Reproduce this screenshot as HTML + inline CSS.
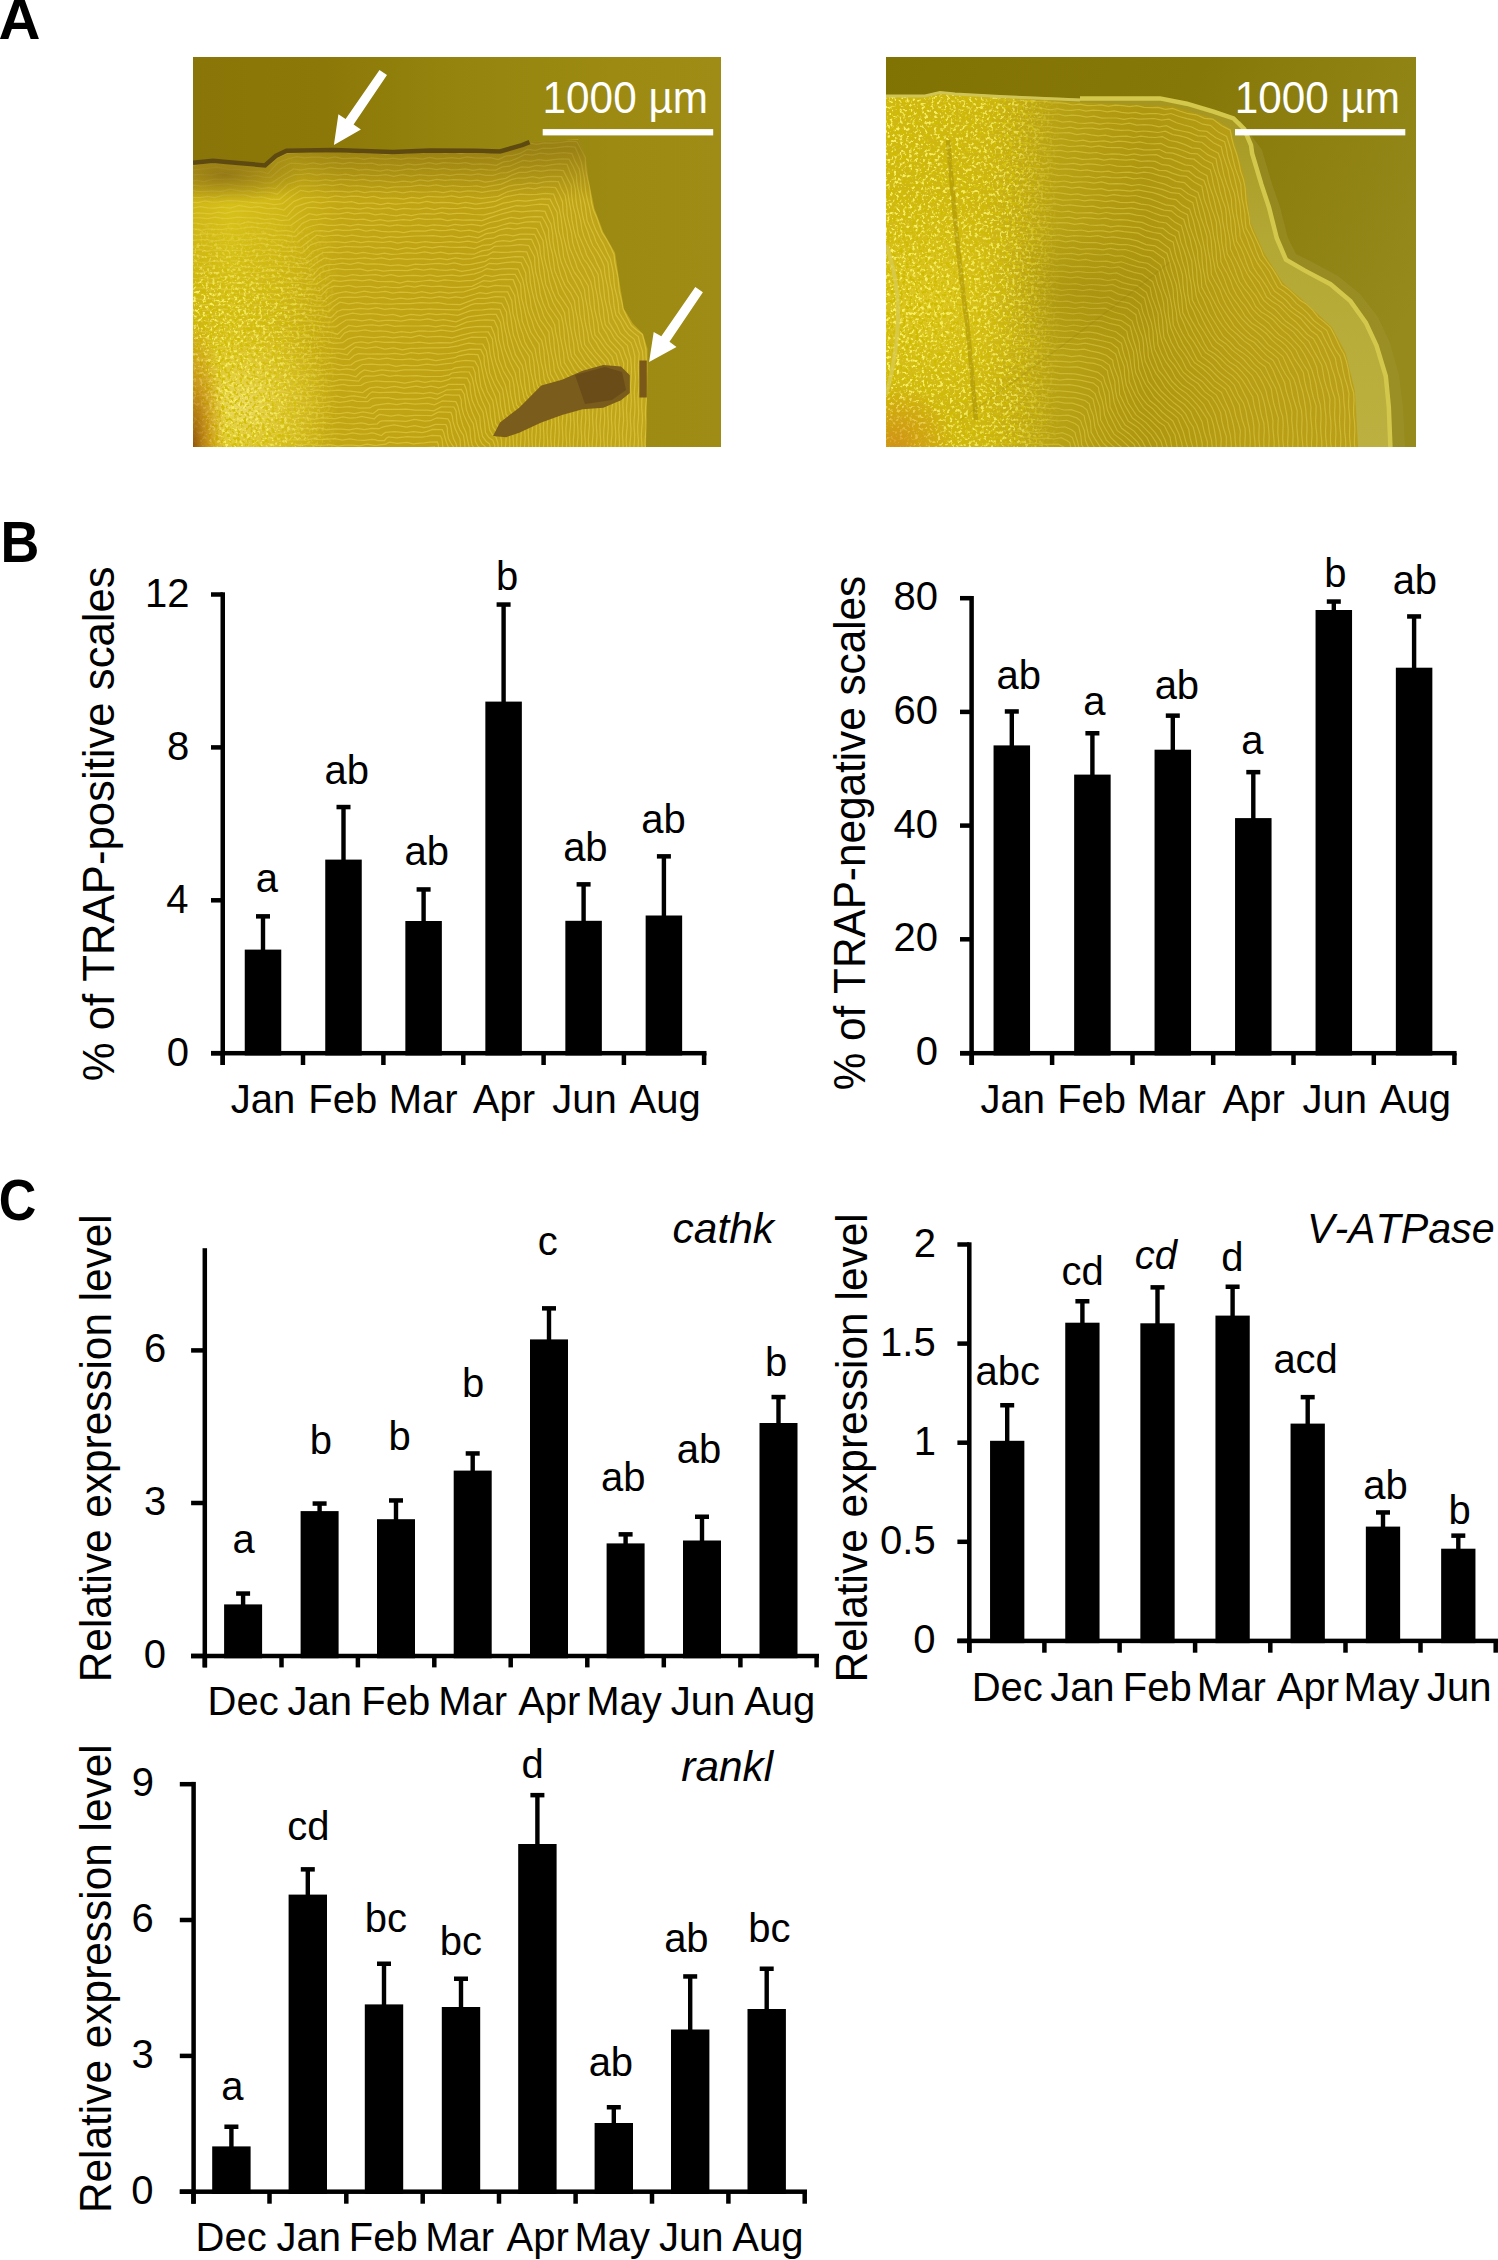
<!DOCTYPE html>
<html><head><meta charset="utf-8"><title>Figure</title>
<style>
html,body{margin:0;padding:0;background:#fff;}
body{width:1498px;height:2260px;overflow:hidden;}
svg{display:block;font-family:"Liberation Sans",sans-serif;}
text{font-kerning:none;}
</style></head>
<body>
<svg width="1498" height="2260" viewBox="0 0 1498 2260">
<rect width="1498" height="2260" fill="#fff"/>
<defs>
  <linearGradient id="bgL" x1="193" y1="0" x2="721" y2="0" gradientUnits="userSpaceOnUse">
    <stop offset="0" stop-color="#8a7608"/>
    <stop offset="0.25" stop-color="#8c7808"/>
    <stop offset="0.5" stop-color="#95850e"/>
    <stop offset="0.8" stop-color="#9c8a12"/>
    <stop offset="1" stop-color="#9e8c16"/>
  </linearGradient>
  <linearGradient id="scL" x1="193" y1="0" x2="650" y2="0" gradientUnits="userSpaceOnUse">
    <stop offset="0" stop-color="#cfb618"/>
    <stop offset="0.08" stop-color="#d6c01a"/>
    <stop offset="0.18" stop-color="#d0b818"/>
    <stop offset="0.32" stop-color="#c2a614"/>
    <stop offset="0.6" stop-color="#bea214"/>
    <stop offset="1" stop-color="#c0a61c"/>
  </linearGradient>
  <radialGradient id="hiL" cx="242" cy="405" r="90" gradientUnits="userSpaceOnUse">
    <stop offset="0" stop-color="#f2e27a" stop-opacity="0.75"/>
    <stop offset="0.5" stop-color="#ecd650" stop-opacity="0.4"/>
    <stop offset="1" stop-color="#e8d040" stop-opacity="0"/>
  </radialGradient>
  <radialGradient id="orL" cx="193" cy="447" r="130" gradientTransform="translate(193 447) scale(0.25 1) translate(-193 -447)" gradientUnits="userSpaceOnUse">
    <stop offset="0" stop-color="#8a4a08" stop-opacity="0.9"/>
    <stop offset="0.5" stop-color="#b87010" stop-opacity="0.5"/>
    <stop offset="1" stop-color="#c88818" stop-opacity="0"/>
  </radialGradient>
  <radialGradient id="brL" cx="225" cy="175" r="60" gradientTransform="translate(225 175) scale(1.3 0.5) translate(-225 -175)" gradientUnits="userSpaceOnUse">
    <stop offset="0" stop-color="#7a5a14" stop-opacity="0.6"/>
    <stop offset="1" stop-color="#7a5a14" stop-opacity="0"/>
  </radialGradient>
  <linearGradient id="topL" x1="0" y1="150" x2="0" y2="200" gradientUnits="userSpaceOnUse">
    <stop offset="0" stop-color="#6e5810" stop-opacity="0.45"/>
    <stop offset="1" stop-color="#6e5810" stop-opacity="0"/>
  </linearGradient>
  <linearGradient id="bgR" x1="886" y1="57" x2="1416" y2="300" gradientUnits="userSpaceOnUse">
    <stop offset="0" stop-color="#817204"/>
    <stop offset="0.5" stop-color="#867808"/>
    <stop offset="1" stop-color="#968a1c"/>
  </linearGradient>
  <linearGradient id="scR" x1="886" y1="0" x2="1360" y2="0" gradientUnits="userSpaceOnUse">
    <stop offset="0" stop-color="#d0b814"/>
    <stop offset="0.2" stop-color="#ceb612"/>
    <stop offset="0.35" stop-color="#b8a214"/>
    <stop offset="0.55" stop-color="#ae9610"/>
    <stop offset="0.75" stop-color="#b89e16"/>
    <stop offset="1" stop-color="#baa01a"/>
  </linearGradient>
  <linearGradient id="bandR" x1="0" y1="100" x2="0" y2="447" gradientUnits="userSpaceOnUse">
    <stop offset="0" stop-color="#a49620"/>
    <stop offset="0.4" stop-color="#b4a834"/>
    <stop offset="1" stop-color="#bcb040"/>
  </linearGradient>
  <radialGradient id="hiR" cx="930" cy="300" r="110" gradientUnits="userSpaceOnUse">
    <stop offset="0" stop-color="#e8d42a" stop-opacity="0.55"/>
    <stop offset="1" stop-color="#e8d42a" stop-opacity="0"/>
  </radialGradient>
  <radialGradient id="orR" cx="895" cy="445" r="60" gradientUnits="userSpaceOnUse">
    <stop offset="0" stop-color="#d08818" stop-opacity="0.75"/>
    <stop offset="1" stop-color="#d08818" stop-opacity="0"/>
  </radialGradient>
  <radialGradient id="dkR" cx="1080" cy="290" r="80" gradientTransform="translate(1080 290) scale(1.3 0.8) translate(-1080 -290)" gradientUnits="userSpaceOnUse">
    <stop offset="0" stop-color="#907808" stop-opacity="0.25"/>
    <stop offset="1" stop-color="#8a7a0a" stop-opacity="0"/>
  </radialGradient>
  <linearGradient id="rmaskG" x1="960" y1="0" x2="1070" y2="0" gradientUnits="userSpaceOnUse">
    <stop offset="0" stop-color="#fff" stop-opacity="0.15"/>
    <stop offset="1" stop-color="#fff" stop-opacity="1"/>
  </linearGradient>
  <mask id="rmask" maskUnits="userSpaceOnUse" x="886" y="57" width="530" height="390"><rect x="886" y="57" width="530" height="390" fill="url(#rmaskG)"/></mask>
  <filter id="spk" filterUnits="userSpaceOnUse" x="0" y="0" width="1498" height="480">
    <feTurbulence type="fractalNoise" baseFrequency="0.32" numOctaves="2" seed="7" result="n"/>
    <feColorMatrix in="n" type="matrix" values="0 0 0 0 0.95  0 0 0 0 0.88  0 0 0 0 0.14  0 0 0 6 -3.1"/>
    <feComposite in2="SourceGraphic" operator="in"/>
  </filter>
  <filter id="spkd" filterUnits="userSpaceOnUse" x="0" y="0" width="1498" height="480">
    <feTurbulence type="fractalNoise" baseFrequency="0.32" numOctaves="2" seed="11" result="n"/>
    <feColorMatrix in="n" type="matrix" values="0 0 0 0 0.62  0 0 0 0 0.5  0 0 0 0 0.0  0 0 0 6 -3.0"/>
    <feComposite in2="SourceGraphic" operator="in"/>
  </filter>
  <linearGradient id="spkGR" x1="886" y1="0" x2="1060" y2="0" gradientUnits="userSpaceOnUse">
    <stop offset="0" stop-color="#fff" stop-opacity="1"/>
    <stop offset="0.7" stop-color="#fff" stop-opacity="0.8"/>
    <stop offset="1" stop-color="#fff" stop-opacity="0"/>
  </linearGradient>
  <linearGradient id="spkGL" x1="193" y1="0" x2="340" y2="0" gradientUnits="userSpaceOnUse">
    <stop offset="0" stop-color="#fff" stop-opacity="1"/>
    <stop offset="0.6" stop-color="#fff" stop-opacity="0.7"/>
    <stop offset="1" stop-color="#fff" stop-opacity="0"/>
  </linearGradient>
  <linearGradient id="mLvG" x1="0" y1="215" x2="0" y2="300" gradientUnits="userSpaceOnUse">
    <stop offset="0" stop-color="#fff" stop-opacity="0.0"/>
    <stop offset="1" stop-color="#fff" stop-opacity="1"/>
  </linearGradient>
  <mask id="mLv" maskUnits="userSpaceOnUse" x="193" y="57" width="528" height="390"><rect x="193" y="57" width="528" height="390" fill="url(#mLvG)"/></mask>
  <clipPath id="cpL"><rect x="193" y="57" width="528" height="390"/></clipPath>
  <clipPath id="cpR"><rect x="886" y="57" width="530" height="390"/></clipPath>
  <clipPath id="scLclip"><path d="M193,162.7 L213,160.7 L226.4,162 L265,165.4 L275.8,156 L286.5,150.7 L333.2,150 L393,152 L430,150.5 L475.7,150.7 L500,151.5 L522.1,145.1 L529.5,142.1 L578.2,139.2 L585.6,156.9 L588.5,179 L594.4,208.5 L603.3,232.1 L615.1,252.8 L619.5,282.3 L623.9,308.8 L632.8,323.6 L643.1,333.9 L647.5,348.7 L647.5,370.8 L646,447 L193,447 Z"/></clipPath>
  <clipPath id="scRclip"><path d="M886,97 L925,97 L940,94 L955,95 L1000,97.5 L1080,102.4 L1173.5,106.4 L1213.5,118.4 L1230.9,129 L1234.9,145 L1244.5,176.8 L1250.7,222.8 L1264.5,253.5 L1282.9,282.7 L1307.5,304.2 L1332,327.2 L1345.8,353.3 L1355,391.7 L1358.1,447 L886,447 Z"/></clipPath>
</defs>
<g clip-path="url(#cpL)">
  <rect x="193" y="57" width="528" height="390" fill="url(#bgL)"/>
  <g clip-path="url(#scLclip)">
    <rect x="193" y="57" width="528" height="390" fill="url(#scL)"/>
    <path d="M-296.4,164.3 L-289.4,163.1 L-282.4,164.6 L-275.4,163.9 L-268.4,163.8 L-261.4,165.3 L-254.4,164.1 L-247.4,164.9 L-240.4,165.4 L-233.4,164.0 L-226.4,165.1 L-219.3,164.4 L-212.3,163.4 L-205.3,164.7 L-198.3,163.5 L-191.3,163.7 L-184.3,164.9 L-177.3,163.6 L-170.3,164.9 L-163.3,165.2 L-156.3,164.1 L-149.3,165.5 L-142.3,164.6 L-135.3,164.0 L-128.2,165.0 L-121.2,163.4 L-114.2,163.9 L-107.2,164.5 L-100.2,163.2 L-93.2,164.7 L-86.2,164.6 L-79.2,164.0 L-72.2,165.6 L-65.2,164.5 L-58.2,164.5 L-51.2,165.4 L-44.2,163.7 L-37.1,164.4 L-30.1,164.4 L-23.1,163.1 L-16.1,164.6 L-9.1,164.0 L-2.1,163.8 L4.9,165.3 L11.9,164.2 L18.9,164.8 L25.9,165.5 L32.9,163.9 L39.9,165.0 L46.9,164.5 L53.9,163.4 L61.0,164.7 L68.0,163.6 L75.0,163.7 L82.0,164.9 L89.0,163.7 L96.0,164.8 L103.0,165.2 L110.0,164.1 L117.0,165.5 L124.0,164.6 L131.0,163.9 L138.0,165.0 L145.0,163.5 L152.1,163.8 L159.1,164.6 L166.1,163.3 L173.1,164.7 L180.1,164.7 L187.1,164.0 L194.1,165.6 L204.2,163.1 L214.2,163.4 L227.4,163.2 L235.0,164.6 L242.6,163.8 L250.2,165.9 L257.9,165.9 L265.5,166.9 L271.3,163.4 L276.9,158.0 L287.4,153.3 L295.1,152.8 L302.9,151.9 L310.6,152.8 L318.3,150.9 L326.1,152.0 L333.8,151.2 L341.3,151.2 L348.7,152.8 L356.2,151.8 L363.6,153.4 L371.1,153.6 L378.5,153.1 L386.0,154.7 L393.5,153.3 L400.8,153.5 L408.1,153.2 L415.5,151.6 L422.8,152.8 L430.2,151.5 L437.7,152.0 L445.3,153.0 L452.9,151.9 L460.5,153.5 L468.1,152.5 L475.6,152.6 L483.7,153.3 L491.8,152.1 L499.9,153.7 L507.0,150.1 L514.1,148.6 L521.3,147.1 L528.5,143.0 L536.5,144.4 L544.6,142.8 L552.7,143.2 L560.7,142.5 L568.8,141.2 L576.9,141.6 L581.1,149.5 L585.2,157.5 L585.5,164.8 L586.2,172.2 L587.7,179.6 L589.5,187.2 L590.5,194.9 L591.5,202.6 L593.5,210.2 L596.9,218.0 L599.3,225.2 L601.9,232.4 L606.3,239.2 L610.6,247.1 L614.1,254.7 L614.7,262.0 L616.2,269.2 L617.8,276.3 L618.5,283.4 L619.4,291.9 L621.5,300.4 L623.2,309.1 L627.0,317.1 L631.3,325.6 L636.9,330.3 L642.4,334.4 L644.3,341.9 L645.9,349.6 L646.1,357.0 L646.7,364.3 L646.6,371.6 L645.8,378.8 L645.8,385.9 L646.4,393.0 L646.3,400.1 L645.6,407.2 L645.4,414.4 L646.0,421.5 L646.1,428.6 L645.4,435.7 L645.0,442.9 L645.5,450.0 L645.8,457.1 L645.2,464.2 L644.7,471.4 L645.1,478.5 L645.5,485.6 L645.0,492.7 L644.4,499.9 M-285.4,170.8 L-278.3,170.0 L-271.2,169.9 L-264.1,170.9 L-257.0,169.3 L-249.9,169.9 L-242.8,170.0 L-235.7,168.6 L-228.6,170.0 L-221.5,169.2 L-214.4,169.1 L-207.3,170.6 L-200.2,169.4 L-193.1,170.3 L-186.0,170.8 L-178.9,169.4 L-171.9,170.7 L-164.8,169.8 L-157.7,169.1 L-150.6,170.2 L-143.5,168.7 L-136.4,169.3 L-129.3,170.0 L-122.2,168.9 L-115.1,170.4 L-108.0,170.2 L-100.9,169.6 L-93.8,171.1 L-86.7,169.7 L-79.6,169.9 L-72.5,170.4 L-65.4,168.7 L-58.3,169.8 L-51.2,169.4 L-44.1,168.7 L-37.0,170.3 L-29.9,169.4 L-22.8,169.8 L-15.7,170.9 L-8.6,169.5 L-1.5,170.6 L5.6,170.3 L12.7,169.1 L19.8,170.4 L26.9,169.1 L34.0,169.0 L41.1,170.1 L48.2,168.7 L55.3,170.0 L62.4,170.2 L69.5,169.4 L76.6,171.0 L83.7,170.0 L90.8,169.8 L97.9,170.7 L105.0,169.0 L112.1,169.7 L119.2,169.7 L126.3,168.5 L133.4,170.1 L140.4,169.4 L147.5,169.4 L154.6,170.8 L161.7,169.5 L168.8,170.4 L175.9,170.7 L183.0,169.3 L190.1,170.5 L197.2,169.5 L207.0,168.5 L216.7,167.1 L229.9,169.7 L237.5,169.2 L245.1,170.9 L252.7,171.9 L260.3,171.5 L268.0,173.6 L272.9,168.1 L278.2,162.5 L289.1,158.5 L296.8,156.7 L304.4,157.9 L312.0,157.2 L319.7,157.1 L327.3,158.3 L334.9,156.9 L342.2,158.6 L349.5,158.3 L356.8,157.9 L364.1,159.3 L371.4,157.8 L378.7,158.7 L386.0,159.0 L393.3,158.1 L400.5,159.4 L407.8,158.2 L415.1,158.2 L422.4,159.1 L429.6,157.5 L437.1,158.8 L444.5,158.3 L452.0,157.6 L459.4,158.7 L466.9,157.0 L474.4,157.9 L482.3,158.0 L490.2,157.7 L498.1,159.5 L505.5,156.1 L512.9,155.3 L520.2,153.3 L527.5,149.4 L535.4,150.3 L543.3,148.1 L551.2,148.4 L559.2,147.4 L567.1,146.3 L575.0,147.1 L578.6,155.0 L581.5,163.1 L582.7,170.3 L584.2,177.6 L585.0,184.9 L585.8,192.5 L587.4,200.1 L589.5,207.8 L590.9,215.3 L593.1,223.2 L596.0,230.4 L599.6,237.5 L603.4,244.1 L606.7,251.8 L610.4,259.3 L612.1,266.5 L613.4,273.6 L613.9,280.6 L614.6,287.6 L616.8,295.9 L618.3,304.1 L619.0,312.5 L623.5,319.9 L628.5,328.1 L633.6,332.9 L638.3,336.6 L639.9,343.6 L642.4,351.1 L643.0,358.3 L642.7,365.5 L642.1,372.7 L642.2,379.7 L642.8,386.8 L642.6,393.8 L641.8,400.8 L641.7,407.8 L642.3,414.8 L642.4,421.8 L641.7,428.8 L641.3,435.9 L641.8,442.9 L642.1,449.9 L641.5,456.9 L641.0,463.9 L641.3,471.0 L641.8,478.0 L641.4,485.0 L640.7,492.0 L640.8,499.0 M-273.3,174.5 L-266.2,175.6 L-259.1,174.0 L-252.0,174.9 L-244.9,175.4 L-237.8,174.3 L-230.7,176.0 L-223.7,175.5 L-216.6,175.1 L-209.5,176.4 L-202.4,174.9 L-195.3,175.3 L-188.2,175.6 L-181.1,174.1 L-174.0,175.3 L-167.0,174.7 L-159.9,174.2 L-152.8,175.8 L-145.7,174.7 L-138.6,175.4 L-131.5,176.2 L-124.4,174.9 L-117.4,176.1 L-110.3,175.6 L-103.2,174.5 L-96.1,175.7 L-89.0,174.4 L-81.9,174.5 L-74.8,175.4 L-67.8,174.1 L-60.7,175.5 L-53.6,175.6 L-46.5,174.8 L-39.4,176.4 L-32.3,175.3 L-25.2,175.2 L-18.2,176.1 L-11.1,174.3 L-4.0,175.1 L3.1,175.1 L10.2,173.9 L17.3,175.5 L24.4,174.8 L31.4,174.8 L38.5,176.2 L45.6,174.9 L52.7,175.8 L59.8,176.1 L66.9,174.6 L74.0,175.8 L81.0,174.9 L88.1,174.3 L95.2,175.5 L102.3,174.1 L109.4,174.9 L116.5,175.7 L123.6,174.6 L130.6,176.1 L137.7,175.7 L144.8,175.0 L151.9,176.3 L159.0,174.8 L166.1,175.0 L173.2,175.5 L180.2,173.9 L187.3,175.2 L194.4,174.9 L201.5,174.3 L211.1,175.0 L220.7,173.0 L233.7,174.8 L241.1,175.1 L248.5,176.6 L255.9,175.5 L263.3,177.2 L270.7,177.4 L280.9,168.5 L290.7,163.1 L298.2,163.5 L305.7,164.4 L313.2,163.0 L320.7,164.3 L328.2,163.2 L335.7,162.7 L342.9,163.8 L350.1,162.3 L357.3,163.5 L364.5,163.7 L371.8,163.1 L379.0,165.0 L386.2,164.3 L393.4,165.0 L400.5,165.7 L407.6,164.0 L414.7,164.8 L421.8,164.1 L428.9,162.7 L436.3,164.0 L443.6,162.6 L450.9,163.0 L458.3,163.7 L465.6,162.6 L472.9,164.3 L480.8,163.9 L488.6,164.4 L496.4,165.4 L503.4,161.9 L510.4,161.0 L517.5,158.2 L524.8,154.5 L532.6,155.2 L540.5,153.2 L548.4,154.0 L556.2,153.3 L564.1,152.7 L571.9,153.6 L575.1,161.4 L579.3,169.3 L580.5,176.4 L580.8,183.5 L581.4,190.7 L583.4,198.1 L585.2,205.5 L586.1,213.0 L587.1,220.4 L590.4,228.0 L593.8,235.0 L596.1,241.8 L599.5,248.0 L603.6,255.3 L607.9,262.6 L608.8,269.7 L609.3,276.7 L610.4,283.7 L612.1,290.5 L613.4,298.6 L614.1,306.7 L615.9,314.9 L620.7,322.0 L624.7,330.1 L629.2,335.3 L634.0,339.1 L636.6,346.0 L639.2,353.3 L638.7,360.4 L638.2,367.5 L638.6,374.6 L639.1,381.9 L638.7,389.2 L638.0,396.5 L638.2,403.8 L638.7,411.1 L638.4,418.4 L637.7,425.7 L637.8,433.0 L638.4,440.3 L638.1,447.7 L637.4,455.0 L637.4,462.3 L638.0,469.6 L637.8,476.9 L637.1,484.2 L637.0,491.5 L637.6,498.8 M-262.8,180.0 L-255.7,181.0 L-248.6,181.5 L-241.5,180.3 L-234.5,181.6 L-227.4,180.7 L-220.3,180.0 L-213.3,181.1 L-206.2,179.6 L-199.1,180.1 L-192.0,180.8 L-185.0,179.5 L-177.9,181.1 L-170.8,180.9 L-163.7,180.3 L-156.7,181.8 L-149.6,180.6 L-142.5,180.7 L-135.4,181.3 L-128.4,179.6 L-121.3,180.6 L-114.2,180.3 L-107.1,179.4 L-100.1,181.0 L-93.0,180.1 L-85.9,180.4 L-78.8,181.6 L-71.8,180.3 L-64.7,181.3 L-57.6,181.3 L-50.6,180.0 L-43.5,181.2 L-36.4,180.1 L-29.3,179.7 L-22.3,180.9 L-15.2,179.5 L-8.1,180.5 L-1.0,181.0 L6.0,180.0 L13.1,181.6 L20.2,181.0 L27.3,180.5 L34.3,181.7 L41.4,180.1 L48.5,180.4 L55.6,180.8 L62.6,179.3 L69.7,180.6 L76.8,180.3 L83.8,179.8 L90.9,181.5 L98.0,180.4 L105.1,180.9 L112.1,181.7 L119.2,180.2 L126.3,181.2 L133.4,180.8 L140.4,179.6 L147.5,180.9 L154.6,179.8 L161.7,179.9 L168.7,181.1 L175.8,179.8 L182.9,181.1 L190.0,181.3 L197.0,180.3 L204.1,181.7 L213.6,179.2 L223.2,179.3 L235.8,178.8 L243.0,180.9 L250.3,180.3 L257.6,181.5 L264.9,183.1 L272.2,182.6 L283.1,175.5 L293.5,168.9 L300.9,170.2 L308.3,168.6 L315.6,168.6 L323.0,169.0 L330.4,167.4 L337.8,168.7 L344.8,168.4 L351.9,168.4 L359.0,170.2 L366.1,169.3 L373.1,170.2 L380.2,171.0 L387.3,169.7 L394.3,171.1 L401.4,170.1 L408.4,168.9 L415.4,169.9 L422.4,168.4 L429.4,168.4 L436.6,169.5 L443.8,168.3 L451.1,169.8 L458.3,169.7 L465.5,169.0 L472.7,170.4 L480.4,169.1 L488.0,169.9 L495.7,170.0 L502.7,166.8 L509.6,166.2 L516.4,163.3 L523.2,160.4 L530.8,161.4 L538.5,159.6 L546.1,160.7 L553.7,159.6 L561.4,158.8 L569.0,159.2 L573.2,166.7 L576.4,174.3 L576.7,181.2 L577.9,188.2 L579.5,195.2 L580.7,202.4 L581.5,209.7 L582.9,217.0 L584.9,224.2 L587.8,231.8 L590.0,238.8 L592.7,245.5 L597.0,251.6 L601.0,258.7 L604.2,266.2 L604.8,273.3 L606.2,280.3 L607.8,287.2 L608.6,294.0 L609.3,302.1 L611.2,310.2 L613.0,318.2 L616.7,325.1 L620.5,333.2 L631.0,342.8 L633.3,349.4 L634.8,356.4 L634.6,366.8 L635.4,377.3 L634.9,384.5 L634.3,391.7 L634.6,398.9 L635.0,406.1 L634.7,413.3 L634.0,420.5 L634.1,427.6 L634.7,434.8 L634.4,442.0 L633.7,449.2 L633.7,456.4 L634.3,463.6 L634.2,470.8 L633.4,478.0 L633.3,485.2 L633.8,492.4 L633.9,499.6 M-250.9,186.5 L-243.8,184.9 L-236.8,186.2 L-229.7,185.5 L-222.6,185.0 L-215.6,186.5 L-208.5,185.4 L-201.5,186.1 L-194.4,187.0 L-187.3,185.7 L-180.3,186.9 L-173.2,186.5 L-166.1,185.4 L-159.1,186.6 L-152.0,185.3 L-145.0,185.3 L-137.9,186.2 L-130.8,184.8 L-123.8,186.1 L-116.7,186.3 L-109.7,185.5 L-102.6,187.1 L-95.5,186.2 L-88.5,186.0 L-81.4,187.0 L-74.3,185.3 L-67.3,185.9 L-60.2,186.0 L-53.2,184.7 L-46.1,186.2 L-39.0,185.6 L-32.0,185.4 L-24.9,186.9 L-17.9,185.8 L-10.8,186.4 L-3.7,187.0 L3.3,185.5 L10.4,186.6 L17.4,186.0 L24.5,185.0 L31.6,186.3 L38.6,185.0 L45.7,185.4 L52.8,186.5 L59.8,185.2 L66.9,186.6 L73.9,186.6 L81.0,185.7 L88.1,187.1 L95.1,185.9 L102.2,185.7 L109.2,186.5 L116.3,184.9 L123.4,185.7 L130.4,185.9 L137.5,184.9 L144.6,186.6 L151.6,186.0 L158.7,185.8 L165.7,187.2 L172.8,185.8 L179.9,186.4 L186.9,186.7 L194.0,185.1 L201.0,186.2 L208.1,185.6 L217.3,184.5 L226.5,184.0 L239.1,186.0 L246.4,186.2 L253.6,186.5 L260.9,188.5 L268.1,187.6 L275.3,188.7 L284.6,179.3 L294.6,174.7 L301.9,174.5 L309.1,173.5 L316.4,175.0 L323.6,173.9 L330.9,174.3 L338.1,175.2 L346.1,174.1 L354.0,175.8 L361.9,174.7 L369.9,175.3 L377.8,175.5 L385.8,174.7 L393.7,176.3 L402.3,174.6 L411.0,176.0 L419.6,174.6 L428.2,175.5 L435.3,175.3 L442.4,174.4 L449.5,175.7 L456.6,174.4 L463.7,174.3 L470.7,175.1 L478.3,173.8 L485.8,175.4 L493.3,175.3 L500.3,173.0 L507.3,172.6 L514.4,169.6 L521.5,167.0 L529.1,167.4 L536.7,165.4 L544.3,166.1 L551.9,164.6 L559.5,163.8 L567.0,164.3 L569.8,171.8 L573.1,179.4 L575.3,189.6 L576.0,200.1 L577.1,207.2 L579.0,214.4 L580.8,221.7 L581.8,228.9 L584.0,236.6 L587.1,243.6 L590.4,250.3 L593.9,256.3 L596.9,263.4 L600.6,270.8 L602.7,280.2 L603.8,289.4 L604.6,298.4 L606.5,306.4 L608.2,314.3 L608.9,322.1 L612.8,328.6 L617.6,336.2 L627.4,345.6 L628.8,351.9 L630.7,358.4 L631.5,368.7 L631.1,379.0 L630.6,386.1 L630.9,393.2 L631.3,400.3 L630.9,407.4 L630.2,414.4 L630.4,421.5 L631.0,428.6 L630.7,435.7 L630.0,442.8 L630.0,449.9 L630.5,457.0 L630.5,464.1 L629.8,471.1 L629.5,478.2 L630.1,485.3 L630.3,492.4 L629.6,499.5 M-239.4,191.8 L-232.4,191.5 L-225.4,191.1 L-218.3,192.6 L-211.3,191.3 L-204.2,191.6 L-197.2,192.2 L-190.1,190.5 L-183.1,191.5 L-176.0,191.1 L-169.0,190.2 L-161.9,191.7 L-154.9,190.8 L-147.8,191.1 L-140.8,192.3 L-133.7,191.0 L-126.7,192.1 L-119.6,192.2 L-112.6,190.9 L-105.5,192.1 L-98.5,191.0 L-91.4,190.6 L-84.4,191.7 L-77.3,190.3 L-70.3,191.1 L-63.2,191.8 L-56.2,190.7 L-49.1,192.2 L-42.1,191.8 L-35.0,191.2 L-28.0,192.6 L-20.9,191.1 L-13.9,191.2 L-6.9,191.8 L0.2,190.2 L7.2,191.3 L14.3,191.2 L21.3,190.4 L28.4,192.1 L35.4,191.2 L42.5,191.4 L49.5,192.6 L56.6,191.1 L63.6,191.9 L70.7,191.9 L77.7,190.5 L84.8,191.7 L91.8,190.8 L98.9,190.4 L105.9,191.8 L113.0,190.6 L120.0,191.5 L127.1,192.2 L134.1,191.0 L141.2,192.4 L148.2,191.8 L155.3,191.0 L162.3,192.2 L169.4,190.7 L176.4,190.8 L183.5,191.6 L190.5,190.2 L197.6,191.5 L204.6,191.6 L211.6,190.8 L220.9,191.6 L230.1,189.2 L242.3,191.4 L249.3,190.6 L256.3,192.5 L263.3,192.0 L270.3,192.3 L277.3,194.2 L287.7,184.2 L297.2,181.2 L304.3,179.8 L311.4,180.9 L318.5,180.9 L325.6,179.6 L332.7,180.8 L339.9,179.4 L347.7,179.6 L355.5,180.4 L363.4,179.3 L371.2,181.2 L379.1,180.4 L386.9,181.6 L394.7,182.3 L403.2,181.2 L411.6,182.0 L420.0,180.0 L428.5,181.0 L436.8,179.3 L445.2,180.3 L453.6,179.7 L461.9,179.9 L470.3,180.8 L477.7,180.1 L485.2,182.0 L492.6,181.2 L499.2,179.3 L505.7,178.3 L512.3,174.8 L518.9,172.4 L526.3,172.3 L533.7,170.4 L541.1,171.4 L548.6,170.2 L556.0,169.9 L563.4,170.7 L567.2,178.1 L571.2,185.7 L571.7,195.7 L573.1,206.0 L575.6,215.3 L576.8,224.8 L578.3,234.3 L581.6,241.8 L584.6,248.6 L586.7,255.1 L590.0,260.8 L594.0,267.4 L598.1,274.5 L599.0,283.7 L599.9,292.7 L601.9,301.6 L603.4,309.4 L604.0,317.2 L605.4,324.9 L610.1,330.8 L614.2,338.1 L622.9,347.8 L625.0,354.0 L627.6,360.4 L627.4,370.5 L626.9,380.6 L627.4,388.0 L627.6,395.4 L626.9,402.8 L626.5,410.2 L627.0,417.6 L627.3,425.0 L626.6,432.4 L626.2,439.8 L626.6,447.2 L626.9,454.6 L626.3,462.1 L625.8,469.5 L626.2,476.9 L626.6,484.3 L626.0,491.7 L625.5,499.1 M-228.7,196.4 L-221.7,197.5 L-214.7,196.0 L-207.6,196.2 L-200.6,196.9 L-193.6,195.6 L-186.5,196.9 L-179.5,196.9 L-172.4,196.2 L-165.4,197.9 L-158.4,196.9 L-151.3,196.9 L-144.3,197.9 L-137.3,196.2 L-130.2,196.9 L-123.2,196.9 L-116.2,195.5 L-109.1,196.9 L-102.1,196.3 L-95.1,196.1 L-88.0,197.6 L-81.0,196.5 L-74.0,197.2 L-66.9,197.8 L-59.9,196.4 L-52.9,197.5 L-45.8,196.9 L-38.8,195.9 L-31.7,197.2 L-24.7,195.9 L-17.7,196.1 L-10.6,197.2 L-3.6,195.9 L3.4,197.2 L10.5,197.4 L17.5,196.5 L24.5,197.9 L31.6,196.9 L38.6,196.5 L45.6,197.5 L52.7,195.8 L59.7,196.4 L66.7,196.8 L73.8,195.6 L80.8,197.1 L87.8,196.8 L94.9,196.4 L101.9,198.0 L109.0,196.8 L116.0,197.1 L123.0,197.7 L130.1,196.0 L137.1,197.0 L144.1,196.6 L151.2,195.6 L158.2,197.1 L165.2,196.1 L172.3,196.3 L179.3,197.6 L186.3,196.4 L193.4,197.4 L200.4,197.7 L207.4,196.4 L214.5,197.6 L223.4,195.2 L232.4,195.0 L244.5,194.9 L253.2,197.3 L261.9,197.0 L270.6,199.1 L279.4,199.4 L289.0,191.5 L299.1,186.0 L307.5,185.9 L315.9,185.8 L324.3,184.7 L332.7,185.7 L341.1,184.2 L348.8,186.1 L356.5,185.6 L364.1,186.3 L371.8,187.4 L379.4,186.3 L387.1,188.0 L394.7,186.8 L403.1,186.8 L411.4,186.3 L419.8,185.2 L428.1,186.1 L436.3,184.8 L444.6,186.7 L452.8,185.6 L461.0,186.7 L469.2,186.5 L476.4,186.0 L483.7,187.3 L491.0,185.9 L501.2,184.1 L511.2,179.7 L517.9,178.0 L525.2,178.0 L532.4,176.7 L539.7,178.0 L547.0,176.6 L554.3,176.3 L561.5,176.7 L564.9,183.9 L567.5,191.0 L569.1,200.9 L570.9,210.8 L571.9,219.9 L573.7,229.2 L576.2,238.4 L578.6,245.7 L580.7,252.4 L583.5,258.8 L587.6,264.2 L591.3,270.6 L594.3,277.7 L595.3,286.8 L597.3,295.7 L598.6,304.6 L599.2,312.4 L600.8,320.1 L602.8,327.7 L606.5,333.6 L609.9,340.7 L619.4,351.2 L623.8,363.6 L623.0,373.6 L623.7,383.5 L623.9,390.8 L623.2,398.1 L622.8,405.3 L623.3,412.6 L623.6,419.9 L622.9,427.2 L622.4,434.4 L622.9,441.7 L623.2,449.0 L622.7,456.3 L622.1,463.5 L622.4,470.8 L622.9,478.1 L622.4,485.4 L621.8,492.6 L622.0,499.9 M-216.5,201.3 L-209.4,202.0 L-202.4,203.0 L-195.4,201.7 L-188.4,203.0 L-181.4,202.9 L-174.3,201.8 L-167.3,203.1 L-160.3,201.8 L-153.3,201.5 L-146.3,202.5 L-139.2,201.0 L-132.2,201.9 L-125.2,202.4 L-118.2,201.4 L-111.1,203.0 L-104.1,202.5 L-97.1,202.1 L-90.1,203.4 L-83.1,201.9 L-76.0,202.2 L-69.0,202.6 L-62.0,201.0 L-55.0,202.1 L-48.0,201.9 L-40.9,201.1 L-33.9,202.8 L-26.9,201.9 L-19.9,202.2 L-12.9,203.4 L-5.8,201.9 L1.2,202.8 L8.2,202.8 L15.2,201.4 L22.3,202.6 L29.3,201.7 L36.3,201.2 L43.3,202.5 L50.3,201.3 L57.4,202.1 L64.4,203.0 L71.4,201.7 L78.4,203.1 L85.4,202.8 L92.5,201.8 L99.5,203.1 L106.5,201.7 L113.5,201.6 L120.6,202.5 L127.6,201.0 L134.6,202.0 L141.6,202.4 L148.6,201.4 L155.7,203.1 L162.7,202.5 L169.7,202.1 L176.7,203.4 L183.7,201.8 L190.8,202.2 L197.8,202.6 L204.8,201.0 L211.8,202.2 L218.9,201.9 L227.6,200.7 L236.4,200.9 L248.3,202.0 L256.9,202.9 L265.4,203.1 L273.9,204.6 L282.4,203.7 L291.5,196.6 L300.6,190.3 L308.8,191.8 L317.0,190.4 L325.3,191.8 L333.5,191.2 L341.8,191.3 L349.3,192.2 L356.9,191.0 L364.4,192.5 L372.0,191.5 L379.6,191.6 L387.1,192.6 L394.7,191.5 L402.8,192.8 L411.0,191.5 L419.1,192.1 L427.3,192.0 L435.3,191.4 L443.4,192.6 L451.5,190.9 L459.6,192.1 L467.6,190.8 L474.8,191.1 L482.0,192.3 L489.1,191.2 L498.8,190.2 L508.5,186.1 L515.2,184.8 L522.4,184.3 L529.7,182.8 L536.9,183.7 L544.1,181.9 L551.3,181.4 L558.5,181.7 L561.3,188.7 L565.2,195.8 L566.7,205.5 L567.2,215.3 L569.3,224.3 L571.6,233.4 L572.7,242.6 L575.0,249.9 L578.1,256.8 L581.2,263.2 L584.3,268.6 L587.2,275.0 L590.7,282.0 L592.8,291.0 L593.9,300.0 L594.5,308.8 L596.3,316.5 L598.1,324.2 L598.8,331.7 L602.3,337.4 L606.6,344.1 L616.3,354.4 L619.3,366.6 L619.8,376.3 L620.1,386.1 L619.4,393.2 L619.1,400.4 L619.6,407.5 L619.8,414.7 L619.2,421.8 L618.7,429.0 L619.2,436.1 L619.5,443.3 L619.0,450.4 L618.4,457.6 L618.7,464.8 L619.2,471.9 L618.8,479.1 L618.1,486.2 L618.2,493.4 L618.8,500.5 M-205.8,208.6 L-198.8,207.0 L-191.8,207.9 L-184.8,207.5 L-177.8,206.4 L-170.8,207.8 L-163.8,206.9 L-156.8,206.9 L-149.8,208.3 L-142.8,207.1 L-135.8,208.1 L-128.8,208.5 L-121.7,207.2 L-114.7,208.5 L-107.7,207.7 L-100.7,206.9 L-93.7,208.0 L-86.7,206.6 L-79.7,207.0 L-72.7,207.9 L-65.7,206.6 L-58.7,208.0 L-51.7,208.1 L-44.7,207.2 L-37.7,208.8 L-30.7,207.7 L-23.6,207.4 L-16.6,208.4 L-9.6,206.7 L-2.6,207.3 L4.4,207.6 L11.4,206.3 L18.4,207.8 L25.4,207.5 L32.4,207.1 L39.4,208.7 L46.4,207.6 L53.4,207.9 L60.4,208.6 L67.4,207.0 L74.4,207.8 L81.5,207.6 L88.5,206.4 L95.5,207.8 L102.5,206.9 L109.5,206.9 L116.5,208.3 L123.5,207.1 L130.5,208.0 L137.5,208.6 L144.5,207.2 L151.5,208.4 L158.5,207.7 L165.5,206.8 L172.5,208.0 L179.6,206.7 L186.6,206.9 L193.6,207.9 L200.6,206.6 L207.6,207.9 L214.6,208.2 L221.6,207.2 L230.3,208.0 L239.1,205.4 L250.6,207.7 L258.9,206.6 L267.2,208.7 L275.5,208.1 L283.9,210.0 L293.9,201.4 L303.4,197.7 L311.5,197.6 L319.6,196.9 L327.7,197.8 L335.8,196.0 L343.9,197.1 L351.3,196.1 L358.7,196.4 L366.1,197.5 L373.5,196.4 L380.9,198.3 L388.3,198.1 L395.7,198.2 L403.8,199.1 L411.8,197.3 L419.8,198.3 L427.8,196.5 L435.7,196.8 L443.7,197.0 L451.6,195.9 L459.5,197.6 L467.4,196.3 L474.5,197.7 L481.5,198.4 L488.5,197.5 L498.0,196.3 L507.4,191.8 L513.6,190.3 L520.6,189.2 L527.6,187.9 L534.6,188.8 L541.6,187.1 L548.6,187.1 L555.6,187.7 L559.5,194.8 L562.5,201.9 L563.0,211.4 L564.9,221.1 L566.9,230.0 L567.8,238.9 L569.6,248.0 L572.8,255.2 L575.4,262.0 L577.3,268.3 L582.4,276.4 L588.3,286.2 L589.1,295.0 L589.9,303.8 L591.8,312.4 L593.3,320.0 L594.0,327.5 L595.0,334.9 L599.4,340.2 L603.6,346.4 L611.9,356.5 L615.9,368.5 L616.4,378.1 L615.6,387.7 L615.5,394.7 L616.0,401.7 L616.1,408.7 L615.4,415.8 L615.0,422.8 L615.5,429.8 L615.8,436.8 L615.3,443.8 L614.7,450.9 L615.0,457.9 L615.5,464.9 L615.1,471.9 L614.4,479.0 L614.5,486.0 L615.0,493.0 L615.0,500.0 M-194.3,212.9 L-187.2,212.8 L-180.0,212.2 L-172.9,213.9 L-165.8,212.9 L-158.7,213.2 L-151.6,214.1 L-144.5,212.5 L-137.4,213.5 L-130.3,213.1 L-123.2,211.9 L-116.1,213.3 L-108.9,212.1 L-101.8,212.3 L-94.7,213.5 L-87.6,212.3 L-80.5,213.6 L-73.4,213.7 L-66.3,212.7 L-59.2,214.1 L-52.1,212.9 L-44.9,212.6 L-37.8,213.5 L-30.7,211.8 L-23.6,212.7 L-16.5,212.9 L-9.4,211.9 L-2.3,213.6 L4.8,212.9 L11.9,212.9 L19.1,214.2 L26.2,212.7 L33.3,213.5 L40.4,213.5 L47.5,212.0 L54.6,213.3 L61.7,212.3 L68.8,212.1 L75.9,213.4 L83.1,212.1 L90.2,213.2 L97.3,213.7 L104.4,212.6 L111.5,214.1 L118.6,213.2 L125.7,212.7 L132.8,213.7 L139.9,212.1 L147.1,212.6 L154.2,213.0 L161.3,211.7 L168.4,213.3 L175.5,212.9 L182.6,212.6 L189.7,214.1 L196.8,212.9 L203.9,213.4 L211.1,213.8 L218.2,212.2 L225.3,213.4 L233.7,211.4 L242.1,210.9 L253.6,211.5 L261.9,213.2 L270.2,214.1 L278.5,214.5 L286.8,216.4 L295.3,206.9 L304.5,203.6 L312.5,201.7 L320.4,202.8 L328.4,201.6 L336.4,201.7 L344.3,202.4 L351.6,201.6 L358.8,203.5 L366.1,203.1 L373.3,203.2 L380.6,204.6 L387.8,203.2 L395.1,204.2 L403.0,203.5 L410.9,202.3 L418.8,203.2 L426.7,201.4 L434.4,202.9 L442.2,202.5 L450.0,202.7 L457.8,203.8 L465.5,202.4 L475.9,204.1 L486.2,202.7 L495.8,201.1 L505.5,196.8 L512.0,195.6 L520.3,194.1 L528.6,194.5 L537.0,194.3 L545.3,193.4 L553.6,194.1 L556.1,200.9 L559.0,207.7 L561.0,217.0 L562.1,226.4 L563.1,235.0 L565.3,243.7 L567.4,252.5 L569.4,259.6 L571.5,266.1 L574.4,272.2 L580.0,279.9 L584.4,289.3 L585.4,297.9 L587.3,306.5 L588.6,315.1 L589.2,322.6 L590.5,330.1 L592.4,337.4 L596.2,342.7 L599.4,348.6 L608.0,359.1 L612.6,371.3 L611.9,380.7 L611.8,390.1 L612.4,397.5 L612.3,404.8 L611.5,412.2 L611.4,419.5 L612.0,426.9 L612.0,434.2 L611.2,441.6 L611.1,448.9 L611.6,456.3 L611.7,463.6 L610.9,470.9 L610.7,478.3 L611.2,485.6 L611.3,493.0 L610.6,500.3 M-182.5,218.1 L-175.4,219.5 L-168.3,218.2 L-161.2,218.0 L-154.1,218.8 L-147.0,217.2 L-139.9,218.2 L-132.8,218.2 L-125.7,217.4 L-118.6,219.1 L-111.5,218.3 L-104.4,218.4 L-97.3,219.6 L-90.2,218.1 L-83.1,218.9 L-76.0,218.8 L-68.9,217.4 L-61.8,218.7 L-54.7,217.7 L-47.6,217.5 L-40.5,218.8 L-33.4,217.6 L-26.3,218.6 L-19.3,219.1 L-12.2,218.0 L-5.1,219.5 L2.0,218.6 L9.1,218.0 L16.2,219.1 L23.3,217.5 L30.4,218.0 L37.5,218.4 L44.6,217.2 L51.7,218.7 L58.8,218.3 L65.9,218.0 L73.0,219.6 L80.1,218.3 L87.2,218.8 L94.3,219.2 L101.4,217.6 L108.5,218.7 L115.6,218.1 L122.7,217.3 L129.8,218.7 L136.9,217.6 L144.0,218.1 L151.1,219.1 L158.2,217.9 L165.3,219.3 L172.4,219.0 L179.5,218.0 L186.6,219.3 L193.7,217.9 L200.8,217.8 L207.9,218.6 L215.0,217.1 L222.1,218.3 L229.2,218.4 L237.6,217.1 L245.9,217.7 L257.1,217.8 L265.1,219.6 L273.1,218.6 L281.1,220.6 L289.1,219.8 L298.4,212.7 L307.0,207.6 L314.8,207.7 L322.5,208.6 L330.3,207.4 L338.1,209.0 L345.9,207.8 L353.1,208.3 L360.2,209.1 L367.4,207.7 L374.5,208.9 L381.7,208.7 L388.8,208.0 L396.0,209.8 L403.7,208.3 L411.4,208.9 L419.1,209.0 L426.8,207.9 L434.4,209.5 L442.0,208.0 L449.7,208.7 L457.3,208.5 L465.0,207.4 L475.1,208.8 L485.3,208.2 L494.3,206.6 L503.3,203.2 L509.3,202.2 L517.4,200.5 L525.6,201.0 L533.7,200.1 L541.8,198.9 L550.0,199.2 L553.4,205.8 L557.1,212.5 L557.8,221.6 L558.6,230.8 L561.0,239.2 L562.7,247.8 L563.6,256.4 L566.1,263.4 L569.2,270.0 L571.9,276.1 L576.1,283.8 L580.9,293.1 L582.9,301.7 L583.9,310.3 L584.5,318.7 L586.0,326.3 L587.8,333.7 L588.8,341.0 L591.9,346.4 L595.7,352.1 L605.0,362.5 L608.1,374.7 L608.0,383.9 L608.7,393.1 L608.5,400.3 L607.7,407.5 L607.8,414.8 L608.3,422.0 L608.2,429.2 L607.5,436.4 L607.4,443.6 L607.9,450.8 L608.0,458.0 L607.3,465.2 L607.0,472.4 L607.5,479.6 L607.7,486.8 L607.0,494.0 L606.6,501.2 M-172.0,222.9 L-164.9,223.0 L-157.8,224.2 L-150.7,223.0 L-143.6,224.2 L-136.6,224.5 L-129.5,223.5 L-122.4,224.9 L-115.3,223.9 L-108.2,223.5 L-101.1,224.4 L-94.0,222.7 L-87.0,223.5 L-79.9,223.7 L-72.8,222.6 L-65.7,224.2 L-58.6,223.7 L-51.5,223.5 L-44.5,225.0 L-37.4,223.6 L-30.3,224.2 L-23.2,224.5 L-16.1,223.0 L-9.0,224.1 L-2.0,223.4 L5.1,222.7 L12.2,224.1 L19.3,222.9 L26.4,223.6 L33.5,224.6 L40.5,223.3 L47.6,224.7 L54.7,224.3 L61.8,223.4 L68.9,224.7 L76.0,223.2 L83.0,223.2 L90.1,224.0 L97.2,222.5 L104.3,223.8 L111.4,223.8 L118.5,223.1 L125.5,224.8 L132.6,223.9 L139.7,223.9 L146.8,224.9 L153.9,223.3 L161.0,224.0 L168.0,223.9 L175.1,222.6 L182.2,224.0 L189.3,223.1 L196.4,223.1 L203.5,224.5 L210.5,223.3 L217.6,224.3 L224.7,224.7 L231.8,223.4 L240.0,224.0 L248.2,221.6 L259.2,223.6 L267.1,222.8 L275.0,224.3 L282.9,225.1 L290.8,225.3 L299.9,219.1 L309.1,213.6 L316.7,215.0 L324.4,213.6 L332.0,213.8 L339.7,213.9 L347.4,212.3 L354.3,213.9 L361.3,213.1 L368.3,213.2 L375.3,214.8 L382.2,213.9 L389.2,215.0 L396.2,215.9 L403.8,214.4 L411.4,215.5 L419.0,214.0 L426.6,213.6 L434.1,214.2 L441.6,212.6 L449.1,214.0 L456.5,213.3 L464.0,213.4 L473.9,214.5 L483.9,214.9 L493.1,212.7 L502.3,209.4 L508.3,207.9 L516.3,205.7 L524.2,206.1 L532.2,205.0 L540.1,204.1 L548.1,204.8 L551.2,211.5 L553.5,218.1 L554.7,227.1 L556.6,236.2 L557.9,244.5 L558.9,253.0 L561.0,261.5 L565.1,271.9 L567.9,281.2 L573.0,288.7 L578.4,297.7 L579.2,306.0 L579.9,314.4 L581.7,322.7 L583.3,330.1 L583.9,337.4 L584.7,344.6 L588.7,349.9 L592.9,355.1 L601.1,364.7 L604.1,376.8 L604.9,385.8 L604.7,394.9 L604.0,401.9 L604.1,409.0 L604.7,416.1 L604.5,423.1 L603.8,430.2 L603.7,437.3 L604.2,444.3 L604.3,451.4 L603.6,458.5 L603.2,465.5 L603.7,472.6 L604.0,479.6 L603.4,486.7 L602.9,493.8 L603.2,500.8 M-159.8,230.4 L-152.7,228.9 L-145.6,229.8 L-138.5,229.7 L-131.5,228.3 L-124.4,229.6 L-117.3,228.5 L-110.3,228.2 L-103.2,229.5 L-96.1,228.3 L-89.1,229.3 L-82.0,229.9 L-74.9,228.8 L-67.9,230.2 L-60.8,229.5 L-53.7,228.9 L-46.6,230.0 L-39.6,228.4 L-32.5,228.7 L-25.4,229.3 L-18.4,227.9 L-11.3,229.3 L-4.2,229.1 L2.8,228.6 L9.9,230.3 L17.0,229.2 L24.0,229.4 L31.1,230.2 L38.2,228.6 L45.3,229.5 L52.3,229.1 L59.4,228.0 L66.5,229.4 L73.5,228.4 L80.6,228.6 L87.7,229.9 L94.7,228.7 L101.8,229.8 L108.9,230.0 L115.9,228.8 L123.0,230.1 L130.1,229.1 L137.2,228.5 L144.2,229.6 L151.3,228.0 L158.4,228.8 L165.4,229.3 L172.5,228.2 L179.6,229.8 L186.6,229.5 L193.7,229.0 L200.8,230.4 L207.8,229.0 L214.9,229.3 L222.0,229.7 L229.1,228.1 L236.1,229.2 L244.1,227.8 L252.1,226.9 L262.9,228.5 L270.7,229.1 L278.5,231.1 L286.3,230.3 L294.0,232.3 L302.1,223.5 L310.4,219.7 L317.9,219.4 L325.4,218.1 L332.9,219.5 L340.4,218.2 L347.9,218.9 L355.9,219.7 L363.9,219.2 L371.9,221.0 L379.9,219.7 L387.9,221.1 L396.0,220.4 L403.4,219.7 L410.8,220.3 L418.2,218.4 L425.6,219.4 L433.0,219.2 L440.3,218.8 L447.6,220.5 L455.0,219.3 L462.3,220.1 L472.1,220.0 L481.9,220.5 L490.7,217.3 L499.6,214.5 L505.7,212.9 L513.6,210.9 L521.4,211.9 L529.3,211.1 L537.2,210.7 L545.0,211.4 L547.6,217.8 L551.0,224.3 L552.6,233.1 L553.1,241.9 L554.5,250.0 L556.8,258.2 L558.4,266.5 L561.2,276.6 L565.2,285.6 L570.4,292.7 L574.5,301.0 L575.4,309.2 L577.3,317.3 L578.6,325.5 L579.2,332.8 L580.2,339.9 L581.9,347.0 L589.0,357.3 L596.7,366.5 L601.1,378.8 L600.9,387.7 L600.2,396.6 L600.5,404.0 L601.0,411.4 L600.5,418.8 L599.9,426.2 L600.2,433.6 L600.7,441.1 L600.2,448.5 L599.6,455.9 L599.8,463.3 L600.3,470.7 L599.9,478.1 L599.2,485.5 L599.4,492.9 L600.0,500.3 M-148.9,234.4 L-141.8,234.5 L-134.7,233.3 L-127.7,234.9 L-120.6,234.3 L-113.6,234.3 L-106.5,235.7 L-99.5,234.4 L-92.4,235.1 L-85.4,235.4 L-78.3,233.9 L-71.3,235.0 L-64.2,234.2 L-57.1,233.5 L-50.1,234.9 L-43.0,233.7 L-36.0,234.2 L-28.9,235.3 L-21.9,234.0 L-14.8,235.4 L-7.8,235.2 L-0.7,234.3 L6.3,235.5 L13.4,234.2 L20.4,234.0 L27.5,234.9 L34.6,233.3 L41.6,234.4 L48.7,234.6 L55.7,233.7 L62.8,235.4 L69.8,234.7 L76.9,234.6 L83.9,235.8 L91.0,234.3 L98.0,234.8 L105.1,235.0 L112.2,233.4 L119.2,234.7 L126.3,234.1 L133.3,233.6 L140.4,235.1 L147.4,234.1 L154.5,234.7 L161.5,235.6 L168.6,234.2 L175.6,235.4 L182.7,235.0 L189.8,233.9 L196.8,235.1 L203.9,233.8 L210.9,233.8 L218.0,234.8 L225.0,233.5 L232.1,234.7 L239.1,235.0 L247.1,233.4 L255.0,234.2 L265.5,233.6 L273.0,235.6 L280.5,234.8 L288.1,235.7 L295.6,236.7 L304.8,228.2 L313.3,225.5 L320.6,224.2 L328.0,225.3 L335.3,225.4 L342.7,224.4 L350.0,225.8 L357.9,224.5 L365.7,225.4 L373.6,225.4 L381.4,224.6 L389.3,226.2 L397.1,224.9 L404.4,225.9 L411.7,225.7 L418.9,224.8 L426.2,226.1 L433.4,225.0 L440.6,225.3 L447.8,226.0 L455.0,224.3 L462.2,225.4 L471.7,224.5 L481.3,225.8 L489.9,222.5 L498.4,220.8 L504.0,219.1 L511.6,217.4 L519.2,218.5 L526.9,217.2 L534.5,216.6 L542.1,216.8 L545.7,223.0 L548.5,229.2 L548.9,237.7 L550.4,246.4 L552.5,254.2 L553.7,262.3 L554.6,270.4 L558.8,280.2 L562.5,289.2 L566.4,296.2 L571.1,304.4 L573.0,312.4 L574.0,320.5 L574.4,328.5 L575.8,335.8 L577.6,342.9 L578.7,350.0 L584.9,360.6 L593.5,369.6 L597.1,382.0 L596.4,390.7 L596.9,399.4 L597.3,406.6 L596.8,413.9 L596.2,421.1 L596.5,428.4 L597.0,435.6 L596.5,442.9 L595.9,450.1 L596.1,457.4 L596.6,464.6 L596.3,471.9 L595.6,479.1 L595.7,486.4 L596.2,493.6 L596.0,500.9 M-137.7,239.5 L-130.6,241.1 L-123.6,240.3 L-116.5,239.8 L-109.5,240.9 L-102.5,239.3 L-95.4,239.7 L-88.4,240.1 L-81.3,238.7 L-74.3,240.1 L-67.3,239.8 L-60.2,239.3 L-53.2,241.0 L-46.1,239.9 L-39.1,240.2 L-32.1,241.1 L-25.0,239.5 L-18.0,240.4 L-11.0,240.1 L-3.9,238.8 L3.1,240.2 L10.2,239.2 L17.2,239.2 L24.2,240.6 L31.3,239.4 L38.3,240.4 L45.4,240.9 L52.4,239.6 L59.4,240.9 L66.5,240.1 L73.5,239.4 L80.6,240.5 L87.6,239.0 L94.6,239.4 L101.7,240.1 L108.7,238.9 L115.8,240.4 L122.8,240.3 L129.8,239.6 L136.9,241.2 L143.9,240.0 L150.9,240.0 L158.0,240.8 L165.0,239.1 L172.1,239.9 L179.1,239.8 L186.1,238.7 L193.2,240.3 L200.2,239.6 L207.3,239.6 L214.3,241.0 L221.3,239.8 L228.4,240.5 L235.4,240.9 L242.5,239.4 L250.1,239.8 L257.8,237.8 L268.2,239.4 L275.7,239.6 L283.2,239.9 L290.7,242.1 L298.2,241.5 L306.1,235.6 L314.5,231.0 L321.7,230.6 L328.9,231.5 L336.1,229.7 L343.3,230.3 L350.5,230.1 L358.2,229.2 L365.9,231.0 L373.5,230.0 L381.2,231.4 L388.9,231.9 L396.5,231.5 L403.7,232.7 L410.8,231.1 L418.0,231.0 L425.1,231.2 L432.2,229.6 L439.2,230.6 L446.3,230.4 L453.3,229.5 L460.4,231.1 L469.7,230.2 L479.0,232.3 L487.8,228.7 L496.5,227.2 L502.5,225.0 L510.0,223.0 L517.5,223.8 L525.1,222.1 L532.6,221.6 L540.1,222.0 L542.4,228.2 L544.9,234.4 L546.7,242.8 L548.0,251.4 L548.9,259.1 L550.3,267.0 L552.4,275.0 L555.9,285.0 L558.6,294.0 L563.5,301.1 L568.6,309.0 L569.3,316.8 L569.9,324.7 L571.5,332.6 L573.6,343.3 L574.5,353.8 L582.0,364.2 L590.1,372.2 L592.6,384.3 L593.1,392.9 L593.6,401.4 L593.0,408.5 L592.5,415.6 L592.8,422.7 L593.3,429.8 L592.8,436.9 L592.2,444.0 L592.4,451.1 L592.9,458.2 L592.6,465.3 L591.9,472.4 L591.9,479.5 L592.5,486.6 L592.4,493.7 L591.7,500.8 M-125.6,244.9 L-118.6,244.4 L-111.6,245.7 L-104.5,244.3 L-97.5,245.1 L-90.5,245.9 L-83.5,244.7 L-76.4,246.2 L-69.4,245.9 L-62.4,245.1 L-55.4,246.4 L-48.3,245.0 L-41.3,245.0 L-34.3,245.7 L-27.3,244.1 L-20.3,245.2 L-13.2,245.3 L-6.2,244.4 L0.8,246.1 L7.8,245.4 L14.9,245.3 L21.9,246.6 L28.9,245.1 L35.9,245.6 L43.0,245.9 L50.0,244.3 L57.0,245.5 L64.0,244.9 L71.0,244.3 L78.1,245.8 L85.1,244.8 L92.1,245.3 L99.1,246.4 L106.2,245.0 L113.2,246.1 L120.2,246.0 L127.2,244.7 L134.3,246.0 L141.3,244.8 L148.3,244.5 L155.3,245.6 L162.3,244.3 L169.4,245.2 L176.4,245.9 L183.4,244.8 L190.4,246.3 L197.5,245.8 L204.5,245.2 L211.5,246.4 L218.5,244.9 L225.5,245.0 L232.6,245.7 L239.6,244.1 L246.6,245.3 L254.2,244.4 L261.7,243.1 L271.8,245.5 L279.1,245.1 L286.4,247.3 L293.6,246.9 L300.9,247.3 L309.0,240.9 L316.8,235.2 L323.8,236.4 L330.8,235.5 L337.9,235.1 L344.9,236.4 L352.0,235.1 L359.5,236.4 L367.1,237.0 L374.6,236.3 L382.2,238.0 L389.7,236.7 L397.3,237.3 L406.5,236.6 L415.8,236.0 L425.1,235.8 L433.7,235.6 L442.3,236.8 L451.0,235.9 L459.6,237.5 L468.8,236.2 L478.0,237.9 L486.1,233.7 L494.3,232.3 L499.8,229.8 L507.1,228.1 L514.5,229.2 L521.8,227.8 L529.2,227.9 L536.5,228.5 L539.6,234.6 L543.0,240.7 L543.9,248.9 L544.3,257.3 L546.1,264.8 L548.2,272.6 L549.3,280.4 L552.1,290.0 L556.1,298.9 L560.8,305.6 L564.6,312.9 L565.5,320.5 L567.3,328.1 L568.6,335.8 L569.4,346.2 L571.5,356.4 L578.6,366.6 L585.7,373.9 L589.3,385.8 L589.8,394.2 L589.2,402.5 L588.8,410.0 L589.3,417.5 L589.5,425.0 L588.8,432.4 L588.4,439.9 L589.0,447.4 L589.1,454.9 L588.4,462.4 L588.1,469.9 L588.6,477.3 L588.8,484.8 L588.1,492.3 L587.7,499.8 M-115.1,251.7 L-108.1,250.5 L-101.1,251.2 L-94.1,251.8 L-87.1,250.3 L-80.1,251.4 L-73.1,250.8 L-66.1,249.8 L-59.1,251.1 L-52.1,249.9 L-45.1,250.1 L-38.1,251.2 L-31.1,250.0 L-24.1,251.2 L-17.0,251.5 L-10.0,250.4 L-3.0,251.8 L4.0,250.9 L11.0,250.3 L18.0,251.4 L25.0,249.8 L32.0,250.2 L39.0,250.9 L46.0,249.6 L53.0,251.1 L60.0,251.0 L67.0,250.4 L74.0,251.9 L81.0,250.9 L88.0,250.8 L95.1,251.7 L102.1,250.0 L109.1,250.7 L116.1,250.7 L123.1,249.5 L130.1,250.9 L137.1,250.4 L144.1,250.1 L151.1,251.7 L158.1,250.6 L165.1,251.1 L172.1,251.8 L179.1,250.3 L186.1,251.3 L193.1,250.8 L200.1,249.7 L207.2,251.0 L214.2,250.0 L221.2,250.0 L228.2,251.3 L235.2,250.1 L242.2,251.2 L249.2,251.6 L256.6,249.7 L264.0,250.4 L273.9,249.6 L281.0,251.1 L288.1,251.4 L295.2,250.9 L302.4,253.0 L310.8,244.9 L319.0,241.9 L327.7,242.0 L336.3,241.7 L344.9,242.5 L353.6,241.1 L360.9,242.6 L368.3,241.3 L375.6,241.9 L383.0,242.4 L390.3,241.3 L397.7,243.1 L406.8,241.7 L415.9,242.8 L425.1,241.6 L433.5,242.5 L442.0,242.3 L450.4,241.7 L458.8,242.3 L467.8,241.2 L476.8,242.7 L485.1,238.9 L493.3,238.2 L498.7,235.6 L505.9,234.6 L513.1,235.8 L520.3,234.2 L527.4,234.1 L534.6,234.3 L537.5,240.2 L539.6,246.0 L540.4,254.0 L542.2,262.1 L543.8,269.4 L544.6,276.9 L545.8,284.4 L549.9,293.8 L553.1,302.5 L556.8,309.0 L561.3,316.1 L563.1,323.5 L564.0,330.9 L564.4,338.4 L566.4,348.6 L568.5,358.8 L574.2,369.4 L582.0,376.5 L586.0,388.3 L585.3,396.5 L585.1,404.6 L585.6,411.9 L585.8,419.3 L585.1,426.6 L584.7,433.9 L585.3,441.2 L585.5,448.5 L584.8,455.9 L584.4,463.2 L584.9,470.5 L585.1,477.8 L584.5,485.1 L584.0,492.5 L584.5,499.8 M-103.1,256.1 L-96.0,256.4 L-88.8,254.9 L-81.7,256.2 L-74.6,255.7 L-67.5,255.3 L-60.3,256.9 L-53.2,255.8 L-46.1,256.6 L-38.9,257.2 L-31.8,255.8 L-24.7,257.0 L-17.6,256.2 L-10.4,255.4 L-3.3,256.6 L3.8,255.1 L11.0,255.7 L18.1,256.4 L25.2,255.2 L32.3,256.8 L39.5,256.5 L46.6,256.0 L53.7,257.4 L60.9,255.9 L68.0,256.3 L75.1,256.6 L82.2,255.0 L89.4,256.2 L96.5,255.7 L103.6,255.1 L110.8,256.7 L117.9,255.6 L125.0,256.3 L132.1,257.2 L139.3,255.8 L146.4,257.1 L153.5,256.4 L160.7,255.5 L167.8,256.7 L174.9,255.2 L182.0,255.6 L189.2,256.3 L196.3,255.0 L203.4,256.6 L210.6,256.4 L217.7,255.9 L224.8,257.4 L231.9,256.1 L239.1,256.4 L246.2,256.9 L253.3,255.2 L260.5,255.6 L267.7,254.3 L277.4,255.2 L284.5,256.5 L291.5,256.0 L298.5,258.1 L305.5,258.6 L312.7,251.2 L320.2,248.7 L328.7,246.8 L337.1,247.9 L345.6,246.3 L354.0,246.8 L361.2,247.1 L368.4,246.3 L375.6,248.2 L382.8,247.6 L390.1,248.2 L397.3,249.5 L406.2,247.7 L415.1,248.8 L424.0,246.6 L432.3,247.8 L440.5,246.5 L448.8,247.1 L457.0,247.3 L465.8,247.2 L474.6,248.7 L482.6,245.3 L490.7,244.7 L496.2,241.7 L503.2,240.6 L510.3,241.3 L517.4,239.4 L524.5,239.2 L531.6,239.3 L536.8,250.9 L538.5,258.7 L539.1,266.6 L540.0,273.8 L541.7,281.2 L543.8,288.7 L546.6,298.0 L549.3,306.8 L554.0,313.5 L558.8,320.4 L559.4,327.7 L559.9,334.9 L561.4,342.3 L563.5,352.4 L564.3,362.4 L571.0,373.2 L579.0,379.7 L581.5,391.0 L581.3,399.0 L582.0,407.0 L582.0,414.2 L581.3,421.3 L581.0,428.5 L581.6,435.7 L581.7,442.8 L581.1,450.0 L580.7,457.2 L581.1,464.3 L581.4,471.5 L580.9,478.6 L580.3,485.8 L580.7,493.0 L581.1,500.1 M-91.9,260.7 L-84.8,262.3 L-77.6,261.9 L-70.5,261.4 L-63.4,262.8 L-56.3,261.3 L-49.2,261.6 L-42.1,262.0 L-35.0,260.4 L-27.8,261.6 L-20.7,261.1 L-13.6,260.5 L-6.5,262.2 L0.6,261.1 L7.7,261.7 L14.8,262.6 L21.9,261.2 L29.1,262.4 L36.2,261.9 L43.3,260.9 L50.4,262.1 L57.5,260.7 L64.6,260.9 L71.7,261.8 L78.9,260.5 L86.0,261.9 L93.1,261.9 L100.2,261.2 L107.3,262.8 L114.4,261.6 L121.5,261.6 L128.6,262.3 L135.8,260.6 L142.9,261.6 L150.0,261.3 L157.1,260.3 L164.2,261.9 L171.3,261.0 L178.4,261.3 L185.6,262.6 L192.7,261.2 L199.8,262.3 L206.9,262.2 L214.0,261.0 L221.1,262.2 L228.2,261.0 L235.3,260.8 L242.5,261.8 L249.6,260.4 L256.7,261.6 L263.8,261.2 L271.0,259.6 L280.3,262.2 L289.4,261.5 L298.4,263.7 L307.4,262.7 L315.6,257.1 L323.1,252.5 L331.4,252.2 L339.6,252.9 L347.9,251.8 L356.1,253.5 L363.2,252.5 L370.2,253.5 L377.3,254.3 L384.3,253.1 L391.4,254.4 L398.4,254.0 L407.2,253.0 L415.9,253.3 L424.6,251.8 L432.6,253.4 L440.7,252.2 L448.8,253.8 L456.9,253.2 L465.5,253.8 L474.1,254.2 L481.8,250.9 L489.4,249.7 L494.4,246.4 L503.0,246.0 L511.5,245.7 L520.1,244.7 L528.7,245.5 L534.6,257.0 L534.9,264.7 L535.8,272.5 L537.8,279.5 L539.4,286.7 L540.2,294.0 L543.1,303.2 L547.0,311.8 L551.2,318.3 L554.7,324.9 L555.6,331.9 L557.3,338.9 L558.6,346.0 L559.4,355.7 L561.0,365.5 L568.0,376.0 L574.8,381.7 L577.5,392.6 L578.2,400.4 L578.2,408.2 L577.5,415.2 L577.4,422.2 L577.9,429.2 L578.0,436.2 L577.3,443.2 L577.0,450.2 L577.4,457.3 L577.7,464.3 L577.2,471.3 L576.6,478.3 L576.9,485.3 L577.4,492.3 L577.0,499.3 M-81.0,267.2 L-73.9,266.3 L-66.8,267.4 L-59.7,266.0 L-52.6,266.3 L-45.5,267.2 L-38.4,265.9 L-31.3,267.4 L-24.2,267.3 L-17.1,266.7 L-10.0,268.2 L-2.9,266.9 L4.2,267.0 L11.3,267.7 L18.4,266.0 L25.5,266.9 L32.6,266.7 L39.7,265.8 L46.8,267.4 L53.9,266.5 L60.9,266.8 L68.0,268.0 L75.1,266.6 L82.2,267.7 L89.3,267.6 L96.4,266.3 L103.5,267.6 L110.6,266.4 L117.7,266.1 L124.8,267.2 L131.9,265.8 L139.0,266.9 L146.1,267.3 L153.2,266.4 L160.3,268.0 L167.4,267.2 L174.5,266.9 L181.6,268.0 L188.7,266.3 L195.8,266.9 L202.9,267.0 L210.0,265.7 L217.1,267.1 L224.2,266.5 L231.3,266.3 L238.4,267.9 L245.5,266.7 L252.6,267.4 L259.7,267.9 L273.4,266.2 L282.7,265.9 L291.7,267.1 L300.6,267.4 L309.6,268.4 L316.8,262.6 L324.4,257.9 L332.5,259.6 L340.6,258.3 L348.7,259.0 L356.8,258.6 L365.0,258.0 L373.2,259.2 L381.5,257.8 L389.7,259.5 L398.0,258.5 L406.5,259.4 L415.1,258.8 L423.6,258.8 L431.5,259.5 L439.4,258.3 L447.3,259.7 L455.2,258.0 L463.6,259.0 L471.9,258.6 L479.8,256.1 L487.6,255.1 L492.9,252.0 L501.4,252.4 L509.8,252.1 L518.2,251.3 L526.7,251.8 L530.9,262.7 L532.3,270.2 L533.8,277.7 L535.2,288.0 L537.2,298.5 L540.9,307.4 L543.7,315.7 L547.2,322.0 L551.5,328.2 L553.7,338.3 L554.4,348.6 L556.1,358.1 L558.3,367.6 L563.8,378.3 L570.6,384.0 L574.5,394.5 L574.4,402.1 L573.7,409.7 L573.8,417.2 L574.3,424.6 L574.1,432.0 L573.4,439.4 L573.4,446.9 L574.0,454.3 L573.8,461.7 L573.0,469.1 L573.0,476.6 L573.6,484.0 L573.5,491.4 L572.7,498.9 M-68.8,272.8 L-61.7,271.8 L-54.6,272.4 L-47.5,273.4 L-40.4,272.0 L-33.4,273.2 L-26.3,272.9 L-19.2,271.7 L-12.1,273.0 L-5.0,271.6 L2.0,271.6 L9.1,272.6 L16.2,271.2 L23.3,272.5 L30.4,272.7 L37.4,271.9 L44.5,273.5 L51.6,272.6 L58.7,272.3 L65.8,273.3 L72.8,271.6 L79.9,272.3 L87.0,272.3 L94.1,271.1 L101.2,272.5 L108.2,271.9 L115.3,271.8 L122.4,273.3 L129.5,272.1 L136.6,272.9 L143.6,273.3 L150.7,271.8 L157.8,273.0 L164.9,272.2 L172.0,271.4 L179.0,272.7 L186.1,271.3 L193.2,271.9 L200.3,272.8 L207.4,271.6 L214.4,273.1 L221.5,272.9 L228.6,272.1 L235.7,273.5 L242.8,272.1 L249.8,272.1 L256.9,272.8 L264.0,271.1 L277.5,270.9 L286.5,271.1 L295.2,273.3 L303.9,272.9 L312.6,275.4 L319.7,267.6 L326.5,264.7 L334.4,264.5 L342.3,263.2 L350.2,264.3 L358.0,262.6 L366.1,264.1 L374.2,263.9 L382.3,264.3 L390.4,265.7 L398.5,264.8 L406.8,266.0 L415.1,264.1 L423.4,264.7 L431.1,263.9 L438.8,263.4 L446.5,264.4 L454.3,263.0 L462.5,264.9 L470.7,264.3 L478.0,262.8 L485.3,261.4 L490.2,258.3 L498.4,258.7 L506.6,257.7 L514.8,256.6 L523.1,256.8 L528.8,267.4 L529.9,274.7 L530.2,282.1 L532.3,292.1 L534.9,302.4 L537.4,311.2 L540.0,319.5 L544.6,325.9 L548.9,332.1 L549.6,342.0 L551.2,352.1 L553.4,361.3 L554.3,370.7 L560.0,381.7 L567.6,387.5 L570.5,397.5 L569.9,405.0 L570.1,412.4 L570.7,419.7 L570.4,426.9 L569.6,434.2 L569.7,441.4 L570.3,448.7 L570.1,456.0 L569.4,463.2 L569.3,470.5 L569.9,477.7 L569.8,485.0 L569.1,492.3 L568.9,499.5 M-58.2,277.9 L-51.2,278.6 L-44.1,276.9 L-37.0,277.8 L-30.0,277.5 L-22.9,276.5 L-15.9,278.1 L-8.8,277.2 L-1.7,277.4 L5.3,278.7 L12.4,277.4 L19.5,278.4 L26.5,278.5 L33.6,277.2 L40.6,278.5 L47.7,277.4 L54.8,276.9 L61.8,278.0 L68.9,276.6 L76.0,277.5 L83.0,278.1 L90.1,277.0 L97.1,278.6 L104.2,278.2 L111.3,277.6 L118.3,278.9 L125.4,277.4 L132.5,277.6 L139.5,278.1 L146.6,276.5 L153.6,277.7 L160.7,277.5 L167.8,276.8 L174.8,278.5 L181.9,277.6 L189.0,277.9 L196.0,278.9 L203.1,277.4 L210.2,278.3 L217.2,278.1 L224.3,276.8 L231.3,278.1 L238.4,277.0 L245.5,276.9 L252.5,278.2 L259.6,276.9 L266.7,278.0 L279.9,276.1 L288.7,278.5 L297.1,277.7 L305.6,279.2 L314.0,279.2 L321.6,272.4 L329.0,270.1 L336.7,268.6 L344.4,269.7 L352.1,269.5 L359.8,269.0 L367.6,270.8 L375.5,269.6 L383.4,271.1 L391.2,270.4 L399.1,270.4 L407.3,270.6 L415.4,268.8 L423.6,270.0 L431.1,268.8 L438.6,269.8 L446.1,270.3 L453.7,269.5 L461.6,271.3 L469.6,270.1 L477.0,268.7 L484.4,266.5 L489.2,263.3 L497.2,263.8 L505.2,262.6 L513.2,262.0 L521.1,262.6 L525.7,273.2 L526.2,280.4 L527.6,287.6 L530.0,297.5 L531.2,307.6 L534.2,316.2 L537.8,324.5 L541.6,330.9 L544.9,336.9 L546.4,346.5 L548.5,356.2 L549.4,365.2 L550.6,374.2 L557.2,385.0 L563.9,390.3 L566.0,399.7 L566.4,407.0 L567.0,414.3 L566.6,421.4 L565.9,428.5 L566.0,435.6 L566.6,442.7 L566.4,449.8 L565.7,456.9 L565.6,464.0 L566.2,471.1 L566.2,478.2 L565.5,485.3 L565.2,492.4 L565.7,499.5 M-46.5,281.9 L-39.4,283.2 L-32.4,283.3 L-25.4,282.6 L-18.3,284.2 L-11.3,283.3 L-4.2,283.2 L2.8,284.2 L9.9,282.5 L16.9,283.2 L24.0,283.2 L31.0,281.9 L38.0,283.3 L45.1,282.7 L52.1,282.4 L59.2,284.0 L66.2,282.8 L73.3,283.5 L80.3,284.2 L87.4,282.7 L94.4,283.8 L101.4,283.2 L108.5,282.2 L115.5,283.5 L122.6,282.2 L129.6,282.5 L136.7,283.5 L143.7,282.3 L150.8,283.6 L157.8,283.8 L164.8,282.8 L171.9,284.3 L178.9,283.2 L186.0,282.9 L193.0,283.8 L200.1,282.1 L207.1,282.8 L214.2,283.1 L221.2,281.9 L228.2,283.5 L235.3,283.1 L242.3,282.8 L249.4,284.3 L256.4,283.1 L263.5,283.5 L270.5,284.0 L283.2,281.8 L291.9,282.4 L300.3,282.5 L308.6,284.4 L317.0,283.9 L323.4,279.5 L330.1,275.6 L337.6,275.3 L345.1,276.4 L352.6,274.7 L360.1,275.6 L367.8,275.2 L375.5,274.7 L383.2,276.0 L390.9,274.7 L398.6,276.4 L406.5,275.6 L414.5,275.4 L422.4,276.2 L429.7,275.0 L437.1,276.4 L444.4,275.6 L451.8,275.1 L459.6,276.2 L467.4,274.8 L474.5,273.8 L481.7,271.5 L486.6,268.7 L494.5,269.8 L502.4,268.8 L510.2,268.6 L518.1,269.1 L522.6,279.3 L524.2,286.3 L525.1,293.3 L526.2,302.8 L528.6,312.6 L531.9,320.8 L534.3,328.8 L537.6,335.0 L541.7,340.6 L543.8,349.8 L544.5,359.2 L545.8,367.8 L547.9,376.5 L553.3,387.1 L559.4,392.5 L562.7,401.5 L563.2,408.6 L562.8,415.7 L562.1,423.2 L562.5,430.8 L562.9,438.4 L562.4,445.9 L561.8,453.5 L562.2,461.1 L562.6,468.6 L562.0,476.2 L561.4,483.8 L561.9,491.3 L562.2,498.9 M-34.9,289.2 L-27.9,288.1 L-20.8,289.4 L-13.8,288.2 L-6.8,287.8 L0.2,288.8 L7.3,287.4 L14.3,288.3 L21.3,288.8 L28.3,287.7 L35.4,289.4 L42.4,288.9 L49.4,288.4 L56.4,289.7 L63.5,288.3 L70.5,288.5 L77.5,289.0 L84.5,287.4 L91.6,288.5 L98.6,288.3 L105.6,287.5 L112.6,289.1 L119.7,288.3 L126.7,288.5 L133.7,289.7 L140.7,288.3 L147.8,289.1 L154.8,289.1 L161.8,287.7 L168.8,288.9 L175.9,288.0 L182.9,287.5 L189.9,288.9 L196.9,287.7 L204.0,288.4 L211.0,289.3 L218.0,288.1 L225.0,289.5 L232.1,289.1 L239.1,288.1 L246.1,289.4 L253.1,288.0 L260.2,287.9 L267.2,288.8 L274.2,287.3 L286.9,287.7 L295.2,287.3 L303.2,289.9 L311.2,289.4 L319.2,290.9 L326.3,285.1 L333.0,280.4 L340.3,281.4 L347.6,280.3 L354.9,279.8 L362.2,280.8 L369.7,279.7 L377.2,281.3 L384.7,281.5 L392.3,281.3 L399.8,283.1 L407.5,281.2 L415.2,281.9 L422.9,281.0 L430.1,280.2 L437.3,281.4 L444.4,280.0 L451.6,280.5 L459.2,281.4 L466.8,280.6 L473.6,280.3 L480.4,277.7 L484.8,275.2 L492.4,276.3 L500.0,274.8 L507.6,274.3 L515.2,274.3 L520.6,284.2 L521.4,297.7 L523.9,306.9 L526.0,316.4 L528.1,324.5 L530.8,332.3 L535.1,338.6 L539.1,344.1 L539.7,353.1 L541.1,362.3 L543.2,370.6 L544.2,379.1 L549.2,389.8 L556.1,395.7 L559.4,404.5 L558.4,418.4 L558.9,425.7 L559.2,433.1 L558.7,440.5 L558.1,447.9 L558.5,455.2 L558.9,462.6 L558.4,470.0 L557.8,477.4 L558.1,484.7 L558.5,492.1 L558.1,499.5 M-24.3,294.2 L-17.3,293.2 L-10.3,293.3 L-3.3,294.7 L3.7,293.4 L10.8,294.4 L17.8,294.9 L24.8,293.6 L31.8,294.8 L38.8,294.0 L45.8,293.2 L52.8,294.4 L59.8,293.0 L66.8,293.3 L73.8,294.2 L80.8,293.0 L87.8,294.3 L94.8,294.5 L101.8,293.6 L108.8,295.1 L115.8,294.1 L122.8,293.7 L129.8,294.7 L136.8,293.1 L143.8,293.6 L150.9,294.0 L157.9,292.7 L164.9,294.2 L171.9,293.9 L178.9,293.4 L185.9,295.0 L192.9,293.9 L199.9,294.2 L206.9,295.0 L213.9,293.3 L220.9,294.2 L227.9,294.0 L234.9,292.7 L241.9,294.1 L248.9,293.3 L255.9,293.2 L262.9,294.7 L269.9,293.5 L276.9,294.3 L289.2,292.5 L297.3,294.2 L305.2,294.3 L313.1,294.2 L321.0,295.9 L327.6,288.7 L334.4,286.2 L341.6,286.7 L348.7,285.5 L355.8,287.0 L363.0,286.5 L370.3,286.3 L377.6,287.9 L384.8,286.6 L392.1,287.5 L399.4,287.6 L407.0,286.0 L414.5,287.1 L422.1,285.5 L431.4,286.7 L440.7,286.1 L450.0,287.3 L457.4,287.4 L464.8,286.9 L471.8,286.3 L478.7,283.0 L483.4,280.6 L490.8,281.4 L498.3,279.6 L505.8,279.4 L513.2,279.7 L516.9,289.5 L519.4,302.8 L521.1,311.8 L522.2,321.2 L525.3,329.1 L528.6,337.0 L531.9,343.3 L535.0,348.9 L536.5,357.7 L538.5,366.5 L539.3,374.6 L540.2,382.8 L546.3,393.2 L552.9,399.2 L554.9,407.6 L555.2,421.1 L555.5,428.3 L554.9,435.5 L554.4,442.7 L554.8,449.9 L555.2,457.1 L554.7,464.3 L554.1,471.5 L554.3,478.7 L554.8,485.9 L554.5,493.0 L553.8,500.2 M-12.0,299.4 L-4.9,300.5 L2.3,298.9 L9.4,299.7 L16.6,299.5 L23.8,298.2 L30.9,299.6 L38.1,298.6 L45.2,298.6 L52.4,299.9 L59.5,298.6 L66.7,299.9 L73.8,300.1 L81.0,299.0 L88.1,300.4 L95.3,299.2 L102.5,299.0 L109.6,299.8 L116.8,298.1 L123.9,299.2 L131.1,299.2 L138.2,298.3 L145.4,300.0 L152.5,299.2 L159.7,299.4 L166.8,300.5 L174.0,299.0 L181.2,299.9 L188.3,299.6 L195.5,298.4 L202.6,299.7 L209.8,298.5 L216.9,298.6 L224.1,299.7 L231.2,298.4 L238.4,299.8 L245.5,299.9 L252.7,299.1 L259.9,300.5 L267.0,299.3 L274.2,299.2 L281.3,299.9 L293.1,297.5 L301.2,299.0 L308.9,298.4 L316.5,300.8 L324.2,300.6 L330.3,295.2 L336.3,293.4 L345.6,291.7 L354.8,293.0 L364.1,291.1 L371.2,292.3 L378.4,292.1 L385.5,291.3 L392.6,293.0 L399.8,292.2 L407.1,292.4 L414.4,293.1 L421.7,291.6 L430.8,293.3 L439.8,291.8 L448.9,293.1 L456.2,292.1 L463.4,292.0 L476.3,287.8 L480.6,285.9 L487.9,287.1 L495.1,285.5 L502.4,285.8 L509.6,286.2 L514.7,295.8 L516.2,308.7 L517.5,317.5 L520.0,326.5 L522.8,334.1 L524.8,341.7 L528.0,347.9 L531.9,353.2 L533.8,361.6 L534.5,370.1 L535.5,377.8 L537.5,385.7 L542.9,395.5 L548.5,401.5 L551.0,409.5 L551.8,422.7 L551.0,430.4 L550.7,438.1 L551.3,445.8 L551.4,453.6 L550.6,461.3 L550.4,469.0 L551.0,476.7 L550.9,484.4 L550.2,492.1 L550.1,499.8 M-1.3,303.6 L5.9,304.4 L13.0,304.7 L20.1,303.7 L27.3,305.4 L34.4,304.7 L41.5,304.7 L48.7,306.0 L55.8,304.4 L62.9,305.2 L70.1,305.2 L77.2,303.7 L84.4,305.0 L91.5,304.0 L98.6,303.8 L105.8,305.2 L112.9,303.9 L120.0,305.0 L127.2,305.5 L134.3,304.4 L141.4,305.9 L148.6,304.9 L155.7,304.4 L162.9,305.4 L170.0,303.7 L177.1,304.4 L184.3,304.6 L191.4,303.5 L198.5,305.2 L205.7,304.6 L212.8,304.6 L219.9,305.9 L227.1,304.5 L234.2,305.3 L241.4,305.4 L248.5,303.9 L255.6,305.1 L262.8,304.1 L269.9,303.8 L277.0,305.1 L284.2,303.8 L295.9,304.4 L303.5,303.9 L310.9,305.7 L318.3,306.3 L325.7,306.0 L332.5,301.7 L338.9,297.7 L347.9,297.2 L357.0,297.3 L366.0,296.5 L374.6,298.0 L383.3,297.3 L391.9,299.3 L400.5,298.2 L407.7,299.2 L414.8,298.3 L422.0,297.2 L430.8,298.2 L439.6,296.6 L448.5,298.1 L455.5,297.0 L462.5,297.9 L475.4,294.0 L479.6,292.6 L486.6,293.6 L493.7,291.8 L500.7,291.9 L507.7,291.9 L511.8,301.0 L513.0,313.4 L515.5,321.9 L516.9,330.5 L518.9,337.9 L521.7,345.2 L529.2,356.5 L529.8,364.7 L531.0,372.9 L532.9,380.4 L534.2,388.0 L538.6,397.6 L544.6,404.1 L547.9,412.2 L547.3,425.0 L547.0,432.5 L547.6,440.0 L547.7,447.5 L546.9,455.0 L546.7,462.5 L547.3,470.0 L547.3,477.5 L546.6,485.0 L546.3,492.5 L546.9,500.0 M10.1,310.9 L17.2,309.8 L24.4,311.2 L31.5,310.3 L38.6,309.8 L45.7,310.8 L52.8,309.1 L59.9,309.8 L67.1,310.1 L74.2,308.9 L81.3,310.6 L88.4,310.1 L95.5,309.9 L102.6,311.3 L109.8,310.0 L116.9,310.6 L124.0,310.8 L131.1,309.3 L138.2,310.4 L145.3,309.6 L152.5,309.1 L159.6,310.5 L166.7,309.3 L173.8,310.1 L180.9,310.9 L188.0,309.7 L195.2,311.1 L202.3,310.5 L209.4,309.8 L216.5,311.0 L223.6,309.4 L230.7,309.7 L237.9,310.2 L245.0,308.8 L252.1,310.3 L259.2,310.0 L266.3,309.6 L273.4,311.2 L280.6,310.0 L287.7,310.5 L298.8,308.9 L306.4,309.6 L313.8,310.8 L321.1,309.8 L328.4,311.7 L334.0,306.2 L340.0,302.2 L348.8,303.9 L357.5,302.6 L366.3,304.0 L374.7,303.4 L383.1,304.0 L391.5,304.1 L399.9,303.5 L410.4,303.5 L420.8,302.7 L429.4,303.2 L437.9,302.7 L446.5,304.2 L460.2,304.6 L472.8,299.8 L477.1,298.4 L486.3,298.3 L495.5,296.6 L504.7,297.0 L508.5,305.9 L511.0,318.1 L512.1,326.3 L513.4,334.8 L516.4,342.1 L519.3,349.4 L525.1,360.9 L526.5,368.9 L528.4,377.0 L529.3,384.2 L530.0,391.6 L535.4,400.8 L541.7,407.6 L543.9,415.6 L543.4,428.0 L543.9,435.3 L543.9,442.6 L543.2,449.9 L543.0,457.2 L543.5,464.5 L543.6,471.8 L542.9,479.1 L542.6,486.4 L543.1,493.7 L543.3,501.0 M22.0,315.8 L29.1,315.0 L36.2,314.5 L43.3,315.9 L50.4,314.7 L57.5,315.6 L64.6,316.3 L71.7,315.1 L78.8,316.6 L85.9,315.9 L93.0,315.2 L100.1,316.3 L107.2,314.8 L114.3,315.1 L121.4,315.6 L128.5,314.2 L135.6,315.7 L142.7,315.5 L149.8,315.0 L156.9,316.6 L164.0,315.5 L171.1,315.8 L178.2,316.5 L185.3,314.9 L192.4,315.9 L199.5,315.4 L206.6,314.4 L213.6,315.8 L220.7,314.7 L227.8,315.1 L234.9,316.2 L242.0,315.0 L249.1,316.3 L256.2,316.2 L263.3,315.2 L270.4,316.5 L277.5,315.2 L284.6,315.0 L291.7,315.9 L302.7,313.4 L310.0,315.5 L317.0,314.9 L324.0,316.4 L331.0,317.8 L337.1,311.5 L342.8,309.4 L351.3,309.5 L359.8,308.4 L368.3,309.2 L376.5,307.7 L384.7,309.4 L392.9,308.3 L401.1,309.6 L411.2,308.8 L421.3,309.7 L429.6,309.0 L437.9,309.3 L446.3,309.6 L459.6,309.8 L471.4,304.6 L475.3,303.6 L484.1,303.6 L492.9,302.5 L501.7,303.3 L506.5,312.1 L507.3,324.0 L509.0,332.0 L511.3,340.2 L515.4,354.4 L522.1,365.6 L523.9,373.3 L524.5,381.1 L525.3,388.1 L527.0,395.1 L532.3,403.6 L537.6,410.1 L539.4,418.0 L540.3,430.0 L540.2,437.1 L539.4,444.2 L539.3,451.3 L539.8,458.4 L539.9,465.5 L539.2,472.5 L538.9,479.6 L539.4,486.7 L539.7,493.8 L539.1,500.9 M32.5,320.6 L39.6,322.1 L46.7,320.8 L53.7,321.4 L60.8,321.8 L67.9,320.2 L75.0,321.3 L82.0,320.6 L89.1,319.8 L96.2,321.2 L103.3,320.1 L110.3,320.6 L117.4,321.6 L124.5,320.4 L131.6,321.8 L138.6,321.6 L145.7,320.6 L152.8,321.9 L159.9,320.5 L166.9,320.4 L174.0,321.2 L181.1,319.7 L188.2,320.8 L195.2,320.9 L202.3,320.1 L209.4,321.8 L216.5,321.0 L223.5,321.0 L230.6,322.1 L237.7,320.5 L244.8,321.2 L251.8,321.2 L258.9,319.8 L266.0,321.1 L273.1,320.3 L280.1,320.0 L287.2,321.5 L294.3,320.4 L304.9,321.0 L312.0,320.7 L322.3,322.3 L332.5,321.8 L338.4,317.0 L344.4,315.1 L352.7,313.2 L360.9,314.3 L369.2,313.6 L377.1,314.1 L385.0,315.4 L393.0,314.5 L400.9,316.5 L410.7,314.4 L420.6,315.4 L428.7,313.6 L436.8,314.6 L444.8,314.0 L457.7,315.3 L469.8,310.8 L473.8,310.2 L482.5,309.9 L491.1,309.0 L499.8,309.4 L502.9,317.7 L504.8,329.1 L506.8,336.8 L507.8,344.7 L512.5,358.2 L519.3,369.0 L519.8,376.5 L520.9,384.0 L522.7,390.7 L524.0,397.5 L528.1,405.5 L533.3,412.1 L536.2,419.9 L536.3,431.7 L535.6,439.3 L535.7,446.9 L536.3,454.5 L535.9,462.2 L535.2,469.8 L535.4,477.4 L536.0,485.1 L535.5,492.7 L534.9,500.3 M44.7,325.6 L51.7,326.0 L58.8,326.4 L65.8,325.0 L72.9,326.4 L79.9,326.2 L87.0,325.7 L94.0,327.3 L101.1,326.3 L108.1,326.6 L115.2,327.4 L122.2,325.8 L129.3,326.7 L136.3,326.4 L143.4,325.2 L150.5,326.5 L157.5,325.6 L164.6,325.6 L171.6,326.9 L178.7,325.7 L185.7,326.8 L192.8,327.2 L199.8,326.0 L206.9,327.3 L213.9,326.4 L221.0,325.7 L228.0,326.8 L235.1,325.3 L242.1,325.8 L249.2,326.5 L256.2,325.3 L263.3,326.8 L270.3,326.6 L277.4,326.0 L284.5,327.6 L291.5,326.3 L298.6,326.4 L308.8,325.2 L315.7,325.1 L325.7,326.9 L335.7,326.8 L340.9,323.3 L346.1,320.0 L354.1,319.7 L362.1,320.9 L370.2,319.4 L377.9,321.1 L385.6,320.3 L393.3,320.4 L401.0,321.2 L410.5,319.4 L420.0,320.1 L427.9,318.9 L435.7,320.7 L443.6,319.7 L456.1,321.8 L467.3,317.1 L471.1,316.4 L479.4,315.3 L487.8,314.3 L496.2,314.4 L500.5,322.5 L502.2,333.6 L503.1,341.0 L504.7,348.7 L510.0,361.9 L515.2,372.9 L516.5,380.2 L518.3,387.6 L519.8,400.7 L524.4,408.4 L530.2,415.1 L532.8,423.0 L531.9,434.4 L532.1,441.8 L532.6,449.2 L532.2,456.6 L531.5,463.9 L531.7,471.3 L532.2,478.7 L531.9,486.1 L531.2,493.5 L531.3,500.9 M55.7,332.3 L62.7,331.1 L69.8,332.6 L76.8,332.3 L83.8,331.5 L90.9,332.8 L97.9,331.4 L104.9,331.3 L111.9,332.1 L119.0,330.5 L126.0,331.5 L133.0,331.7 L140.1,330.8 L147.1,332.4 L154.1,331.8 L161.1,331.7 L168.2,333.0 L175.2,331.5 L182.2,332.0 L189.3,332.2 L196.3,330.7 L203.3,331.8 L210.3,331.3 L217.4,330.6 L224.4,332.2 L231.4,331.2 L238.5,331.7 L245.5,332.7 L252.5,331.4 L259.5,332.5 L266.6,332.3 L273.6,331.1 L280.6,332.3 L287.7,331.1 L294.7,330.8 L301.7,332.0 L311.8,329.6 L318.4,331.9 L328.0,331.7 L337.5,334.2 L343.3,329.0 L348.8,325.4 L356.6,326.5 L364.4,325.3 L372.1,325.0 L379.6,325.9 L387.0,324.6 L394.5,326.3 L401.9,325.9 L411.2,326.0 L420.4,325.9 L428.0,325.6 L435.6,326.9 L443.2,325.3 L455.4,326.8 L466.4,322.1 L470.0,321.5 L478.1,320.3 L486.2,319.8 L494.2,320.3 L497.9,328.4 L498.6,339.2 L500.6,346.4 L502.5,353.9 L506.1,366.8 L512.4,377.7 L513.9,384.9 L514.6,392.0 L516.5,404.7 L521.6,411.7 L526.7,418.0 L528.2,425.7 L528.4,436.7 L528.9,443.9 L528.5,451.0 L527.8,458.2 L528.0,465.3 L528.5,472.5 L528.3,479.6 L527.5,486.8 L527.5,493.9 L528.1,501.1 M66.8,337.7 L73.8,337.1 L80.8,336.1 L87.8,337.4 L94.8,336.2 L101.8,336.4 L108.8,337.6 L115.8,336.4 L122.8,337.6 L129.8,337.9 L136.8,336.8 L143.8,338.2 L150.8,337.3 L157.8,336.6 L164.8,337.7 L171.8,336.2 L178.8,336.6 L185.8,337.2 L192.8,336.0 L199.8,337.4 L206.8,337.4 L213.8,336.7 L220.8,338.3 L227.8,337.2 L234.8,337.1 L241.8,338.0 L248.8,336.4 L255.9,337.0 L262.9,337.1 L269.9,335.8 L276.9,337.3 L283.9,336.8 L290.9,336.5 L297.9,338.1 L304.9,336.9 L314.5,337.1 L321.0,337.4 L330.4,337.5 L339.8,338.6 L344.7,332.8 L349.9,330.8 L357.4,331.2 L364.9,329.8 L372.5,331.4 L379.7,330.9 L386.9,331.3 L394.1,332.8 L401.3,331.7 L410.3,332.6 L419.2,330.8 L426.6,331.2 L433.9,331.4 L441.3,330.1 L453.0,331.7 L463.9,328.2 L467.6,327.7 L475.4,326.6 L483.3,326.5 L491.2,326.7 L494.4,334.4 L496.6,344.8 L498.0,351.7 L498.7,358.9 L503.4,371.0 L509.5,381.5 L509.9,388.4 L510.8,395.3 L513.8,407.4 L517.7,413.9 L522.2,419.6 L524.4,427.2 L525.2,437.9 L524.6,445.7 L524.1,453.5 L524.5,461.2 L524.8,469.0 L524.1,476.8 L523.7,484.6 L524.3,492.4 L524.4,500.2 M78.9,341.6 L86.1,343.3 L93.3,342.2 L100.5,342.8 L107.7,343.6 L114.9,342.1 L122.1,343.3 L129.3,342.6 L136.5,341.7 L143.7,342.9 L150.9,341.4 L158.0,342.0 L165.2,342.7 L172.4,341.6 L179.6,343.2 L186.8,342.8 L194.0,342.4 L201.2,343.7 L208.4,342.2 L215.6,342.7 L222.8,342.8 L230.0,341.4 L237.2,342.7 L244.4,341.8 L251.6,341.7 L258.8,343.1 L266.0,341.9 L273.2,343.0 L280.4,343.3 L287.6,342.2 L294.7,343.6 L301.9,342.4 L309.1,342.1 L318.5,341.6 L324.7,340.9 L333.7,343.3 L342.7,342.7 L347.7,339.1 L352.6,337.7 L359.8,336.5 L367.1,337.1 L374.4,337.6 L383.7,336.6 L393.0,337.9 L402.4,336.6 L411.0,337.5 L419.6,335.5 L426.7,337.0 L433.8,336.6 L440.9,336.3 L452.3,337.8 L462.3,334.8 L465.7,334.1 L473.2,332.3 L480.7,332.0 L488.3,331.9 L492.4,339.2 L493.3,349.2 L494.3,355.9 L496.1,362.7 L500.6,374.5 L505.3,384.9 L508.2,398.3 L509.7,410.2 L513.6,416.4 L518.7,422.0 L521.3,429.5 L520.8,439.8 L520.4,447.4 L520.8,454.9 L521.1,462.4 L520.5,469.9 L520.0,477.4 L520.5,484.9 L520.8,492.5 L520.1,500.0 M89.4,347.8 L96.6,347.8 L103.7,348.4 L110.9,346.8 L118.1,347.9 L125.2,347.6 L132.4,346.9 L139.6,348.5 L146.8,347.5 L153.9,348.1 L161.1,349.0 L168.3,347.6 L175.5,348.8 L182.6,348.2 L189.8,347.2 L197.0,348.4 L204.1,346.9 L211.3,347.3 L218.5,348.1 L225.7,346.8 L232.8,348.4 L240.0,348.1 L247.2,347.7 L254.3,349.2 L261.5,347.7 L268.7,348.2 L275.9,348.5 L283.0,346.9 L290.2,348.1 L297.4,347.4 L304.6,346.9 L311.7,348.4 L320.8,346.2 L326.8,348.0 L335.5,348.7 L344.1,349.4 L349.3,346.1 L354.4,342.9 L361.4,341.9 L368.4,343.0 L375.5,341.4 L384.4,342.3 L393.4,342.2 L402.3,342.8 L410.7,343.0 L419.1,342.1 L429.4,343.3 L439.7,342.7 L450.6,342.8 L460.8,340.0 L464.3,339.1 L471.6,337.2 L479.0,337.3 L486.3,337.4 L489.0,344.6 L490.2,354.4 L493.5,367.6 L496.7,379.0 L502.6,389.4 L504.6,402.6 L506.1,414.2 L510.7,420.1 L515.6,425.2 L517.2,432.4 L516.7,442.3 L517.2,449.6 L517.4,456.9 L516.8,464.1 L516.3,471.4 L516.7,478.6 L517.1,485.9 L516.5,493.2 L516.0,500.4 M101.3,353.6 L108.4,352.3 L115.6,353.7 L122.7,353.8 L129.9,353.0 L137.0,354.5 L144.2,353.3 L151.3,353.3 L158.5,354.0 L165.6,352.3 L172.8,353.3 L179.9,353.0 L187.1,352.1 L194.2,353.7 L201.4,352.8 L208.5,353.2 L215.7,354.3 L222.8,353.0 L230.0,354.1 L237.1,353.8 L244.3,352.7 L251.4,353.9 L258.6,352.5 L265.7,352.6 L272.9,353.5 L280.0,352.1 L287.2,353.5 L294.3,353.5 L301.5,352.9 L308.6,354.5 L315.8,353.3 L324.4,353.0 L330.2,353.8 L338.7,352.9 L347.2,354.9 L351.5,350.0 L355.9,346.8 L366.1,348.3 L376.2,346.8 L384.9,349.0 L393.6,348.0 L402.3,349.8 L410.3,348.3 L418.4,348.2 L428.3,347.8 L438.2,347.9 L448.8,347.4 L458.3,345.8 L461.5,344.9 L468.6,343.2 L475.6,343.8 L482.7,344.0 L486.3,350.9 L488.1,360.3 L489.7,372.9 L494.3,383.8 L499.6,393.7 L500.7,406.4 L503.5,417.5 L507.2,422.9 L511.3,427.2 L512.8,434.1 L513.5,443.7 L513.7,450.7 L513.0,457.7 L512.6,464.7 L513.0,471.7 L513.4,478.7 L512.9,485.7 L512.3,492.7 L512.5,499.7 M112.7,359.4 L119.8,359.3 L126.9,358.0 L134.1,359.3 L141.2,358.0 L148.3,357.9 L155.4,358.9 L162.6,357.6 L169.7,358.8 L176.8,359.1 L183.9,358.2 L191.1,359.8 L198.2,358.9 L205.3,358.7 L212.4,359.6 L219.5,357.9 L226.7,358.7 L233.8,358.6 L240.9,357.4 L248.0,359.0 L255.2,358.2 L262.3,358.3 L269.4,359.7 L276.5,358.4 L283.6,359.4 L290.8,359.5 L297.9,358.2 L305.0,359.4 L312.1,358.3 L319.3,357.9 L327.7,358.0 L333.3,357.3 L341.3,359.1 L349.3,359.7 L354.2,355.2 L358.7,353.7 L368.5,354.0 L378.3,353.8 L386.6,354.2 L395.0,353.4 L403.3,354.7 L411.1,352.7 L418.9,353.7 L428.4,352.7 L438.0,354.2 L448.2,353.5 L457.4,352.4 L460.5,351.2 L470.6,349.2 L480.8,349.4 L484.0,356.0 L484.4,364.9 L487.5,376.9 L491.3,387.2 L495.5,396.8 L498.1,409.1 L499.7,419.9 L502.9,425.2 L507.3,429.2 L509.6,435.7 L509.9,445.0 L509.1,452.7 L509.0,460.4 L509.6,468.1 L509.5,475.9 L508.7,483.6 L508.7,491.3 L509.3,499.0 M123.4,362.8 L130.5,364.4 L137.6,363.6 L144.7,363.7 L151.8,365.1 L158.9,363.8 L166.0,364.8 L173.1,364.9 L180.2,363.6 L187.3,364.8 L194.4,363.7 L201.5,363.2 L208.6,364.4 L215.7,363.0 L222.8,363.9 L229.9,364.5 L237.0,363.4 L244.1,365.0 L251.2,364.5 L258.3,364.0 L265.4,365.2 L272.4,363.6 L279.5,364.0 L286.6,364.3 L293.7,362.8 L300.8,364.1 L307.9,363.7 L315.0,363.3 L322.1,364.9 L330.1,362.9 L335.6,363.9 L343.4,365.6 L351.2,364.8 L355.4,361.6 L359.8,360.2 L369.2,358.2 L378.7,359.3 L386.7,358.2 L394.7,359.3 L402.7,359.7 L410.2,358.9 L417.7,360.2 L426.9,358.8 L436.1,360.5 L445.8,359.0 L454.9,357.7 L458.0,356.2 L467.9,354.2 L477.8,354.6 L480.3,361.0 L482.1,369.7 L484.5,381.3 L487.4,391.3 L492.8,400.9 L494.6,412.9 L495.7,423.5 L499.8,428.7 L504.3,432.4 L506.1,438.6 L505.4,447.6 L505.3,455.0 L505.9,462.4 L505.8,469.8 L505.0,477.2 L504.9,484.7 L505.5,492.1 L505.5,499.5 M135.7,369.7 L142.8,369.5 L149.8,370.6 L156.9,368.9 L164.0,369.5 L171.0,369.6 L178.1,368.2 L185.2,369.6 L192.2,369.0 L199.3,368.8 L206.4,370.3 L213.4,369.2 L220.5,369.9 L227.6,370.5 L234.6,369.1 L241.7,370.2 L248.8,369.5 L255.8,368.6 L262.9,369.8 L270.0,368.5 L277.0,368.9 L284.1,369.9 L291.2,368.6 L298.2,370.0 L305.3,370.1 L312.4,369.2 L319.4,370.7 L326.5,369.5 L334.2,368.6 L339.4,369.9 L346.9,368.9 L354.4,370.2 L358.4,367.2 L362.4,364.5 L371.4,364.1 L380.4,364.9 L388.2,364.3 L395.9,366.3 L403.6,365.2 L410.8,365.5 L417.9,365.5 L426.7,364.1 L435.6,365.2 L445.0,363.9 L453.3,363.0 L456.1,361.6 L465.5,360.4 L474.8,361.1 L478.3,367.3 L479.3,375.6 L480.9,386.8 L485.1,396.3 L489.7,405.4 L490.6,417.0 L493.1,427.2 L496.7,432.2 L500.4,435.3 L501.6,441.0 L501.6,449.6 L502.2,456.7 L502.1,463.9 L501.3,471.0 L501.2,478.1 L501.8,485.3 L501.8,492.4 L501.1,499.6 M146.3,375.2 L153.3,373.7 L160.4,374.6 L167.4,375.2 L174.5,374.1 L181.5,375.7 L188.5,375.3 L195.6,374.8 L202.6,376.1 L209.6,374.6 L216.7,374.8 L223.7,375.3 L230.7,373.7 L237.8,374.8 L244.8,374.6 L251.8,373.8 L258.9,375.5 L265.9,374.7 L272.9,374.9 L280.0,376.1 L287.0,374.6 L294.0,375.5 L301.1,375.5 L308.1,374.0 L315.1,375.2 L322.2,374.3 L329.2,373.9 L336.7,374.5 L341.6,374.1 L348.7,374.8 L355.9,376.8 L360.2,372.6 L364.3,370.0 L373.0,371.5 L381.7,370.0 L389.1,370.7 L396.4,371.1 L403.8,369.8 L417.6,369.8 L426.1,369.8 L434.5,370.7 L443.5,370.3 L451.9,369.5 L454.7,367.9 L463.8,366.8 L472.9,367.0 L475.1,372.8 L475.8,380.7 L478.8,391.2 L481.8,400.2 L485.6,408.7 L488.0,419.9 L489.6,429.7 L492.4,434.5 L496.0,437.3 L497.8,442.7 L498.5,450.9 L498.2,458.8 L497.5,466.8 L497.8,474.8 L498.2,482.8 L497.6,490.8 L497.1,498.8 M157.9,380.8 L164.9,381.2 L171.9,379.9 L178.9,381.1 L185.9,380.4 L192.9,379.5 L199.9,380.7 L206.9,379.3 L213.9,379.6 L220.9,380.6 L227.9,379.3 L234.9,380.7 L241.9,380.9 L248.9,379.9 L255.9,381.4 L262.9,380.5 L269.9,380.1 L276.9,381.1 L283.9,379.4 L290.9,379.9 L297.9,380.3 L304.9,379.0 L311.9,380.5 L318.9,380.3 L325.9,379.8 L332.9,381.4 L340.0,379.6 L344.8,379.8 L358.6,381.2 L362.1,377.2 L365.8,375.8 L374.0,376.1 L382.3,374.6 L389.4,376.3 L396.5,375.5 L403.6,376.0 L416.7,375.6 L424.8,376.7 L432.9,376.5 L441.6,376.4 L449.3,374.8 L451.9,373.0 L460.6,371.9 L469.2,372.0 L472.1,377.6 L473.8,385.1 L475.4,395.3 L478.2,403.8 L483.0,412.2 L484.6,423.0 L485.5,432.6 L488.8,437.5 L492.8,440.3 L494.8,445.4 L494.4,453.3 L493.8,460.9 L494.0,468.6 L494.5,476.2 L494.0,483.9 L493.4,491.5 L493.7,499.2 M169.7,384.5 L176.9,385.8 L184.2,385.0 L191.5,384.9 L198.7,386.3 L206.0,385.0 L213.3,386.2 L220.5,386.4 L227.8,385.4 L235.1,386.8 L242.3,385.4 L249.6,385.4 L256.9,386.0 L264.1,384.4 L271.4,385.7 L278.7,385.3 L285.9,384.9 L293.2,386.5 L300.4,385.3 L307.7,386.2 L315.0,386.6 L322.2,385.3 L329.5,386.6 L336.8,385.4 L343.6,384.3 L348.1,385.7 L361.1,385.4 L365.0,383.0 L368.6,382.0 L376.5,380.8 L384.4,381.7 L394.6,381.7 L404.7,383.0 L417.3,381.0 L425.0,382.3 L432.8,381.0 L441.0,381.5 L448.4,379.7 L450.9,378.0 L459.1,377.7 L467.3,378.1 L470.0,383.6 L470.3,390.8 L472.2,400.6 L475.9,408.8 L479.8,416.8 L480.5,427.2 L482.6,436.4 L486.0,441.2 L489.5,443.9 L490.6,448.6 L490.0,456.1 L490.4,463.4 L490.8,470.7 L490.4,478.0 L489.7,485.3 L489.9,492.7 L490.5,500.0 M180.2,391.3 L187.4,390.9 L194.7,392.3 L201.9,390.8 L209.1,391.4 L216.4,391.5 L223.6,390.1 L230.9,391.4 L238.1,390.3 L245.3,390.3 L252.6,391.5 L259.8,390.3 L267.0,391.6 L274.3,391.7 L281.5,390.8 L288.8,392.3 L296.0,390.9 L303.2,391.0 L310.5,391.6 L317.7,389.9 L325.0,391.1 L332.2,390.7 L339.4,390.1 L345.9,391.0 L350.2,391.1 L362.7,392.7 L366.2,390.1 L369.8,387.9 L377.3,386.9 L384.9,388.1 L394.5,386.5 L404.1,388.1 L416.1,386.1 L423.5,387.5 L430.9,386.2 L438.7,387.8 L446.0,385.8 L448.5,384.3 L456.4,384.3 L464.3,384.4 L466.3,389.5 L467.5,396.4 L470.0,405.5 L472.4,413.1 L475.8,420.5 L477.8,430.4 L479.5,439.1 L482.0,443.8 L485.0,446.3 L486.2,450.6 L486.7,457.8 L487.1,466.1 L486.3,474.5 L486.0,482.9 L486.7,491.3 L486.5,499.6 M192.4,397.1 L199.6,395.6 L206.8,396.0 L214.0,396.5 L221.2,395.3 L228.4,396.9 L235.7,396.5 L242.9,396.3 L250.1,397.7 L257.3,396.3 L264.5,397.0 L271.7,397.1 L278.9,395.6 L286.1,396.9 L293.3,395.8 L300.5,395.6 L307.7,396.8 L314.9,395.5 L322.1,396.8 L329.3,397.0 L336.6,396.1 L343.8,397.7 L349.9,396.2 L354.0,395.8 L365.9,397.9 L369.0,394.1 L372.2,391.8 L379.3,392.6 L386.5,392.3 L395.7,392.1 L404.9,393.4 L416.2,393.0 L423.2,393.7 L430.2,392.4 L437.7,394.1 L444.3,391.3 L446.5,389.8 L453.9,389.7 L461.4,389.4 L464.2,394.2 L465.2,400.8 L466.3,409.4 L469.0,416.6 L473.2,423.6 L474.7,433.0 L475.3,441.4 L477.9,446.2 L481.3,448.8 L483.1,453.0 L483.4,459.8 L482.7,467.8 L482.3,475.7 L482.9,483.7 L482.9,491.6 L482.2,499.6 M203.3,401.8 L210.5,402.7 L217.6,401.5 L224.8,402.9 L232.0,402.3 L239.2,401.5 L246.3,402.7 L253.5,401.1 L260.7,401.4 L267.8,401.9 L275.0,400.6 L282.2,402.1 L289.4,401.7 L296.5,401.5 L303.7,403.0 L310.9,401.7 L318.1,402.4 L325.2,402.7 L332.4,401.2 L339.6,402.3 L346.8,401.4 L352.6,400.1 L356.5,401.3 L367.6,401.7 L371.0,398.8 L374.3,397.9 L387.9,397.7 L396.6,399.4 L405.3,398.8 L416.1,399.2 L429.4,397.5 L436.4,399.0 L443.0,396.0 L445.2,394.7 L452.3,395.2 L459.4,395.1 L461.2,399.8 L461.5,406.1 L463.6,414.4 L466.7,421.2 L469.9,428.0 L470.5,436.9 L472.1,445.0 L475.1,449.7 L478.3,452.4 L479.5,456.5 L478.9,462.9 L478.6,470.4 L479.1,478.0 L479.3,485.5 L478.6,493.1 L478.2,500.6 M214.5,406.6 L221.7,407.6 L228.8,407.0 L235.9,406.1 L243.1,407.6 L250.2,406.4 L257.3,407.0 L264.5,408.0 L271.6,406.8 L278.7,408.2 L285.9,407.9 L293.0,407.0 L300.1,408.2 L307.3,406.7 L314.4,406.8 L321.6,407.5 L328.7,406.0 L335.8,407.3 L343.0,407.2 L350.1,406.6 L355.6,407.5 L359.3,408.0 L370.0,407.9 L372.7,406.1 L375.6,405.2 L388.4,403.4 L396.7,404.7 L404.9,403.2 L415.1,404.2 L427.6,403.3 L434.3,404.8 L440.3,402.0 L442.4,400.9 L455.8,401.7 L457.9,406.0 L459.3,411.9 L461.1,419.7 L463.0,426.0 L465.9,432.2 L467.7,440.6 L469.3,448.2 L471.6,452.6 L474.1,455.3 L475.0,459.1 L474.9,465.2 L475.4,472.3 L475.6,479.4 L474.9,486.5 L474.5,493.7 L475.0,500.8 M226.6,412.6 L233.7,412.0 L240.7,413.7 L247.8,412.7 L254.9,412.9 L262.0,413.8 L269.1,412.1 L276.2,413.0 L283.3,412.7 L290.4,411.5 L297.5,412.9 L304.6,411.9 L311.7,412.0 L318.8,413.3 L325.9,412.1 L333.0,413.3 L340.1,413.5 L347.2,412.3 L354.2,413.7 L359.4,412.6 L362.9,412.0 L372.9,413.7 L375.7,411.4 L378.5,409.4 L390.6,409.3 L398.3,409.3 L406.1,409.2 L415.6,410.2 L427.5,410.1 L433.8,410.9 L439.4,407.9 L441.3,406.9 L453.9,407.0 L456.0,411.0 L456.4,416.5 L457.3,423.8 L459.8,429.6 L463.4,435.3 L464.7,443.1 L465.2,450.3 L467.2,454.6 L469.9,457.3 L471.3,461.0 L471.8,466.7 L471.7,475.1 L470.9,483.5 L471.1,491.9 L471.6,500.2 M237.0,419.1 L244.1,417.8 L251.1,417.6 L258.2,418.4 L265.2,416.8 L272.3,417.8 L279.3,418.0 L286.3,417.1 L293.4,418.8 L300.4,418.2 L307.5,418.0 L314.5,419.3 L321.6,417.8 L328.6,418.3 L335.7,418.5 L342.7,417.0 L349.8,418.2 L356.8,417.6 L361.7,416.3 L364.9,417.1 L374.3,418.9 L377.0,416.1 L379.7,414.4 L391.1,416.1 L398.3,415.0 L405.6,416.1 L414.6,415.3 L425.7,415.5 L431.6,415.5 L437.1,412.6 L439.0,411.8 L450.9,412.3 L452.3,416.2 L453.0,421.4 L455.0,428.2 L457.5,433.8 L460.0,439.1 L460.5,446.6 L461.7,453.3 L464.1,457.5 L466.9,460.4 L468.2,464.0 L468.0,469.4 L467.2,477.2 L467.3,485.1 L467.9,492.9 L467.5,500.8 M249.1,422.8 L256.5,423.9 L264.0,422.7 L271.5,424.3 L278.9,423.8 L286.4,423.5 L293.8,424.6 L301.3,422.9 L308.8,423.7 L316.2,423.3 L323.7,422.4 L331.1,423.8 L338.6,422.4 L346.1,423.5 L353.5,423.9 L361.0,423.0 L365.5,423.7 L368.5,424.5 L377.4,423.8 L379.6,421.6 L381.9,420.8 L392.5,420.6 L406.1,421.4 L414.5,419.5 L424.9,421.1 L430.4,420.7 L435.3,418.5 L436.9,418.0 L447.9,418.8 L450.0,422.4 L451.0,427.3 L452.1,433.7 L453.6,438.8 L456.1,443.7 L457.5,450.6 L459.0,456.9 L461.0,460.8 L463.2,463.5 L463.9,466.9 L463.5,471.9 L463.6,479.3 L464.1,486.6 L463.9,493.9 L463.2,501.3 M260.3,428.5 L267.7,429.5 L275.1,429.1 L282.6,428.0 L290.0,429.2 L297.4,427.7 L304.9,428.5 L312.3,429.0 L319.7,428.0 L327.1,429.8 L334.6,428.8 L342.0,429.2 L349.4,429.9 L356.9,428.3 L364.3,429.5 L368.6,428.9 L371.4,428.4 L379.4,428.7 L381.9,427.3 L384.3,426.6 L394.1,425.0 L406.7,427.1 L414.5,425.6 L424.2,427.5 L429.3,426.7 L434.0,424.8 L435.6,424.4 L445.9,424.5 L447.3,427.8 L447.4,432.3 L448.4,438.2 L450.7,442.8 L453.6,447.1 L454.6,453.5 L455.1,459.2 L456.7,462.8 L458.8,465.4 L459.6,468.6 L459.9,473.3 L460.5,482.3 L459.8,491.4 L459.4,500.5 M271.2,434.1 L278.6,433.1 L286.0,434.8 L293.4,433.9 L300.8,434.4 L308.2,435.3 L315.5,433.9 L322.9,435.2 L330.3,434.2 L337.7,433.7 L345.1,434.7 L352.5,433.0 L359.9,434.2 L367.3,434.0 L371.2,432.9 L373.8,433.2 L381.4,435.6 L383.4,433.8 L385.4,432.4 L394.6,431.7 L406.2,432.5 L413.4,431.7 L422.3,432.5 L427.1,431.4 L431.4,429.9 L432.8,429.5 L442.3,429.6 L443.8,432.6 L444.7,436.8 L446.4,442.3 L448.1,446.6 L450.2,450.6 L450.5,456.4 L451.3,461.8 L453.2,465.1 L455.4,467.6 L456.5,470.7 L456.8,475.0 L456.2,483.4 L455.6,491.8 L456.2,500.2 M283.4,440.8 L290.7,439.8 L298.1,439.6 L305.5,440.4 L312.8,438.6 L320.2,439.7 L327.5,439.2 L334.9,438.6 L342.2,440.2 L349.6,439.0 L356.9,440.0 L364.3,440.4 L371.6,439.3 L375.2,439.7 L377.6,440.5 L384.5,440.5 L386.4,438.3 L388.3,437.0 L396.7,437.8 L407.4,436.6 L414.0,437.1 L422.2,437.2 L426.5,436.5 L430.4,435.7 L431.7,435.5 L440.4,435.9 L441.9,438.7 L442.4,442.6 L442.9,447.6 L444.2,451.6 L446.2,455.2 L447.4,460.6 L448.6,465.4 L450.3,468.4 L452.2,470.8 L452.9,473.7 L452.5,477.6 L451.9,485.3 L452.4,493.0 L452.7,500.7 M293.9,444.1 L301.2,445.3 L308.5,444.0 L315.8,445.1 L323.1,445.4 L330.4,444.6 L337.7,446.2 L345.1,445.1 L352.4,445.2 L359.7,445.8 L367.0,444.1 L374.3,445.3 L377.6,445.1 L379.7,444.9 L386.0,444.2 L387.9,442.8 L389.7,442.2 L397.3,443.3 L407.0,442.5 L413.1,443.8 L420.5,443.2 L424.5,442.8 L428.2,442.3 L429.4,442.2 L437.4,442.0 L438.3,444.6 L438.6,448.0 L439.7,452.6 L441.5,456.1 L443.8,459.2 L444.6,464.0 L445.1,468.4 L446.3,471.0 L447.8,473.0 L448.3,475.6 L448.2,479.2 L448.6,486.2 L449.0,493.2 L448.6,500.2 M305.7,450.2 L312.9,451.0 L320.2,451.3 L327.4,449.9 L334.7,451.1 L341.9,450.0 L349.2,449.7 L356.4,450.7 L363.7,449.2 L370.9,450.5 L378.2,450.6 L381.1,449.7 L383.1,449.7 L388.8,451.1 L390.2,450.2 L391.7,449.7 L398.6,448.9 L407.4,449.3 L412.8,449.7 L419.5,448.2 L423.1,448.1 L426.3,447.7 L427.3,447.5 L434.5,447.0 L435.8,449.3 L436.5,452.4 L437.6,456.5 L438.8,459.7 L440.3,462.4 L440.5,466.7 L441.0,470.6 L442.3,472.9 L443.9,474.7 L444.7,477.1 L445.0,480.3 L445.2,489.8 L444.3,499.3 M317.3,456.0 L324.4,454.5 L331.6,456.0 L338.8,455.4 L346.0,455.2 L353.1,456.7 L360.3,455.5 L367.5,456.4 L374.7,456.8 L381.8,455.4 L384.5,455.4 L386.2,456.0 L391.2,457.1 L392.8,455.6 L394.2,454.6 L400.3,453.2 L408.1,454.7 L413.0,454.2 L419.0,453.0 L422.2,453.4 L425.1,453.3 L426.1,453.2 L432.5,452.9 L433.3,455.0 L433.4,457.8 L433.9,461.5 L434.9,464.3 L436.4,466.8 L437.2,470.7 L438.2,474.1 L439.5,476.2 L440.9,477.7 L441.6,479.8 L441.5,482.7 L440.7,491.2 L440.6,499.6 M327.9,462.0 L335.0,461.7 L342.1,461.1 L349.1,462.4 L356.2,460.9 L363.3,461.2 L370.4,461.6 L377.5,460.0 L384.6,461.2 L386.9,461.3 L388.4,461.4 L392.9,460.9 L394.1,459.6 L395.3,458.8 L400.7,459.3 L407.6,460.7 L411.8,459.8 L417.1,459.4 L419.9,460.1 L422.4,460.0 L423.3,459.9 L428.9,459.3 L429.7,461.2 L430.2,463.6 L431.1,466.8 L432.4,469.3 L434.0,471.4 L434.6,474.7 L435.0,477.7 L435.9,479.4 L436.9,480.6 L437.3,482.4 L437.0,484.9 L436.8,492.3 L437.4,499.7 M340.1,465.8 L348.3,467.0 L356.4,465.3 L364.5,466.8 L372.7,466.0 L380.8,466.6 L389.0,467.3 L390.9,466.6 L392.3,466.4 L396.1,466.6 L397.1,465.8 L398.1,465.5 L402.8,466.5 L408.7,466.1 L412.4,465.1 L416.9,465.2 L419.3,465.8 L421.4,465.5 L422.1,465.3 L426.9,464.5 L427.8,466.1 L428.1,468.2 L428.7,470.9 L429.4,473.0 L430.4,474.7 L430.5,477.6 L430.8,480.1 L431.6,481.5 L432.6,482.5 L433.1,483.9 L433.2,486.1 L433.8,498.9 M350.9,471.6 L359.1,472.5 L367.2,472.6 L375.4,472.0 L383.6,473.0 L391.8,471.3 L393.5,471.2 L394.6,471.4 L397.7,472.4 L398.7,471.8 L399.6,471.5 L403.5,471.2 L408.5,470.1 L411.6,469.8 L415.3,470.5 L417.4,471.0 L419.2,470.8 L419.9,470.6 L423.9,470.0 L424.4,471.3 L424.5,473.1 L424.9,475.4 L425.6,477.2 L426.6,478.7 L427.1,481.1 L427.7,483.2 L428.5,484.4 L429.5,485.2 L430.0,486.4 L430.1,488.2 L429.6,498.9 M362.3,478.1 L370.6,476.4 L378.8,477.8 L387.1,476.3 L395.3,477.4 L396.7,477.6 L397.6,477.8 L400.2,478.0 L400.8,477.3 L401.5,476.8 L404.6,476.1 L408.7,475.9 L411.1,476.3 L414.2,477.1 L415.8,477.6 L417.3,477.3 L417.7,477.1 L421.0,476.5 L421.6,477.6 L421.9,479.0 L422.5,480.9 L423.3,482.4 L424.1,483.6 L424.5,485.5 L424.8,487.2 L425.4,488.1 L426.0,488.6 L426.3,489.6 L426.1,491.1 L425.3,499.7 M374.2,483.0 L382.6,482.8 L391.0,483.0 L399.3,483.7 L400.4,483.4 L401.0,483.3 L403.0,483.0 L403.6,482.4 L404.1,482.0 L406.5,481.8 L409.6,482.4 L411.5,482.7 L413.8,483.2 L415.0,483.3 L416.2,482.9 L416.5,482.7 L419.0,482.1 L419.4,482.9 L419.5,483.9 L419.6,485.4 L420.0,486.4 L420.5,487.3 L420.5,488.8 L420.6,490.0 L421.0,490.7 L421.5,491.1 L421.7,491.8 L421.7,492.9 L421.8,499.5" fill="none" stroke="#e8d24c" stroke-opacity="0.55" stroke-width="1.25"/>
    <rect x="193" y="140" width="528" height="60" fill="url(#topL)"/>
    <rect x="193" y="57" width="528" height="390" fill="url(#brL)"/>
    <rect x="193" y="57" width="528" height="390" fill="url(#hiL)"/>
    <g mask="url(#mLv)">
    <rect x="193" y="150" width="150" height="297" fill="url(#spkGL)" filter="url(#spk)"/>
    <rect x="193" y="150" width="150" height="297" fill="url(#spkGL)" filter="url(#spkd)"/>
    </g>
    <rect x="193" y="57" width="528" height="390" fill="url(#orL)"/>
  </g>
  <path d="M193,162.7 L213,160.7 L226.4,162 L265,165.4 L275.8,156 L286.5,150.7 L333.2,150 L393,152 L430,150.5 L475.7,150.7 L500,151.5 L522.1,145.1 L529.5,142.1" fill="none" stroke="#5e4a10" stroke-width="4.5"/>
  <path d="M493,436 L500,422.4 L519.2,407.7 L541.3,385.6 L562,379.7 L582.6,370.8 L603.3,364.9 L621,366.4 L629.8,375.2 L629.8,392.9 L621,400.3 L603.3,407.7 L582.6,409.2 L562,415.1 L541.3,422.4 L519.2,432.8 L505.9,437.2 Z" fill="#7a5c1c"/>
  <path d="M575,375 L605,367 L622,372 L626,390 L612,400 L585,404 Z" fill="#6a4c18"/>
  <rect x="639.4" y="360.5" width="7.4" height="37" fill="#7a5818"/>
  <polygon points="379.5,69.9 387,75 353.6,124.6 360.9,129.4 333.9,144.9 338.4,114.2 345.6,119" fill="#fff"/>
  <polygon points="695.3,287 702.9,292.2 669.5,341.7 676.5,347.1 649.1,362 653.7,331.9 661.3,336.2" fill="#fff"/>
  <rect x="542.7" y="129.1" width="170.5" height="6.3" fill="#fff"/>
</g>
<g clip-path="url(#cpR)">
  <rect x="886" y="57" width="530" height="390" fill="url(#bgR)"/>
  <path d="M1240,120 L1262,150 L1272,184 L1280,207 L1288,238 L1296,254 L1312,262 L1338,276 L1360,294 L1378,317 L1390,343 L1399,375 L1403,407 L1405,447 L1380,447 L1240,200 Z" fill="#a09430" opacity="0.45"/>
  <path d="M886,95 L925,95 L940,91.5 L955,93 L1000,95.5 L1080,98.4 L1160,98.4 L1186.8,103.7 L1213.5,111.7 L1233.5,118.4 L1244.2,129 L1251,145 L1252.2,153.7 L1261.4,184.4 L1269,207.5 L1276.8,238.2 L1286,259.7 L1304.4,270.4 L1330.5,284.2 L1350.4,301.1 L1365.8,322.6 L1376.5,345.6 L1385.8,376.3 L1388.8,407 L1390.4,447 L886,447 Z" fill="url(#bandR)"/>
  <path d="M1080,98.4 L1160,98.4 L1186.8,103.7 L1213.5,111.7 L1233.5,118.4 L1244.2,129 L1251,145 L1252.2,153.7 L1261.4,184.4 L1269,207.5 L1276.8,238.2 L1286,259.7 L1304.4,270.4 L1330.5,284.2 L1350.4,301.1 L1365.8,322.6 L1376.5,345.6 L1385.8,376.3 L1388.8,407 L1390.4,447" fill="none" stroke="#d4c84c" stroke-width="4.5"/>
  <g clip-path="url(#scRclip)">
    <rect x="886" y="57" width="530" height="390" fill="url(#scR)"/>
    <g mask="url(#rmask)"><path d="M503.1,99.0 L510.3,97.7 L517.4,99.3 L524.5,98.7 L531.6,98.5 L538.7,100.0 L545.8,98.8 L552.9,99.6 L560.0,100.0 L567.2,98.5 L574.3,99.7 L581.4,98.8 L588.5,98.1 L595.6,99.3 L602.7,98.0 L609.8,98.7 L616.9,99.5 L624.1,98.4 L631.2,99.9 L638.3,99.5 L645.4,98.9 L652.5,100.2 L659.6,98.6 L666.7,98.9 L673.8,99.3 L681.0,97.8 L688.1,99.1 L695.2,98.7 L702.3,98.2 L709.4,99.8 L716.5,98.8 L723.6,99.4 L730.7,100.1 L737.9,98.6 L745.0,99.7 L752.1,99.2 L759.2,98.2 L766.3,99.4 L773.4,98.1 L780.5,98.4 L787.6,99.4 L794.8,98.2 L801.9,99.6 L809.0,99.6 L816.1,98.8 L823.2,100.3 L830.3,98.9 L837.4,98.9 L844.5,99.6 L851.7,97.9 L858.8,98.9 L865.9,98.8 L873.0,97.9 L880.1,99.6 L887.2,98.7 L895.0,99.2 L902.7,100.0 L910.5,98.7 L918.3,100.1 L926.0,98.6 L933.5,97.4 L941.0,96.2 L948.4,95.3 L955.9,97.3 L963.4,96.8 L970.8,97.6 L978.3,99.0 L985.7,98.2 L993.2,100.2 L1000.6,99.8 L1007.8,99.9 L1015.1,101.3 L1022.3,100.0 L1029.5,101.2 L1036.7,101.6 L1043.9,101.0 L1051.1,103.0 L1058.3,102.6 L1065.4,103.4 L1072.6,105.0 L1079.8,104.1 L1087.0,105.6 L1094.1,105.5 L1101.2,104.8 L1108.3,106.3 L1115.5,105.2 L1122.6,105.6 L1129.7,106.7 L1136.8,105.7 L1144.0,107.4 L1151.1,107.6 L1158.2,107.4 L1165.4,109.3 L1172.5,108.4 L1180.3,111.2 L1188.3,113.7 L1196.3,114.8 L1204.5,118.4 L1212.7,119.1 L1221.7,125.8 L1230.3,130.1 L1231.6,137.8 L1233.7,145.9 L1236.7,154.3 L1238.9,162.9 L1240.6,171.3 L1243.4,179.3 L1245.0,186.8 L1245.6,194.3 L1246.1,201.7 L1247.5,209.1 L1249.1,216.5 L1249.7,223.9 L1252.6,231.5 L1256.5,239.9 L1260.4,248.3 L1263.3,255.8 L1267.5,262.0 L1272.5,268.9 L1277.6,277.1 L1281.7,284.6 L1287.4,288.4 L1293.5,293.9 L1300.1,300.2 L1306.6,304.2 L1312.6,310.1 L1318.1,317.1 L1324.0,321.9 L1330.4,327.6 L1334.4,335.1 L1337.7,342.2 L1340.5,348.3 L1343.9,354.0 L1346.4,361.4 L1348.3,369.0 L1349.5,376.9 L1351.2,385.0 L1353.7,393.1 L1354.0,400.3 L1353.6,407.6 L1353.6,414.8 L1354.5,422.0 L1354.9,429.2 L1354.5,436.4 L1354.4,443.6 L1355.2,450.9 L1355.8,458.1 L1355.4,465.3 L1355.2,472.5 L1355.9,479.7 L1356.6,486.9 L1356.4,494.0 L1356.0,501.2 M510.3,105.2 L517.3,106.2 L524.3,104.8 L531.3,105.8 L538.4,105.6 L545.4,104.3 L552.4,105.5 L559.4,104.4 L566.4,104.2 L573.4,105.4 L580.4,104.1 L587.4,105.1 L594.4,105.8 L601.4,104.6 L608.4,106.1 L615.4,105.6 L622.4,104.8 L629.4,106.0 L636.4,104.5 L643.4,104.6 L650.4,105.3 L657.4,103.8 L664.4,105.0 L671.4,105.2 L678.5,104.3 L685.5,106.0 L692.5,105.3 L699.5,105.1 L706.5,106.3 L713.5,104.7 L720.5,105.2 L727.5,105.4 L734.5,103.9 L741.5,105.1 L748.5,104.7 L755.5,104.1 L762.5,105.7 L769.5,104.8 L776.5,105.1 L783.5,106.2 L790.5,104.8 L797.5,105.7 L804.5,105.6 L811.6,104.3 L818.6,105.5 L825.6,104.5 L832.6,104.1 L839.6,105.4 L846.6,104.2 L853.6,105.0 L860.6,105.8 L867.6,104.6 L874.6,106.0 L881.6,105.7 L888.6,104.7 L896.3,106.0 L903.9,104.3 L911.5,104.9 L919.2,104.9 L926.8,104.0 L934.2,104.1 L941.7,101.5 L949.0,102.8 L956.3,104.0 L963.6,103.2 L971.0,105.0 L978.3,104.4 L985.6,104.5 L993.0,105.7 L1000.3,104.4 L1007.4,105.9 L1014.6,106.2 L1021.7,105.8 L1028.8,108.0 L1036.0,107.5 L1043.1,108.3 L1050.3,109.8 L1057.4,108.7 L1064.6,110.2 L1071.7,110.3 L1078.9,109.5 L1086.0,111.1 L1093.1,110.2 L1100.1,110.5 L1107.2,111.9 L1114.3,110.9 L1121.4,112.4 L1128.4,113.1 L1135.5,112.4 L1142.6,114.2 L1149.7,113.7 L1156.8,113.5 L1163.8,114.8 L1170.9,113.5 L1179.0,116.5 L1186.9,118.7 L1194.8,120.3 L1202.6,124.2 L1210.3,125.3 L1218.3,132.1 L1226.6,136.4 L1229.1,144.0 L1231.5,151.8 L1233.2,160.0 L1235.3,168.4 L1238.3,176.6 L1240.8,184.4 L1241.2,191.8 L1242.0,199.1 L1243.7,206.4 L1244.9,213.6 L1245.2,220.8 L1246.1,228.1 L1250.1,235.2 L1253.7,243.2 L1256.4,251.4 L1259.6,258.9 L1264.8,265.0 L1269.5,271.5 L1273.4,279.6 L1277.6,287.4 L1284.0,291.5 L1290.5,296.9 L1296.5,303.6 L1302.1,308.1 L1307.7,313.4 L1313.8,320.5 L1320.4,325.6 L1326.6,330.3 L1329.6,337.3 L1332.5,344.4 L1336.0,350.7 L1340.0,356.3 L1341.8,363.3 L1343.0,370.5 L1344.7,377.9 L1347.2,385.6 L1349.0,393.5 L1348.6,400.7 L1348.7,407.8 L1349.5,414.9 L1349.9,422.0 L1349.6,429.2 L1349.5,436.3 L1350.2,443.4 L1350.8,450.5 L1350.5,457.6 L1350.2,464.8 L1350.8,471.9 L1351.6,479.0 L1351.5,486.1 L1351.1,493.2 L1351.5,500.3 M519.2,110.8 L526.3,110.4 L533.3,111.4 L540.3,110.0 L547.4,110.8 L554.4,111.4 L561.4,110.3 L568.4,111.9 L575.5,111.6 L582.5,111.0 L589.5,112.3 L596.6,110.9 L603.6,111.0 L610.6,111.6 L617.6,110.0 L624.7,111.0 L631.7,110.9 L638.7,110.0 L645.8,111.7 L652.8,111.0 L659.8,111.1 L666.8,112.3 L673.9,110.9 L680.9,111.6 L687.9,111.8 L694.9,110.3 L702.0,111.4 L709.0,110.6 L716.0,110.1 L723.1,111.5 L730.1,110.3 L737.1,111.0 L744.1,112.0 L751.2,110.7 L758.2,112.0 L765.2,111.8 L772.3,110.7 L779.3,112.0 L786.3,110.6 L793.3,110.4 L800.4,111.4 L807.4,109.9 L814.4,111.0 L821.5,111.4 L828.5,110.4 L835.5,112.0 L842.5,111.4 L849.6,111.1 L856.6,112.3 L863.6,110.8 L870.6,111.1 L877.7,111.5 L884.7,109.9 L891.7,111.1 L899.3,110.7 L906.8,110.4 L914.3,111.9 L921.8,110.6 L929.4,111.9 L936.5,110.3 L943.6,108.0 L950.9,109.7 L958.2,108.7 L965.4,109.3 L972.7,110.2 L980.0,109.1 L987.2,110.9 L994.5,110.9 L1001.8,111.0 L1008.8,113.0 L1015.9,112.3 L1022.9,113.3 L1029.9,114.4 L1037.0,113.3 L1044.0,114.7 L1051.0,114.7 L1058.0,114.0 L1065.0,115.8 L1072.0,115.1 L1079.1,115.6 L1086.6,117.2 L1094.1,116.2 L1101.6,118.1 L1109.1,118.0 L1116.6,118.0 L1124.1,119.4 L1131.6,118.0 L1139.1,119.2 L1146.6,118.9 L1154.0,118.5 L1161.5,120.2 L1169.0,119.1 L1176.5,122.8 L1184.0,125.0 L1191.6,127.0 L1199.2,130.7 L1207.0,131.4 L1215.8,137.8 L1224.6,141.6 L1226.4,148.9 L1227.7,156.5 L1230.2,164.5 L1233.2,172.6 L1235.2,180.8 L1236.9,188.5 L1238.2,195.8 L1239.8,203.0 L1240.5,210.2 L1240.9,217.3 L1242.1,224.5 L1243.8,231.6 L1246.9,238.6 L1249.6,246.5 L1253.1,254.8 L1257.1,262.6 L1261.3,268.8 L1265.1,275.3 L1269.6,283.2 L1274.7,291.3 L1280.8,295.7 L1286.4,300.5 L1291.8,307.0 L1297.7,311.6 L1304.0,316.1 L1310.4,322.7 L1316.2,328.1 L1321.6,332.2 L1324.6,338.6 L1328.4,345.7 L1332.2,352.5 L1335.4,358.4 L1336.5,365.4 L1338.3,372.4 L1340.8,379.5 L1342.5,386.9 L1343.6,394.5 L1343.9,402.1 L1344.8,409.6 L1344.9,417.1 L1344.5,424.6 L1344.7,432.1 L1345.6,439.6 L1345.8,447.2 L1345.3,454.7 L1345.6,462.2 L1346.5,469.7 L1346.7,477.3 L1346.2,484.8 L1346.4,492.3 L1347.3,499.8 M526.9,117.5 L533.9,117.4 L541.0,116.8 L548.0,118.4 L555.1,117.2 L562.2,117.3 L569.2,118.0 L576.3,116.3 L583.3,117.2 L590.4,117.0 L597.4,115.9 L604.5,117.5 L611.5,116.6 L618.6,116.8 L625.6,118.1 L632.7,116.9 L639.7,117.8 L646.8,118.0 L653.8,116.7 L660.9,117.9 L667.9,116.9 L675.0,116.3 L682.0,117.5 L689.1,116.1 L696.1,116.8 L703.2,117.6 L710.2,116.4 L717.3,118.0 L724.3,117.7 L731.4,117.0 L738.4,118.3 L745.5,116.9 L752.6,116.9 L759.6,117.6 L766.7,116.0 L773.7,117.0 L780.8,117.0 L787.8,116.1 L794.9,117.8 L801.9,117.1 L809.0,117.2 L816.0,118.4 L823.1,116.9 L830.1,117.6 L837.2,117.7 L844.2,116.2 L851.3,117.4 L858.3,116.6 L865.4,116.2 L872.4,117.6 L879.5,116.4 L886.5,117.2 L893.6,118.0 L901.0,116.8 L908.4,118.3 L915.8,117.4 L923.2,117.0 L930.6,117.8 L937.9,114.7 L945.2,114.2 L952.3,114.6 L959.3,114.1 L966.4,116.2 L973.5,115.8 L980.6,116.4 L987.7,118.0 L994.8,117.0 L1001.8,118.3 L1009.4,118.6 L1017.0,117.9 L1024.5,119.6 L1032.1,118.4 L1039.7,119.7 L1047.2,120.3 L1054.8,120.0 L1062.4,122.2 L1070.0,121.4 L1077.5,123.0 L1084.9,123.4 L1092.3,122.6 L1099.7,124.2 L1107.1,123.0 L1114.5,123.5 L1121.9,124.3 L1129.3,123.2 L1136.8,125.1 L1144.2,124.7 L1151.6,125.2 L1159.0,126.8 L1166.4,125.7 L1174.2,129.4 L1182.0,131.0 L1189.8,132.7 L1197.6,135.9 L1205.3,136.4 L1213.4,142.7 L1221.2,146.7 L1222.8,154.0 L1225.3,161.6 L1227.9,169.5 L1229.5,177.6 L1231.6,185.8 L1234.5,193.6 L1235.7,200.9 L1236.1,208.1 L1236.8,215.2 L1238.3,222.3 L1239.7,229.3 L1240.1,236.4 L1243.0,243.3 L1246.8,251.1 L1250.5,259.3 L1253.3,267.0 L1257.2,273.3 L1261.9,279.4 L1266.8,286.8 L1271.0,294.6 L1276.3,299.0 L1282.0,303.0 L1288.1,309.1 L1294.4,314.1 L1300.4,318.2 L1305.8,324.5 L1311.2,330.7 L1317.0,335.0 L1320.8,341.1 L1324.4,348.0 L1327.3,355.0 L1330.1,361.5 L1332.0,368.6 L1334.4,375.5 L1336.0,382.4 L1337.1,389.4 L1339.0,396.7 L1339.8,404.0 L1340.0,411.4 L1339.5,418.8 L1339.8,426.2 L1340.6,433.5 L1340.9,440.9 L1340.4,448.3 L1340.6,455.7 L1341.4,463.1 L1341.7,470.5 L1341.3,477.9 L1341.4,485.2 L1342.2,492.6 L1342.6,500.0 M534.9,122.8 L542.0,123.5 L549.1,123.4 L556.2,122.1 L563.2,123.4 L570.3,122.5 L577.4,122.4 L584.5,123.8 L591.6,122.6 L598.6,123.6 L605.7,124.1 L612.8,122.9 L619.9,124.2 L626.9,123.4 L634.0,122.6 L641.1,123.8 L648.2,122.2 L655.2,122.7 L662.3,123.4 L669.4,122.1 L676.5,123.7 L683.5,123.5 L690.6,122.9 L697.7,124.5 L704.8,123.2 L711.9,123.4 L718.9,124.0 L726.0,122.3 L733.1,123.3 L740.2,123.0 L747.2,122.0 L754.3,123.6 L761.4,122.7 L768.5,123.0 L775.5,124.2 L782.6,122.9 L789.7,124.0 L796.8,123.9 L803.9,122.7 L810.9,123.9 L818.0,122.7 L825.1,122.4 L832.2,123.5 L839.2,122.1 L846.3,123.1 L853.4,123.6 L860.5,122.6 L867.5,124.2 L874.6,123.6 L881.7,123.1 L888.8,124.3 L895.8,122.7 L903.1,123.1 L910.4,123.3 L917.7,121.9 L925.0,123.4 L932.3,122.6 L939.2,121.2 L946.1,121.3 L953.2,120.5 L960.2,121.9 L967.2,122.7 L974.3,121.7 L981.3,123.3 L988.4,122.9 L995.4,122.4 L1002.5,124.0 L1010.0,123.1 L1017.5,124.2 L1025.1,125.2 L1032.6,124.8 L1040.1,127.0 L1047.6,126.4 L1055.2,127.3 L1062.7,128.3 L1070.2,127.2 L1077.7,128.9 L1085.0,128.1 L1092.3,128.1 L1099.6,129.4 L1106.9,128.3 L1114.2,129.9 L1121.5,130.4 L1128.8,130.0 L1136.1,131.9 L1143.4,131.0 L1150.7,131.7 L1158.0,132.5 L1165.3,131.2 L1172.7,134.6 L1180.1,135.9 L1187.4,137.9 L1194.6,141.3 L1201.9,142.2 L1209.9,148.8 L1218.3,153.1 L1220.8,160.2 L1222.4,167.7 L1224.0,175.4 L1226.5,183.4 L1229.4,191.4 L1231.4,199.1 L1231.7,206.2 L1232.9,213.3 L1234.5,220.3 L1235.4,227.2 L1235.7,234.1 L1236.7,241.1 L1240.6,247.6 L1243.8,254.9 L1246.4,262.8 L1249.5,270.4 L1254.4,276.6 L1259.0,282.3 L1262.8,289.2 L1266.6,297.0 L1272.6,301.7 L1278.9,305.6 L1284.8,311.7 L1290.3,317.4 L1295.6,321.7 L1301.1,327.5 L1307.2,334.2 L1313.4,338.7 L1317.6,346.2 L1321.2,355.1 L1325.8,364.0 L1328.1,371.2 L1329.6,378.1 L1330.7,384.8 L1332.6,391.5 L1334.9,398.3 L1335.0,405.5 L1334.6,412.7 L1334.8,419.9 L1335.7,427.1 L1335.9,434.3 L1335.5,441.5 L1335.6,448.8 L1336.4,456.0 L1336.8,463.2 L1336.4,470.5 L1336.4,477.7 L1337.2,484.9 L1337.7,492.2 L1337.3,499.4 M543.6,129.6 L550.7,128.4 L557.8,129.1 L564.9,130.0 L572.0,128.8 L579.1,130.2 L586.2,129.8 L593.3,129.0 L600.4,130.2 L607.5,128.7 L614.6,128.8 L621.7,129.4 L628.8,128.0 L635.9,129.3 L643.0,129.2 L650.1,128.6 L657.2,130.3 L664.3,129.2 L671.4,129.5 L678.5,130.3 L685.6,128.7 L692.7,129.6 L699.8,129.3 L706.9,128.1 L714.0,129.5 L721.1,128.5 L728.2,128.7 L735.3,129.9 L742.4,128.7 L749.6,129.9 L756.7,130.0 L763.8,129.0 L770.9,130.3 L778.0,129.1 L785.1,128.8 L792.2,129.7 L799.3,128.1 L806.4,129.0 L813.5,129.3 L820.6,128.3 L827.7,130.0 L834.8,129.3 L841.9,129.3 L849.0,130.5 L856.1,129.0 L863.2,129.6 L870.3,129.7 L877.4,128.2 L884.5,129.5 L891.6,128.6 L898.7,128.3 L905.9,129.8 L913.1,128.5 L920.2,129.6 L927.4,130.1 L934.6,128.9 L941.5,128.9 L948.5,126.8 L962.3,128.1 L970.5,126.8 L978.8,128.3 L987.0,128.2 L995.3,128.8 L1003.6,130.2 L1010.9,129.6 L1018.2,131.7 L1025.5,131.2 L1032.8,131.7 L1040.2,132.9 L1047.5,131.6 L1054.8,133.1 L1062.1,132.9 L1069.4,132.7 L1076.7,134.6 L1083.9,133.6 L1091.0,134.9 L1098.2,135.8 L1105.3,135.1 L1112.4,136.9 L1119.6,136.3 L1126.7,136.2 L1133.9,137.5 L1141.0,136.1 L1148.1,137.1 L1155.3,137.5 L1162.4,136.7 L1169.7,140.5 L1177.1,141.9 L1184.5,144.4 L1192.1,147.8 L1199.7,148.6 L1208.1,154.9 L1216.0,158.6 L1217.2,165.6 L1218.9,172.8 L1221.7,180.2 L1224.2,188.0 L1225.7,195.8 L1227.7,203.3 L1229.2,210.3 L1230.5,217.3 L1230.9,224.2 L1231.5,231.0 L1232.9,237.8 L1234.3,244.6 L1237.1,250.9 L1239.7,258.0 L1243.2,265.8 L1247.0,273.5 L1251.1,279.9 L1254.7,285.7 L1258.8,292.4 L1263.7,300.3 L1269.6,305.6 L1275.1,309.5 L1280.3,315.1 L1285.6,321.1 L1291.5,325.3 L1297.6,330.2 L1303.5,336.7 L1308.8,341.4 L1312.4,348.3 L1317.0,356.4 L1321.8,365.3 L1323.1,372.5 L1324.3,379.6 L1326.2,386.4 L1328.5,393.0 L1330.0,399.6 L1329.6,406.7 L1329.9,413.8 L1330.8,420.8 L1331.0,427.9 L1330.5,435.0 L1330.6,442.0 L1331.5,449.1 L1331.9,456.2 L1331.5,463.3 L1331.4,470.4 L1332.1,477.5 L1332.7,484.6 L1332.4,491.7 L1332.2,498.8 M550.8,135.0 L558.0,136.5 L565.1,135.3 L572.2,135.0 L579.3,135.9 L586.5,134.2 L593.6,135.1 L600.7,135.1 L607.9,134.2 L615.0,135.9 L622.1,135.1 L629.2,135.3 L636.4,136.5 L643.5,135.0 L650.6,135.9 L657.8,135.8 L664.9,134.5 L672.0,135.7 L679.1,134.6 L686.3,134.5 L693.4,135.6 L700.5,134.4 L707.7,135.6 L714.8,135.9 L721.9,134.9 L729.1,136.5 L736.2,135.5 L743.3,135.2 L750.4,136.1 L757.6,134.4 L764.7,135.1 L771.8,135.2 L779.0,134.1 L786.1,135.7 L793.2,135.0 L800.3,135.1 L807.5,136.4 L814.6,135.1 L821.7,136.0 L828.9,136.0 L836.0,134.6 L843.1,135.9 L850.2,134.8 L857.4,134.4 L864.5,135.6 L871.6,134.2 L878.8,135.3 L885.9,135.8 L893.0,134.8 L900.2,136.4 L907.2,135.6 L914.3,135.2 L921.3,136.3 L928.4,134.6 L935.4,135.1 L949.1,131.3 L962.6,133.5 L970.7,133.3 L978.9,135.4 L987.0,134.5 L995.2,136.4 L1003.3,135.7 L1010.6,136.2 L1017.8,137.3 L1025.1,136.0 L1032.4,137.6 L1039.6,137.6 L1046.9,137.4 L1054.2,139.4 L1061.4,138.7 L1068.7,140.0 L1076.0,141.1 L1083.1,140.2 L1090.1,141.8 L1097.2,141.4 L1104.3,140.8 L1111.4,142.3 L1118.5,141.1 L1125.6,141.7 L1132.6,142.8 L1139.7,141.8 L1146.8,143.5 L1153.9,143.8 L1161.0,143.4 L1168.4,147.2 L1175.7,148.2 L1183.0,150.5 L1190.2,153.3 L1197.3,153.8 L1204.7,159.7 L1212.3,163.5 L1214.5,170.4 L1216.9,177.4 L1218.7,184.8 L1220.3,192.5 L1222.7,200.3 L1225.5,207.9 L1226.3,214.9 L1226.6,221.8 L1227.5,228.6 L1229.1,235.4 L1230.2,242.2 L1230.5,248.9 L1233.3,255.2 L1237.0,262.3 L1240.5,270.0 L1243.2,277.7 L1246.9,284.4 L1251.3,290.1 L1256.1,296.4 L1260.2,304.0 L1265.3,309.4 L1270.5,312.9 L1276.2,317.7 L1282.2,323.6 L1288.1,327.9 L1293.5,332.1 L1298.6,338.3 L1303.8,343.8 L1308.4,350.6 L1313.1,358.2 L1316.7,367.0 L1317.9,374.4 L1320.0,381.7 L1322.2,388.7 L1323.6,395.5 L1324.6,402.2 L1325.0,409.1 L1325.9,416.1 L1326.0,423.0 L1325.6,430.0 L1325.7,436.9 L1326.5,443.9 L1326.9,450.8 L1326.5,457.8 L1326.4,464.8 L1327.1,471.7 L1327.8,478.7 L1327.5,485.6 L1327.2,492.6 L1327.7,499.6 M559.8,141.5 L566.8,140.1 L573.8,141.4 L580.9,141.1 L587.9,140.6 L594.9,142.3 L601.9,141.3 L608.9,141.6 L615.9,142.5 L622.9,140.9 L629.9,141.8 L636.9,141.6 L644.0,140.3 L651.0,141.6 L658.0,140.7 L665.0,140.5 L672.0,141.9 L679.0,140.7 L686.0,141.6 L693.0,142.3 L700.0,141.0 L707.1,142.3 L714.1,141.7 L721.1,140.7 L728.1,141.9 L735.1,140.5 L742.1,140.6 L749.1,141.6 L756.1,140.2 L763.1,141.5 L770.2,141.8 L777.2,140.9 L784.2,142.5 L791.2,141.6 L798.2,141.3 L805.2,142.3 L812.2,140.7 L819.2,141.1 L826.2,141.5 L833.3,140.1 L840.3,141.4 L847.3,141.2 L854.3,140.6 L861.3,142.3 L868.3,141.3 L875.3,141.6 L882.3,142.5 L889.3,140.9 L896.4,141.7 L903.4,141.6 L912.0,140.4 L920.7,141.5 L929.4,140.1 L938.1,141.9 L951.2,138.7 L964.7,139.4 L972.7,140.8 L980.7,140.7 L988.8,140.4 L996.8,141.7 L1004.8,140.5 L1012.0,142.3 L1019.1,142.2 L1026.2,142.3 L1033.4,144.4 L1040.5,143.7 L1047.6,144.8 L1054.7,145.9 L1061.8,144.9 L1068.9,146.5 L1076.0,146.2 L1083.6,145.7 L1091.1,147.1 L1098.7,145.9 L1106.2,147.4 L1113.7,147.6 L1121.3,147.5 L1128.8,149.5 L1136.4,148.4 L1143.9,149.9 L1151.4,149.9 L1159.0,149.3 L1165.9,152.6 L1172.8,153.2 L1179.8,155.6 L1186.8,158.4 L1194.0,159.2 L1202.1,165.5 L1210.2,169.6 L1212.0,176.4 L1213.2,183.4 L1215.2,190.7 L1217.9,198.3 L1220.3,206.0 L1221.9,213.5 L1222.7,221.7 L1224.5,229.9 L1225.7,238.0 L1226.0,246.0 L1227.3,253.9 L1231.0,260.0 L1234.0,266.7 L1236.5,274.0 L1239.4,281.5 L1244.0,288.1 L1248.5,293.5 L1252.2,299.3 L1255.7,306.4 L1261.3,311.9 L1267.2,315.5 L1273.0,319.8 L1278.5,325.8 L1283.5,330.9 L1288.5,334.9 L1294.0,340.9 L1299.9,347.1 L1304.4,354.2 L1308.0,361.3 L1311.7,369.5 L1313.9,376.7 L1315.9,384.0 L1317.1,391.1 L1318.2,398.1 L1320.2,404.7 L1321.0,412.1 L1321.0,419.5 L1320.6,426.9 L1321.0,434.2 L1321.8,441.6 L1321.8,449.0 L1321.4,456.3 L1321.8,463.7 L1322.7,471.1 L1322.7,478.4 L1322.3,485.8 L1322.6,493.1 L1323.5,500.5 M567.3,147.4 L574.3,148.5 L581.3,147.1 L588.4,148.1 L595.4,148.0 L602.4,146.7 L609.5,147.9 L616.5,146.8 L623.6,146.5 L630.6,147.7 L637.6,146.4 L644.7,147.3 L651.7,148.0 L658.7,146.9 L665.8,148.4 L672.8,147.9 L679.8,147.1 L686.9,148.4 L693.9,146.8 L701.0,147.0 L708.0,147.6 L715.0,146.1 L722.1,147.4 L729.1,147.4 L736.1,146.6 L743.2,148.3 L750.2,147.5 L757.3,147.5 L764.3,148.6 L771.3,147.0 L778.4,147.7 L785.4,147.7 L792.4,146.2 L799.5,147.5 L806.5,146.8 L813.5,146.5 L820.6,148.0 L827.6,146.9 L834.7,147.7 L841.7,148.4 L848.7,147.1 L855.8,148.3 L862.8,147.7 L869.8,146.7 L876.9,147.9 L883.9,146.6 L890.9,146.7 L898.0,147.7 L905.0,146.4 L913.5,148.0 L922.1,147.2 L930.6,148.0 L939.1,147.9 L952.5,145.6 L965.6,144.8 L973.4,146.4 L981.2,145.3 L989.1,147.0 L996.9,147.1 L1004.7,147.6 L1011.7,149.3 L1018.7,148.4 L1025.6,149.7 L1032.6,150.4 L1039.6,149.4 L1046.6,151.0 L1053.5,150.6 L1060.5,150.3 L1067.5,152.0 L1074.5,151.2 L1082.0,152.1 L1089.4,153.2 L1096.8,152.5 L1104.3,154.5 L1111.7,153.9 L1119.2,154.2 L1126.6,155.3 L1134.1,153.9 L1141.5,155.3 L1149.0,154.8 L1156.4,154.7 L1163.6,158.1 L1170.8,158.9 L1178.0,161.9 L1185.2,164.8 L1192.3,165.7 L1199.8,171.8 L1207.0,175.6 L1208.3,182.2 L1210.5,189.0 L1213.1,196.0 L1214.9,203.3 L1216.4,210.7 L1218.7,218.0 L1220.5,226.2 L1221.2,234.2 L1221.7,242.1 L1223.2,249.9 L1224.8,257.7 L1227.4,263.5 L1229.9,269.9 L1233.2,276.9 L1236.8,284.3 L1240.8,291.0 L1244.2,296.6 L1248.1,302.2 L1252.6,309.1 L1258.3,315.0 L1263.7,319.1 L1268.7,323.2 L1273.7,329.2 L1279.0,334.7 L1284.7,338.6 L1290.5,343.8 L1295.9,350.0 L1299.3,357.3 L1303.1,363.8 L1307.8,371.1 L1310.0,379.8 L1311.2,388.6 L1313.4,397.4 L1316.1,405.9 L1316.0,413.2 L1315.6,420.5 L1316.0,427.8 L1316.9,435.0 L1316.9,442.3 L1316.5,449.6 L1316.8,456.8 L1317.7,464.1 L1317.8,471.3 L1317.4,478.6 L1317.6,485.8 L1318.5,493.1 L1318.7,500.3 M575.6,153.3 L582.6,152.7 L589.7,153.8 L596.8,152.3 L603.8,153.0 L610.9,153.7 L617.9,152.6 L625.0,154.2 L632.1,153.9 L639.1,153.3 L646.2,154.7 L653.3,153.3 L660.3,153.4 L667.4,153.9 L674.5,152.3 L681.5,153.4 L688.6,153.2 L695.6,152.4 L702.7,154.0 L709.8,153.2 L716.8,153.4 L723.9,154.6 L731.0,153.2 L738.0,154.1 L745.1,154.0 L752.1,152.6 L759.2,153.9 L766.3,152.8 L773.3,152.5 L780.4,153.8 L787.5,152.5 L794.5,153.5 L801.6,154.1 L808.6,153.0 L815.7,154.5 L822.8,153.9 L829.8,153.2 L836.9,154.3 L844.0,152.8 L851.0,153.0 L858.1,153.6 L865.2,152.2 L872.2,153.5 L879.3,153.4 L886.3,152.8 L893.4,154.5 L900.5,153.5 L907.5,153.7 L915.9,154.3 L924.3,152.9 L932.7,154.1 L941.1,152.3 L953.7,150.9 L966.7,151.9 L974.5,152.3 L982.3,152.3 L990.0,154.2 L997.8,153.1 L1005.6,154.7 L1013.3,154.4 L1021.0,154.2 L1028.7,155.6 L1036.4,154.5 L1044.1,156.3 L1051.7,156.3 L1059.4,156.6 L1067.1,158.5 L1074.8,157.7 L1082.1,159.3 L1089.4,159.2 L1096.8,158.7 L1104.1,160.2 L1111.4,158.8 L1118.7,159.7 L1126.0,160.2 L1133.4,159.3 L1140.7,161.3 L1148.0,160.8 L1155.3,161.4 L1162.1,164.7 L1168.9,165.4 L1175.5,168.3 L1182.2,170.6 L1188.9,171.2 L1196.2,176.9 L1203.9,180.5 L1206.3,186.9 L1208.0,193.5 L1209.4,200.4 L1211.3,207.6 L1214.0,214.9 L1216.3,222.2 L1216.8,230.2 L1217.6,238.2 L1219.3,246.0 L1220.5,253.8 L1220.9,261.5 L1223.7,267.4 L1227.3,273.7 L1230.6,280.7 L1233.1,288.1 L1236.6,295.0 L1240.7,300.8 L1245.3,306.4 L1249.3,312.9 L1254.2,318.9 L1259.1,323.1 L1264.3,326.7 L1269.9,332.0 L1275.6,337.6 L1281.1,341.3 L1286.0,345.6 L1290.8,351.6 L1294.7,359.2 L1299.3,365.8 L1303.4,372.6 L1304.6,380.9 L1306.7,389.5 L1309.4,398.3 L1311.0,407.0 L1310.6,414.2 L1311.1,421.4 L1311.9,428.6 L1312.0,435.8 L1311.5,443.0 L1311.8,450.2 L1312.7,457.4 L1312.9,464.6 L1312.4,471.7 L1312.6,478.9 L1313.4,486.1 L1313.8,493.2 L1313.4,500.4 M584.0,159.7 L591.1,159.7 L598.2,159.1 L605.3,160.7 L612.3,159.6 L619.4,159.6 L626.5,160.4 L633.6,158.7 L640.7,159.6 L647.8,159.4 L654.9,158.2 L662.0,159.8 L669.1,158.9 L676.2,159.1 L683.3,160.4 L690.3,159.1 L697.4,160.2 L704.5,160.3 L711.6,159.0 L718.7,160.3 L725.8,159.2 L732.9,158.7 L740.0,159.8 L747.1,158.3 L754.2,159.2 L761.3,159.8 L768.3,158.7 L775.4,160.4 L782.5,159.8 L789.6,159.4 L796.7,160.7 L803.8,159.1 L810.9,159.5 L818.0,159.8 L825.1,158.3 L832.2,159.5 L839.2,159.1 L846.3,158.6 L853.4,160.2 L860.5,159.1 L867.6,159.8 L874.7,160.6 L881.8,159.1 L888.9,160.3 L896.0,159.7 L903.1,158.7 L910.2,159.9 L918.4,158.3 L926.6,159.4 L934.9,159.1 L943.1,159.2 L955.9,156.8 L968.6,159.0 L976.2,157.8 L983.7,159.1 L991.3,159.0 L998.9,158.6 L1006.4,160.2 L1013.9,159.2 L1021.4,160.8 L1028.9,161.4 L1036.3,161.3 L1043.8,163.4 L1051.3,162.5 L1058.7,163.8 L1066.2,164.2 L1073.6,163.4 L1080.8,164.9 L1088.0,163.9 L1095.1,164.3 L1102.3,165.5 L1109.4,164.5 L1116.6,166.2 L1123.7,166.5 L1130.9,166.2 L1138.1,168.0 L1145.2,167.1 L1152.4,167.7 L1159.1,170.3 L1165.9,170.7 L1172.7,173.4 L1179.7,175.6 L1186.6,176.3 L1194.4,182.2 L1201.8,186.1 L1204.2,199.1 L1206.7,205.9 L1209.2,213.1 L1211.0,220.4 L1212.4,227.6 L1213.6,235.6 L1215.3,243.4 L1216.1,251.2 L1216.5,258.9 L1217.9,266.5 L1221.4,272.3 L1224.2,278.4 L1226.5,285.1 L1229.3,292.3 L1233.7,299.1 L1238.0,304.8 L1241.5,310.0 L1244.9,315.9 L1251.8,323.2 L1259.3,328.0 L1266.5,333.8 L1271.5,339.7 L1276.2,343.9 L1281.1,347.9 L1286.5,353.7 L1291.0,361.9 L1294.8,369.0 L1298.0,375.5 L1300.1,383.5 L1302.7,391.7 L1304.4,400.3 L1305.7,408.9 L1306.2,416.0 L1307.0,423.1 L1307.0,430.2 L1306.6,437.3 L1306.9,444.4 L1307.7,451.5 L1307.9,458.6 L1307.5,465.7 L1307.6,472.8 L1308.4,479.8 L1308.8,486.9 L1308.5,494.0 L1308.3,501.1 M591.4,165.2 L598.5,165.8 L605.6,165.9 L612.7,164.4 L619.8,165.7 L626.9,164.9 L634.1,164.7 L641.2,166.1 L648.3,164.9 L655.4,165.9 L662.5,166.4 L669.7,165.2 L676.8,166.6 L683.9,165.7 L691.0,165.0 L698.1,166.1 L705.3,164.5 L712.4,165.1 L719.5,165.6 L726.6,164.4 L733.7,166.0 L740.9,165.6 L748.0,165.3 L755.1,166.8 L762.2,165.4 L769.3,165.9 L776.5,166.2 L783.6,164.6 L790.7,165.8 L797.8,165.0 L804.9,164.5 L812.1,165.9 L819.2,164.8 L826.3,165.6 L833.4,166.4 L840.5,165.1 L847.7,166.5 L854.8,165.9 L861.9,165.1 L869.0,166.3 L876.1,164.7 L883.3,165.0 L890.4,165.6 L897.5,164.3 L904.6,165.7 L911.7,165.5 L919.8,165.3 L927.9,166.6 L936.0,165.2 L944.1,166.6 L956.5,162.4 L969.0,163.5 L976.4,163.3 L983.9,165.0 L991.4,164.1 L998.9,165.7 L1006.4,166.3 L1013.8,166.1 L1021.2,168.1 L1028.6,167.2 L1036.0,168.1 L1043.4,168.8 L1050.8,167.7 L1058.2,169.4 L1065.7,168.8 L1073.1,169.3 L1080.2,170.7 L1087.2,169.8 L1094.3,171.3 L1101.4,171.9 L1108.5,171.2 L1115.6,173.0 L1122.7,172.3 L1129.8,172.1 L1136.8,173.4 L1143.9,172.1 L1151.0,173.0 L1159.5,175.6 L1167.9,177.4 L1176.1,181.4 L1184.3,182.6 L1191.1,188.7 L1198.0,192.4 L1202.1,205.1 L1204.6,213.9 L1206.6,223.2 L1209.8,232.7 L1211.2,240.4 L1211.7,248.2 L1212.4,255.8 L1214.0,263.3 L1215.3,270.7 L1218.5,278.2 L1222.2,286.2 L1226.7,295.2 L1230.5,302.0 L1233.8,307.7 L1237.3,312.8 L1241.5,318.4 L1248.8,325.7 L1255.6,331.2 L1261.9,336.7 L1268.3,344.7 L1275.5,350.1 L1282.8,356.6 L1286.4,364.8 L1289.6,372.2 L1293.6,378.6 L1296.2,386.1 L1297.8,393.8 L1299.1,401.8 L1301.4,410.1 L1302.1,417.6 L1301.9,425.2 L1301.6,432.7 L1302.3,440.2 L1303.0,447.8 L1302.8,455.3 L1302.5,462.9 L1303.1,470.4 L1303.9,478.0 L1303.6,485.5 L1303.3,493.0 L1304.0,500.6 M600.4,171.9 L607.5,170.7 L614.7,171.3 L621.8,172.3 L629.0,171.1 L636.1,172.5 L643.3,172.1 L650.4,171.3 L657.6,172.5 L664.7,171.0 L671.9,171.2 L679.0,171.7 L686.2,170.3 L693.3,171.7 L700.5,171.4 L707.6,170.9 L714.8,172.6 L721.9,171.5 L729.1,172.0 L736.2,172.6 L743.4,171.0 L750.5,172.1 L757.7,171.4 L764.8,170.6 L772.0,171.9 L779.1,170.6 L786.3,171.2 L793.4,172.1 L800.6,170.9 L807.7,172.4 L814.9,172.1 L822.0,171.4 L829.2,172.7 L836.3,171.1 L843.5,171.4 L850.6,171.8 L857.8,170.3 L864.9,171.6 L872.1,171.2 L879.2,170.8 L886.4,172.4 L893.5,171.3 L900.7,172.0 L907.8,172.6 L915.0,171.2 L922.9,172.4 L930.9,171.1 L938.8,171.2 L946.7,171.5 L958.9,169.0 L971.1,169.1 L978.5,170.9 L985.8,171.3 L993.2,171.0 L1000.5,172.8 L1007.9,171.7 L1015.1,172.5 L1022.4,173.2 L1029.6,172.1 L1036.8,173.9 L1044.1,173.6 L1051.3,173.9 L1058.5,175.7 L1065.7,175.0 L1073.0,176.6 L1080.6,177.0 L1088.2,176.4 L1095.8,178.0 L1103.3,176.7 L1110.9,177.7 L1118.5,177.8 L1126.1,177.1 L1133.7,178.9 L1141.3,178.0 L1148.9,179.5 L1156.8,182.0 L1164.7,184.1 L1172.8,187.7 L1180.9,188.6 L1188.3,194.1 L1195.8,197.5 L1198.8,209.8 L1201.0,218.3 L1204.3,227.4 L1207.0,236.7 L1207.3,244.3 L1208.4,251.9 L1210.1,259.5 L1211.0,266.9 L1211.3,274.2 L1215.2,281.7 L1219.7,289.5 L1223.0,298.4 L1226.3,305.3 L1230.1,311.4 L1234.4,316.6 L1238.4,322.1 L1244.7,329.4 L1250.9,335.3 L1257.6,340.1 L1264.9,347.7 L1271.8,353.3 L1278.0,358.6 L1281.3,366.5 L1285.4,374.0 L1289.7,380.5 L1291.2,387.8 L1292.5,395.2 L1294.8,402.7 L1297.2,410.6 L1297.0,418.0 L1296.7,425.4 L1297.3,432.8 L1298.0,440.1 L1297.9,447.5 L1297.5,454.9 L1298.1,462.3 L1298.9,469.7 L1298.7,477.1 L1298.4,484.5 L1298.9,491.9 L1299.7,499.3 M607.7,177.3 L614.7,178.7 L621.7,177.8 L628.7,177.3 L635.7,178.3 L642.8,176.7 L649.8,177.2 L656.8,177.7 L663.8,176.4 L670.8,177.9 L677.8,177.7 L684.9,177.2 L691.9,178.8 L698.9,177.7 L705.9,177.8 L712.9,178.6 L720.0,176.9 L727.0,177.7 L734.0,177.6 L741.0,176.4 L748.0,177.8 L755.0,177.1 L762.1,177.0 L769.1,178.5 L776.1,177.3 L783.1,178.1 L790.1,178.6 L797.2,177.2 L804.2,178.3 L811.2,177.6 L818.2,176.7 L825.2,178.0 L832.2,176.7 L839.3,177.0 L846.3,178.1 L853.3,176.8 L860.3,178.1 L867.3,178.3 L874.4,177.3 L881.4,178.8 L888.4,177.7 L895.4,177.3 L902.4,178.3 L909.4,176.6 L916.5,177.2 L924.3,177.5 L932.1,176.6 L939.9,178.3 L947.7,177.1 L959.9,176.4 L971.8,176.0 L979.0,177.4 L986.1,176.1 L993.3,177.2 L1000.5,177.6 L1007.6,176.8 L1014.7,178.7 L1021.8,178.3 L1028.9,178.9 L1036.0,180.7 L1043.1,179.8 L1050.2,181.3 L1057.3,181.9 L1064.4,181.0 L1071.5,182.7 L1079.0,181.8 L1086.5,182.0 L1094.0,183.1 L1101.5,181.9 L1109.0,183.8 L1116.5,183.6 L1124.0,183.9 L1131.5,185.6 L1139.0,184.5 L1146.5,186.0 L1154.7,187.7 L1162.9,189.6 L1171.1,192.7 L1179.3,193.5 L1186.2,199.1 L1192.8,202.7 L1195.7,214.9 L1198.9,223.4 L1201.1,232.4 L1203.1,241.6 L1204.6,249.2 L1206.1,256.8 L1206.6,264.3 L1207.1,271.6 L1208.5,278.9 L1212.7,286.4 L1215.8,294.1 L1219.2,302.7 L1224.7,311.7 L1229.8,319.2 L1234.1,325.9 L1240.4,332.4 L1247.4,338.4 L1254.4,342.5 L1260.9,349.6 L1266.8,355.6 L1273.1,360.5 L1277.3,368.0 L1281.4,375.9 L1284.7,383.0 L1286.0,390.3 L1288.3,397.6 L1290.6,404.9 L1292.0,412.4 L1291.7,419.6 L1292.4,426.9 L1293.1,434.1 L1292.9,441.3 L1292.6,448.5 L1293.1,455.8 L1293.9,463.0 L1293.8,470.3 L1293.4,477.5 L1293.8,484.8 L1294.7,492.0 L1294.8,499.3 M616.2,183.9 L623.2,182.4 L630.3,183.7 L637.3,183.4 L644.4,182.9 L651.4,184.5 L658.5,183.6 L665.5,183.9 L672.6,184.8 L679.6,183.3 L686.7,184.1 L693.7,183.9 L700.8,182.6 L707.8,183.9 L714.9,182.9 L721.9,182.8 L729.0,184.2 L736.0,183.0 L743.0,184.0 L750.1,184.5 L757.1,183.3 L764.2,184.7 L771.2,183.9 L778.3,183.2 L785.3,184.3 L792.4,182.8 L799.4,183.1 L806.5,183.8 L813.5,182.5 L820.6,184.0 L827.6,183.9 L834.7,183.3 L841.7,184.9 L848.7,183.7 L855.8,183.8 L862.8,184.6 L869.9,182.9 L876.9,183.7 L884.0,183.6 L891.0,182.4 L898.1,183.9 L905.1,183.2 L912.2,183.2 L919.2,184.6 L926.9,183.3 L934.5,184.5 L942.2,184.2 L949.8,183.4 L961.4,181.1 L973.2,182.2 L980.3,182.0 L987.4,181.8 L994.5,183.8 L1001.6,183.1 L1008.7,184.1 L1016.6,185.4 L1024.5,184.7 L1032.4,186.7 L1040.3,185.6 L1048.2,186.6 L1056.1,186.9 L1064.0,186.3 L1071.8,188.2 L1079.2,187.2 L1086.5,188.6 L1093.9,189.3 L1101.2,188.7 L1108.6,190.7 L1115.9,189.8 L1123.3,190.3 L1130.6,191.2 L1137.9,189.8 L1145.3,191.3 L1153.0,192.7 L1160.7,195.1 L1168.3,198.4 L1175.9,199.6 L1182.5,205.4 L1189.5,209.1 L1193.5,221.0 L1195.3,229.3 L1197.6,238.1 L1200.9,247.1 L1201.9,254.5 L1202.2,261.9 L1203.1,269.2 L1204.7,276.4 L1205.8,283.6 L1208.7,290.8 L1212.3,298.0 L1216.6,306.2 L1221.3,314.8 L1225.5,322.2 L1230.4,328.6 L1237.4,334.5 L1244.0,340.9 L1250.1,345.2 L1256.0,351.9 L1262.5,358.9 L1269.4,363.7 L1273.3,370.7 L1276.3,378.5 L1279.6,386.0 L1281.9,393.5 L1284.1,400.7 L1285.4,407.8 L1286.8,414.9 L1287.5,422.0 L1288.2,429.0 L1288.0,436.1 L1287.6,443.1 L1288.1,450.2 L1288.9,457.3 L1288.9,464.3 L1288.5,471.4 L1288.8,478.5 L1289.7,485.5 L1289.9,492.6 L1289.4,499.7 M624.4,189.6 L631.4,190.8 L638.5,189.5 L645.6,190.4 L652.7,190.4 L659.8,189.0 L666.8,190.2 L673.9,189.2 L681.0,188.8 L688.1,190.0 L695.1,188.7 L702.2,189.6 L709.3,190.3 L716.4,189.2 L723.4,190.7 L730.5,190.1 L737.6,189.5 L744.7,190.7 L751.7,189.1 L758.8,189.4 L765.9,189.9 L773.0,188.4 L780.1,189.8 L787.1,189.5 L794.2,189.0 L801.3,190.7 L808.4,189.6 L815.4,190.0 L822.5,190.8 L829.6,189.2 L836.7,190.2 L843.7,189.8 L850.8,188.6 L857.9,190.0 L865.0,188.9 L872.1,189.0 L879.1,190.3 L886.2,189.0 L893.3,190.3 L900.4,190.5 L907.4,189.4 L914.5,190.8 L921.6,189.7 L929.1,189.4 L936.6,190.1 L944.1,188.5 L951.6,189.8 L963.4,186.3 L974.9,188.9 L983.5,188.2 L992.1,190.4 L1000.7,189.3 L1009.3,191.0 L1017.0,190.3 L1024.6,190.6 L1032.3,191.7 L1039.9,190.7 L1047.6,192.8 L1055.2,192.3 L1062.9,193.4 L1070.6,194.7 L1077.7,193.8 L1084.9,195.6 L1092.1,195.0 L1099.3,194.8 L1106.4,196.1 L1113.6,194.7 L1120.8,195.7 L1128.0,196.2 L1135.2,195.5 L1142.4,197.4 L1150.0,198.9 L1157.8,201.7 L1165.7,204.8 L1173.6,205.9 L1180.6,211.2 L1187.5,214.6 L1189.6,226.1 L1192.4,234.1 L1195.5,242.5 L1197.5,251.2 L1197.9,258.5 L1199.3,265.7 L1200.8,272.9 L1201.4,280.0 L1201.8,287.0 L1205.6,294.2 L1209.8,301.2 L1213.0,309.1 L1217.1,317.7 L1222.2,325.4 L1227.5,331.9 L1233.6,337.7 L1239.4,344.6 L1245.5,349.1 L1252.2,355.2 L1259.0,362.3 L1265.2,367.0 L1268.1,373.2 L1271.5,380.4 L1275.6,387.9 L1277.7,395.4 L1278.9,402.6 L1280.3,409.7 L1282.6,416.5 L1283.2,424.1 L1282.9,431.6 L1282.7,439.1 L1283.5,446.6 L1284.1,454.1 L1283.7,461.7 L1283.6,469.2 L1284.4,476.7 L1285.0,484.2 L1284.5,491.8 L1284.5,499.3 M631.9,195.8 L639.0,195.0 L646.1,196.1 L653.2,194.7 L660.3,195.3 L667.5,196.0 L674.6,194.9 L681.7,196.4 L688.8,196.2 L695.9,195.6 L703.0,197.0 L710.1,195.6 L717.2,195.8 L724.3,196.3 L731.4,194.6 L738.5,195.8 L745.6,195.4 L752.8,194.7 L759.9,196.3 L767.0,195.3 L774.1,195.9 L781.2,196.8 L788.3,195.4 L795.4,196.6 L802.5,196.2 L809.6,195.0 L816.7,196.3 L823.8,194.9 L830.9,195.0 L838.0,196.0 L845.2,194.7 L852.3,196.0 L859.4,196.2 L866.5,195.4 L873.6,197.0 L880.7,195.9 L887.8,195.8 L894.9,196.6 L902.0,194.9 L909.1,195.7 L916.2,195.6 L923.3,194.5 L930.7,196.1 L938.1,195.2 L945.4,195.7 L952.8,196.7 L964.0,193.7 L975.4,194.4 L983.9,194.7 L992.4,195.3 L1000.9,194.7 L1009.4,196.3 L1017.0,195.4 L1024.6,197.4 L1032.2,197.5 L1039.8,197.8 L1047.4,199.6 L1055.0,198.6 L1062.6,200.2 L1070.2,200.0 L1077.3,199.5 L1084.3,200.9 L1091.4,199.8 L1098.5,200.5 L1105.6,201.6 L1112.7,200.6 L1119.8,202.4 L1126.9,202.6 L1134.0,202.2 L1141.0,204.1 L1148.8,205.0 L1156.4,207.6 L1163.9,210.1 L1171.3,210.9 L1177.5,216.1 L1183.7,219.5 L1187.3,230.9 L1190.0,238.7 L1191.7,247.1 L1194.0,255.7 L1195.6,262.9 L1196.7,270.1 L1197.0,277.2 L1197.7,284.2 L1199.2,291.2 L1203.0,298.5 L1205.9,305.5 L1209.0,313.2 L1214.3,321.7 L1219.2,329.7 L1223.3,336.1 L1229.1,341.2 L1235.5,348.0 L1242.2,352.4 L1248.6,357.4 L1254.4,364.4 L1260.1,369.3 L1263.6,375.0 L1267.7,381.6 L1271.3,389.0 L1272.4,396.6 L1273.9,404.0 L1276.2,411.2 L1278.3,418.2 L1277.9,425.6 L1277.8,433.0 L1278.6,440.4 L1279.1,447.8 L1278.8,455.1 L1278.6,462.5 L1279.4,469.9 L1280.0,477.3 L1279.7,484.7 L1279.5,492.0 L1280.2,499.4 M640.9,201.9 L648.0,202.0 L655.2,201.3 L662.3,202.9 L669.4,201.9 L676.6,201.9 L683.7,202.8 L690.9,201.1 L698.0,201.9 L705.1,201.7 L712.3,200.6 L719.4,202.1 L726.6,201.1 L733.7,201.4 L740.9,202.6 L748.0,201.4 L755.1,202.6 L762.3,202.5 L769.4,201.4 L776.6,202.7 L783.7,201.3 L790.8,201.2 L798.0,202.1 L805.1,200.6 L812.3,201.7 L819.4,201.9 L826.5,201.1 L833.7,202.8 L840.8,201.9 L848.0,202.0 L855.1,202.9 L862.2,201.3 L869.4,202.1 L876.5,201.8 L883.7,200.7 L890.8,202.1 L898.0,201.0 L905.1,201.2 L912.2,202.5 L919.4,201.2 L926.5,202.5 L933.7,202.5 L940.9,201.5 L948.2,202.9 L955.4,201.4 L966.4,200.0 L977.6,199.0 L985.9,201.1 L994.2,200.4 L1002.6,202.0 L1010.9,202.4 L1018.3,202.5 L1025.7,204.3 L1033.0,203.2 L1040.4,204.4 L1047.8,204.6 L1055.2,203.9 L1062.5,205.7 L1069.9,204.8 L1077.6,205.8 L1085.2,206.7 L1092.9,206.1 L1100.5,208.2 L1108.2,207.3 L1115.8,208.4 L1123.5,208.7 L1131.2,207.8 L1138.8,209.4 L1146.0,210.0 L1153.2,212.8 L1160.5,215.4 L1167.9,216.5 L1174.6,222.0 L1181.4,225.7 L1184.4,236.9 L1186.1,244.6 L1188.9,252.8 L1191.8,261.2 L1192.4,270.1 L1193.2,278.8 L1195.0,287.5 L1196.3,296.1 L1199.0,303.3 L1202.4,310.0 L1206.5,317.3 L1211.0,325.3 L1214.9,333.0 L1219.4,339.3 L1225.9,343.7 L1232.3,350.1 L1238.3,354.9 L1243.8,359.5 L1249.6,366.4 L1255.9,372.2 L1259.9,377.9 L1263.2,384.1 L1266.0,391.1 L1267.6,398.7 L1269.9,406.3 L1271.8,413.7 L1273.0,420.8 L1272.8,428.1 L1273.6,435.4 L1274.2,442.6 L1273.9,449.9 L1273.7,457.2 L1274.4,464.4 L1275.0,471.7 L1274.8,478.9 L1274.5,486.2 L1275.1,493.4 L1275.9,500.7 M648.1,207.6 L655.3,208.1 L662.4,208.3 L669.6,206.8 L676.8,208.0 L684.0,207.2 L691.1,206.9 L698.3,208.4 L705.5,207.1 L712.7,208.2 L719.8,208.7 L727.0,207.5 L734.2,208.9 L741.4,207.9 L748.5,207.5 L755.7,208.4 L762.9,206.8 L770.1,207.6 L777.2,207.7 L784.4,206.7 L791.6,208.4 L798.8,207.7 L805.9,207.8 L813.1,209.0 L820.3,207.6 L827.5,208.5 L834.6,208.3 L841.8,207.0 L849.0,208.3 L856.2,207.0 L863.3,207.1 L870.5,208.2 L877.7,206.9 L884.9,208.2 L892.1,208.3 L899.2,207.6 L906.4,209.1 L913.6,207.8 L920.8,207.8 L927.9,208.5 L935.0,206.8 L942.1,207.8 L949.1,207.6 L956.2,206.7 L967.2,206.0 L978.0,206.4 L986.2,207.7 L994.3,207.0 L1002.4,208.9 L1010.6,207.6 L1017.8,208.8 L1025.0,209.1 L1032.3,208.4 L1039.5,210.2 L1046.8,209.6 L1054.0,210.5 L1061.3,212.0 L1068.5,211.2 L1076.1,213.0 L1083.6,212.8 L1091.2,212.7 L1098.7,214.0 L1106.3,212.5 L1113.8,213.8 L1121.4,213.6 L1128.9,213.3 L1136.5,215.1 L1143.9,216.0 L1151.4,219.3 L1158.9,221.8 L1166.2,223.0 L1172.5,228.3 L1178.6,231.6 L1180.9,242.4 L1183.9,249.8 L1186.3,257.6 L1188.0,265.8 L1189.1,274.4 L1190.9,282.9 L1191.8,291.4 L1192.3,299.8 L1196.0,306.8 L1199.9,313.3 L1202.9,320.2 L1206.8,327.9 L1211.5,335.7 L1216.5,342.2 L1222.4,346.4 L1227.9,352.9 L1233.5,358.4 L1239.5,362.9 L1246.0,369.5 L1252.2,375.9 L1255.2,381.5 L1257.9,387.1 L1261.4,393.5 L1263.7,400.7 L1265.4,408.1 L1266.5,415.4 L1267.9,422.6 L1268.7,429.8 L1269.2,436.9 L1268.9,444.1 L1268.7,451.2 L1269.4,458.3 L1270.1,465.5 L1269.9,472.6 L1269.5,479.7 L1270.1,486.8 L1270.9,494.0 L1270.8,501.1 M656.8,214.2 L663.9,213.1 L670.9,213.4 L677.9,214.6 L684.9,213.4 L692.0,214.5 L699.0,214.7 L706.0,213.5 L713.0,214.8 L720.1,213.8 L727.1,213.2 L734.1,214.3 L741.2,212.8 L748.2,213.4 L755.2,214.1 L762.2,213.0 L769.3,214.5 L776.3,214.3 L783.3,213.7 L790.3,215.1 L797.4,213.8 L804.4,213.8 L811.4,214.5 L818.5,212.8 L825.5,213.8 L832.5,213.7 L839.5,212.7 L846.6,214.3 L853.6,213.6 L860.6,213.7 L867.6,215.0 L874.7,213.7 L881.7,214.4 L888.7,214.7 L895.8,213.2 L902.8,214.3 L909.8,213.6 L916.8,212.8 L923.9,214.2 L930.9,213.0 L940.1,214.2 L949.3,213.7 L958.6,214.6 L969.0,211.7 L979.7,213.4 L987.8,212.4 L995.8,213.1 L1003.8,213.7 L1011.9,213.1 L1019.0,215.1 L1026.1,214.5 L1033.3,215.4 L1040.4,216.9 L1047.5,216.1 L1054.6,217.7 L1061.7,217.9 L1068.9,217.2 L1076.2,218.8 L1083.6,217.6 L1091.0,218.2 L1098.4,219.0 L1105.8,218.1 L1113.1,220.0 L1120.5,219.7 L1127.9,220.2 L1135.2,221.7 L1142.2,222.4 L1149.1,225.5 L1156.0,227.5 L1162.9,228.3 L1168.9,233.2 L1175.1,236.4 L1178.8,247.0 L1180.7,254.2 L1182.5,261.9 L1185.1,269.9 L1186.8,278.3 L1187.3,286.8 L1188.0,295.2 L1189.8,303.5 L1193.3,310.6 L1196.0,317.1 L1198.9,323.9 L1203.8,331.5 L1208.6,339.5 L1212.5,346.3 L1217.9,350.4 L1223.7,356.4 L1229.9,362.2 L1236.2,366.3 L1241.9,371.8 L1247.2,378.3 L1251.8,386.6 L1257.5,394.9 L1259.1,401.7 L1260.1,408.8 L1261.6,416.0 L1263.9,423.2 L1264.3,430.9 L1263.8,438.6 L1263.9,446.4 L1264.8,454.1 L1265.1,461.8 L1264.7,469.5 L1264.8,477.3 L1265.8,485.0 L1265.9,492.7 L1265.5,500.4 M664.7,219.6 L671.8,221.0 L678.9,220.2 L685.9,219.6 L693.0,220.7 L700.0,219.1 L707.1,219.5 L714.2,220.0 L721.2,218.7 L728.3,220.2 L735.3,220.0 L742.4,219.5 L749.5,221.1 L756.5,219.9 L763.6,220.2 L770.6,220.9 L777.7,219.2 L784.8,220.1 L791.8,219.8 L798.9,218.7 L805.9,220.2 L813.0,219.3 L820.0,219.4 L827.1,220.8 L834.2,219.5 L841.2,220.6 L848.3,220.8 L855.3,219.5 L862.4,220.8 L869.5,219.7 L876.5,219.2 L883.6,220.3 L890.6,218.8 L897.7,219.5 L904.8,220.2 L911.8,219.1 L918.9,220.7 L925.9,220.3 L933.0,219.8 L942.0,221.0 L951.1,219.4 L960.1,220.6 L970.7,216.8 L981.1,218.6 L988.9,217.8 L996.7,220.0 L1004.4,219.4 L1012.2,220.7 L1020.1,221.5 L1028.0,221.1 L1035.9,222.8 L1043.8,221.5 L1051.7,223.0 L1059.6,222.6 L1067.5,222.9 L1074.7,224.3 L1081.9,223.3 L1089.1,225.0 L1096.3,225.3 L1103.5,224.9 L1110.7,226.8 L1117.9,225.8 L1125.1,226.3 L1132.3,227.1 L1139.3,227.6 L1146.3,230.7 L1153.4,232.5 L1160.5,233.6 L1166.9,238.7 L1173.2,242.2 L1175.2,252.7 L1177.3,259.8 L1180.2,267.4 L1182.5,275.3 L1182.9,283.6 L1183.9,291.9 L1185.7,300.1 L1186.7,308.3 L1189.2,315.5 L1192.5,321.9 L1196.4,328.4 L1200.7,335.5 L1204.3,343.3 L1208.4,350.0 L1214.4,353.6 L1220.6,358.8 L1226.4,364.6 L1231.7,368.7 L1236.9,373.5 L1242.5,380.1 L1248.1,389.0 L1252.7,397.0 L1254.2,405.8 L1256.9,414.9 L1259.3,424.4 L1258.9,432.0 L1258.9,439.6 L1259.8,447.2 L1260.2,454.8 L1259.7,462.3 L1259.8,469.9 L1260.7,477.5 L1261.0,485.1 L1260.6,492.7 L1260.7,500.3 M672.5,226.3 L679.6,224.7 L686.7,225.9 L693.8,225.8 L700.9,225.1 L708.0,226.8 L715.1,225.9 L722.2,226.2 L729.3,227.2 L736.4,225.6 L743.5,226.5 L750.5,226.2 L757.6,225.0 L764.7,226.3 L771.8,225.2 L778.9,225.2 L786.0,226.4 L793.1,225.2 L800.2,226.4 L807.3,226.7 L814.4,225.7 L821.5,227.1 L828.6,226.1 L835.7,225.7 L842.8,226.6 L849.9,224.9 L857.0,225.7 L864.1,225.9 L871.1,224.8 L878.2,226.4 L885.3,225.9 L892.4,225.8 L899.5,227.2 L906.6,225.8 L913.7,226.4 L920.8,226.7 L927.9,225.1 L935.0,226.3 L943.8,225.1 L952.7,225.8 L961.5,225.5 L971.6,224.2 L981.8,224.5 L989.5,225.5 L997.2,226.4 L1004.9,225.4 L1012.5,227.2 L1020.4,226.1 L1028.2,227.0 L1036.0,227.6 L1043.8,227.1 L1051.6,229.2 L1059.4,228.5 L1067.3,230.1 L1074.4,230.7 L1081.4,230.0 L1088.5,231.7 L1095.6,230.9 L1102.7,230.8 L1109.8,232.1 L1116.9,230.7 L1124.0,231.7 L1131.1,232.4 L1138.0,233.2 L1144.9,236.8 L1151.6,238.7 L1158.3,240.1 L1169.5,248.5 L1172.5,258.6 L1175.2,265.5 L1177.0,272.7 L1178.6,280.3 L1180.0,288.4 L1181.6,296.4 L1182.2,304.5 L1182.8,312.5 L1186.4,319.4 L1190.0,325.6 L1192.8,331.8 L1196.4,338.3 L1200.7,345.8 L1205.5,352.6 L1211.2,356.2 L1216.5,361.0 L1221.6,367.2 L1227.0,371.9 L1232.9,376.3 L1238.9,382.8 L1243.5,392.3 L1247.5,400.3 L1250.1,408.6 L1252.6,417.3 L1253.9,426.3 L1254.0,433.7 L1254.9,441.1 L1255.2,448.5 L1254.8,455.9 L1254.8,463.3 L1255.7,470.7 L1256.1,478.2 L1255.7,485.6 L1255.7,493.0 L1256.5,500.4 M681.4,231.7 L688.5,233.1 L695.6,231.8 L702.7,232.7 L709.9,232.8 L717.0,231.4 L724.1,232.6 L731.3,231.5 L738.4,231.1 L745.5,232.3 L752.7,231.0 L759.8,232.0 L766.9,232.5 L774.0,231.5 L781.2,233.1 L788.3,232.3 L795.4,232.0 L802.6,233.0 L809.7,231.4 L816.8,231.9 L824.0,232.1 L831.1,230.7 L838.2,232.2 L845.3,231.6 L852.5,231.5 L859.6,233.0 L866.7,231.7 L873.9,232.6 L881.0,232.9 L888.1,231.5 L895.3,232.8 L902.4,231.8 L909.5,231.2 L916.6,232.3 L923.8,230.9 L930.9,231.7 L938.0,232.3 L946.7,231.5 L955.3,233.1 L964.0,231.7 L974.0,231.2 L984.0,230.0 L991.4,231.7 L998.9,230.7 L1006.4,231.4 L1013.8,232.4 L1021.4,231.7 L1029.0,233.9 L1036.6,233.6 L1044.1,234.4 L1051.7,235.7 L1059.3,234.8 L1066.8,236.6 L1074.6,235.6 L1082.3,236.0 L1090.0,236.7 L1097.8,235.7 L1105.5,237.6 L1113.3,236.8 L1121.0,238.1 L1128.7,238.9 L1137.4,240.9 L1146.1,244.6 L1154.9,245.8 L1167.0,253.5 L1170.0,263.3 L1171.4,270.0 L1173.5,276.9 L1176.2,284.3 L1177.4,292.2 L1177.8,300.1 L1178.7,308.0 L1180.4,315.8 L1183.6,322.8 L1186.1,329.0 L1188.8,335.1 L1193.4,341.4 L1197.9,348.9 L1201.7,356.1 L1206.7,360.0 L1212.0,364.5 L1217.6,370.6 L1223.6,375.8 L1229.2,379.7 L1234.4,385.4 L1238.3,394.9 L1243.4,402.9 L1245.9,410.9 L1247.2,418.9 L1249.1,427.3 L1250.0,434.5 L1250.3,441.7 L1249.9,448.9 L1249.9,456.1 L1250.7,463.3 L1251.2,470.6 L1250.8,477.8 L1250.7,485.0 L1251.4,492.2 L1252.0,499.5 M688.5,238.2 L695.7,237.3 L702.9,238.5 L710.0,237.1 L717.2,237.5 L724.4,238.3 L731.5,237.1 L738.7,238.7 L745.9,238.4 L753.0,237.9 L760.2,239.3 L767.4,237.9 L774.6,238.2 L781.7,238.5 L788.9,237.0 L796.1,238.2 L803.2,237.5 L810.4,237.1 L817.6,238.6 L824.7,237.5 L831.9,238.4 L839.1,239.0 L846.2,237.7 L853.4,239.1 L860.6,238.2 L867.7,237.6 L874.9,238.6 L882.1,237.0 L889.3,237.7 L896.4,238.1 L903.6,237.0 L910.8,238.7 L917.9,238.1 L925.1,238.0 L932.3,239.3 L939.4,237.8 L947.9,238.8 L956.3,237.8 L964.8,237.7 L974.6,235.6 L984.3,236.4 L991.6,237.3 L998.9,236.7 L1006.2,238.8 L1013.5,238.5 L1020.9,239.0 L1028.4,240.4 L1035.8,239.2 L1043.2,240.8 L1050.7,240.5 L1058.1,240.2 L1065.6,241.9 L1073.2,240.7 L1080.8,242.3 L1088.4,242.6 L1096.0,242.5 L1103.7,244.4 L1111.3,243.3 L1118.9,244.6 L1126.5,244.5 L1135.5,246.4 L1144.4,249.6 L1153.2,250.8 L1164.3,258.8 L1166.2,268.6 L1168.7,275.1 L1171.3,282.0 L1173.1,289.3 L1173.5,297.0 L1174.8,304.8 L1176.4,312.5 L1177.1,320.3 L1179.5,327.3 L1182.6,333.7 L1186.2,339.6 L1190.3,345.7 L1193.8,352.9 L1197.4,360.0 L1202.9,363.9 L1208.7,367.7 L1214.3,373.2 L1219.5,378.5 L1224.3,382.1 L1229.3,386.9 L1234.3,396.4 L1239.2,404.8 L1240.6,412.7 L1242.4,420.5 L1245.1,428.4 L1245.3,435.4 L1244.9,442.5 L1244.9,449.5 L1245.7,456.5 L1246.2,463.5 L1245.9,470.6 L1245.7,477.6 L1246.4,484.6 L1247.0,491.7 L1246.9,498.7 M697.4,244.1 L704.4,244.4 L711.4,243.5 L718.4,245.1 L725.4,244.5 L732.5,244.0 L739.5,245.2 L746.5,243.7 L753.5,244.0 L760.5,244.4 L767.5,242.9 L774.5,244.1 L781.5,243.9 L788.5,243.2 L795.5,244.9 L802.5,244.0 L809.5,244.2 L816.5,245.3 L823.5,243.8 L830.5,244.6 L837.5,244.6 L844.5,243.1 L851.5,244.3 L858.5,243.6 L865.5,243.1 L872.5,244.6 L879.5,243.4 L886.5,244.1 L893.5,245.1 L900.5,243.8 L907.5,245.0 L914.5,244.7 L921.5,243.6 L928.5,244.8 L935.5,243.6 L942.5,243.3 L950.8,244.2 L959.1,242.9 L967.3,244.7 L976.7,241.6 L986.3,244.0 L993.4,243.2 L1000.6,243.9 L1007.8,244.9 L1015.0,243.7 L1022.2,245.2 L1029.5,245.0 L1036.8,244.7 L1044.1,246.5 L1051.3,245.8 L1058.6,247.1 L1065.9,248.2 L1073.3,247.4 L1080.7,249.3 L1088.1,248.6 L1095.6,248.9 L1103.0,249.8 L1110.4,248.4 L1117.8,249.9 L1125.2,249.5 L1133.5,252.0 L1141.7,255.4 L1149.9,257.1 L1160.8,265.1 L1164.1,274.7 L1166.1,281.1 L1167.6,287.7 L1169.4,294.7 L1171.0,302.2 L1172.3,309.8 L1172.7,317.3 L1173.3,324.9 L1176.7,331.7 L1180.1,337.9 L1182.7,343.6 L1186.1,349.1 L1190.0,355.7 L1194.4,362.6 L1202.5,368.2 L1209.8,375.1 L1214.6,380.9 L1219.8,384.8 L1225.4,389.2 L1230.3,398.5 L1234.0,407.5 L1235.7,415.6 L1238.4,423.3 L1240.4,431.0 L1239.9,438.6 L1240.2,446.2 L1241.1,453.8 L1241.2,461.4 L1240.7,469.0 L1241.1,476.6 L1242.0,484.2 L1242.0,491.8 L1241.6,499.5 M705.1,250.0 L712.1,250.4 L719.2,250.8 L726.2,249.2 L733.3,250.2 L740.3,249.8 L747.3,249.0 L754.4,250.6 L761.4,249.7 L768.5,250.0 L775.5,251.2 L782.5,249.9 L789.6,250.9 L796.6,250.9 L803.6,249.6 L810.7,250.8 L817.7,249.7 L824.8,249.3 L831.8,250.5 L838.8,249.1 L845.9,250.0 L852.9,250.7 L860.0,249.6 L867.0,251.1 L874.0,250.7 L881.1,250.0 L888.1,251.2 L895.1,249.8 L902.2,249.8 L909.2,250.5 L916.3,248.9 L923.3,250.1 L930.3,250.0 L937.4,249.3 L944.4,251.0 L952.5,250.0 L960.5,250.8 L968.6,250.8 L978.1,248.3 L987.3,249.2 L996.6,248.7 L1005.8,249.9 L1015.1,249.6 L1022.1,251.4 L1029.2,250.6 L1036.2,252.0 L1043.3,253.1 L1050.3,252.3 L1057.4,254.1 L1064.4,253.8 L1071.6,253.4 L1078.9,254.8 L1086.1,253.4 L1093.3,254.4 L1100.6,255.0 L1107.8,254.2 L1115.1,256.2 L1122.3,255.8 L1130.6,258.7 L1139.0,261.8 L1147.5,263.2 L1158.8,270.5 L1160.8,279.7 L1163.4,289.0 L1167.2,298.9 L1168.0,306.2 L1168.3,313.5 L1169.4,320.9 L1171.0,328.2 L1175.0,338.1 L1178.7,346.7 L1182.9,352.0 L1187.2,358.3 L1190.9,365.3 L1197.9,371.6 L1205.4,378.1 L1213.6,386.7 L1221.5,392.5 L1225.1,401.1 L1229.2,410.2 L1231.8,418.3 L1233.7,426.0 L1234.9,433.5 L1235.2,440.9 L1236.1,448.3 L1236.3,455.7 L1235.8,463.1 L1236.1,470.5 L1236.9,477.9 L1237.1,485.3 L1236.6,492.7 L1236.9,500.1 M713.1,256.4 L720.2,255.5 L727.3,255.6 L734.4,256.9 L741.4,255.7 L748.5,256.8 L755.6,257.1 L762.7,255.9 L769.7,257.2 L776.8,256.1 L783.9,255.6 L791.0,256.6 L798.0,255.1 L805.1,255.8 L812.2,256.3 L819.3,255.2 L826.4,256.9 L833.4,256.5 L840.5,256.1 L847.6,257.5 L854.7,256.0 L861.7,256.4 L868.8,256.8 L875.9,255.1 L883.0,256.3 L890.0,255.8 L897.1,255.1 L904.2,256.7 L911.3,255.7 L918.4,256.2 L925.4,257.3 L932.5,255.9 L939.6,257.0 L946.7,256.7 L954.5,255.7 L962.4,256.8 L970.3,255.0 L979.2,254.6 L988.3,254.0 L997.4,255.9 L1006.5,255.7 L1015.7,257.3 L1023.8,257.5 L1031.9,257.5 L1040.0,258.8 L1048.1,257.6 L1056.2,259.4 L1064.4,258.4 L1071.5,259.2 L1078.5,260.3 L1085.6,259.4 L1092.7,261.2 L1099.8,261.4 L1106.9,261.1 L1114.0,262.8 L1121.1,261.8 L1129.3,264.5 L1137.4,266.9 L1145.3,268.2 L1155.2,275.5 L1157.7,284.6 L1161.3,293.6 L1163.6,303.4 L1164.2,310.5 L1165.7,317.7 L1167.0,324.9 L1167.5,332.2 L1171.2,342.2 L1176.1,350.9 L1181.7,359.0 L1186.5,369.1 L1194.1,375.7 L1202.2,381.4 L1209.6,389.7 L1216.4,395.1 L1220.5,402.7 L1225.3,411.5 L1227.2,419.5 L1228.3,427.3 L1230.3,434.8 L1231.2,442.1 L1231.3,449.3 L1230.8,456.5 L1231.1,463.8 L1231.9,471.0 L1232.2,478.2 L1231.7,485.5 L1231.8,492.7 L1232.7,499.9 M721.8,261.9 L728.9,263.3 L736.0,262.6 L743.1,261.9 L750.3,263.0 L757.4,261.4 L764.5,261.8 L771.6,262.3 L778.7,261.0 L785.8,262.5 L793.0,262.2 L800.1,261.8 L807.2,263.4 L814.3,262.2 L821.4,262.6 L828.5,263.2 L835.7,261.5 L842.8,262.6 L849.9,262.0 L857.0,261.1 L864.1,262.6 L871.2,261.4 L878.4,262.0 L885.5,262.9 L892.6,261.7 L899.7,263.1 L906.8,262.8 L913.9,262.0 L921.1,263.2 L928.2,261.8 L935.3,261.8 L942.4,262.5 L949.5,261.0 L957.2,262.4 L964.9,261.9 L972.5,261.9 L981.5,261.3 L990.3,260.9 L999.1,262.7 L1007.9,261.5 L1016.8,263.3 L1024.6,262.0 L1032.4,263.4 L1040.3,263.5 L1048.1,263.6 L1055.9,265.5 L1063.7,264.8 L1071.6,266.7 L1079.4,266.3 L1087.3,266.7 L1095.1,267.6 L1103.0,266.4 L1110.8,268.0 L1118.7,266.8 L1126.3,269.9 L1134.0,272.3 L1141.9,274.1 L1152.6,281.7 L1155.4,290.6 L1157.5,299.5 L1160.4,309.0 L1162.3,318.2 L1163.0,327.6 L1163.9,337.0 L1168.7,346.8 L1172.6,355.3 L1177.4,362.8 L1183.3,372.2 L1191.0,378.7 L1198.0,383.5 L1204.6,391.6 L1212.0,397.4 L1216.7,404.5 L1220.7,412.8 L1221.8,420.9 L1223.8,428.8 L1226.3,436.6 L1226.3,443.7 L1225.9,450.8 L1226.1,457.9 L1227.0,465.0 L1227.3,472.0 L1226.8,479.1 L1226.8,486.2 L1227.7,493.3 L1228.1,500.4 M729.0,268.7 L736.2,267.1 L743.3,268.2 L750.5,268.1 L757.7,267.4 L764.8,269.1 L772.0,268.1 L779.1,268.5 L786.3,269.4 L793.5,267.9 L800.6,268.9 L807.8,268.5 L814.9,267.4 L822.1,268.7 L829.3,267.4 L836.4,267.7 L843.6,268.7 L850.7,267.4 L857.9,268.9 L865.1,268.8 L872.2,268.1 L879.4,269.5 L886.5,268.1 L893.7,268.3 L900.9,268.8 L908.0,267.1 L915.2,268.3 L922.3,267.9 L929.5,267.3 L936.7,268.9 L943.8,267.9 L951.0,268.5 L958.4,269.3 L965.9,268.0 L973.4,269.3 L982.0,266.1 L990.7,267.3 L999.3,267.1 L1007.9,267.5 L1016.5,268.5 L1024.2,268.1 L1031.9,270.4 L1039.6,269.7 L1047.2,271.1 L1054.9,271.7 L1062.6,271.1 L1070.3,272.6 L1078.0,271.3 L1085.8,272.3 L1093.5,272.5 L1101.2,271.9 L1108.9,273.8 L1116.6,272.9 L1124.5,276.5 L1132.4,278.8 L1140.2,280.5 L1150.1,287.5 L1151.6,296.1 L1154.8,304.6 L1158.0,313.6 L1158.5,322.5 L1159.6,331.6 L1161.6,340.7 L1165.2,350.1 L1168.6,358.5 L1174.5,365.6 L1180.1,374.4 L1186.6,381.4 L1193.3,386.2 L1200.7,394.2 L1208.3,400.9 L1212.1,407.6 L1215.4,415.3 L1217.4,423.1 L1219.8,431.0 L1221.3,438.8 L1220.9,446.6 L1221.4,454.4 L1222.3,462.2 L1222.1,470.0 L1221.8,477.8 L1222.4,485.6 L1223.2,493.4 L1222.9,501.2 M738.0,273.9 L745.2,275.4 L752.4,274.1 L759.6,274.9 L766.8,275.1 L774.0,273.7 L781.3,275.0 L788.5,273.8 L795.7,273.5 L802.9,274.6 L810.1,273.2 L817.3,274.4 L824.5,274.7 L831.7,273.8 L838.9,275.5 L846.1,274.5 L853.3,274.5 L860.5,275.3 L867.7,273.6 L874.9,274.5 L882.1,274.1 L889.3,273.2 L896.5,274.7 L903.7,273.6 L910.9,274.1 L918.2,275.1 L925.4,273.9 L932.6,275.3 L939.8,274.8 L947.0,274.0 L954.2,275.2 L961.5,273.6 L968.7,274.0 L976.0,274.3 L984.3,271.5 L992.8,273.7 L1001.2,272.9 L1009.6,275.1 L1018.0,274.6 L1025.5,275.5 L1033.0,276.4 L1040.5,275.3 L1047.9,277.0 L1055.4,276.3 L1062.9,276.7 L1070.4,277.9 L1077.8,276.8 L1085.3,278.7 L1092.8,278.6 L1100.2,278.9 L1107.7,280.5 L1115.2,279.3 L1122.5,282.6 L1129.7,284.3 L1137.0,285.6 L1146.4,292.4 L1149.3,300.7 L1152.2,309.0 L1154.1,317.8 L1155.5,326.5 L1157.3,335.3 L1157.9,344.2 L1161.4,353.6 L1166.0,362.2 L1171.2,369.3 L1175.6,377.9 L1182.5,385.3 L1189.9,390.1 L1197.1,397.3 L1203.6,404.3 L1206.9,410.6 L1211.1,417.4 L1213.4,424.7 L1214.8,432.2 L1216.0,439.7 L1216.4,447.4 L1217.3,455.0 L1217.2,462.6 L1216.8,470.2 L1217.3,477.9 L1218.2,485.5 L1218.0,493.1 L1217.7,500.7 M745.5,280.7 L752.5,279.6 L759.5,280.8 L766.5,279.6 L773.5,279.6 L780.5,280.7 L787.5,279.5 L794.6,280.6 L801.6,281.0 L808.6,280.0 L815.6,281.5 L822.6,280.7 L829.6,280.1 L836.6,281.2 L843.6,279.6 L850.7,279.9 L857.7,280.5 L864.7,279.1 L871.7,280.5 L878.7,280.4 L885.7,279.8 L892.7,281.4 L899.7,280.5 L906.8,280.5 L913.8,281.5 L920.8,279.9 L927.8,280.5 L934.8,280.5 L941.8,279.2 L948.8,280.5 L955.8,279.9 L962.9,279.6 L970.0,281.1 L977.1,280.0 L985.4,279.4 L993.6,279.8 L1001.7,279.7 L1009.8,281.0 L1018.0,279.7 L1025.2,281.4 L1032.4,280.9 L1039.6,281.1 L1046.9,282.8 L1054.1,282.0 L1061.4,283.7 L1068.6,284.2 L1075.9,283.7 L1083.2,285.5 L1090.4,284.5 L1097.7,284.9 L1105.0,285.7 L1112.3,284.4 L1119.6,287.8 L1127.0,289.4 L1134.5,291.1 L1144.4,298.2 L1146.4,306.5 L1148.4,314.6 L1151.5,323.2 L1153.0,331.7 L1153.4,340.3 L1154.5,348.9 L1159.0,358.3 L1162.6,366.7 L1166.9,373.6 L1172.3,381.5 L1179.5,388.6 L1186.2,393.1 L1192.3,399.2 L1198.7,406.4 L1202.9,412.7 L1207.1,418.9 L1208.4,425.8 L1209.5,432.9 L1211.5,440.2 L1212.3,447.6 L1212.3,455.0 L1211.9,462.5 L1212.3,469.9 L1213.2,477.3 L1213.2,484.8 L1212.7,492.2 L1213.1,499.6 M753.8,286.2 L760.8,286.8 L767.9,285.7 L774.9,287.4 L782.0,286.8 L789.0,286.3 L796.1,287.6 L803.1,286.0 L810.2,286.3 L817.2,286.7 L824.3,285.2 L831.4,286.4 L838.4,286.1 L845.5,285.5 L852.5,287.2 L859.6,286.2 L866.6,286.6 L873.7,287.6 L880.7,286.1 L887.8,287.1 L894.8,286.8 L901.9,285.5 L909.0,286.8 L916.0,285.7 L923.1,285.6 L930.1,286.8 L937.2,285.6 L944.2,286.7 L951.3,287.2 L958.3,286.1 L968.7,287.6 L979.0,286.0 L986.8,285.6 L994.8,284.3 L1002.8,285.9 L1010.8,285.6 L1018.8,286.1 L1025.9,287.7 L1033.0,286.9 L1040.1,288.6 L1047.2,289.2 L1054.3,288.6 L1061.4,290.4 L1068.5,289.5 L1075.6,289.5 L1082.7,290.7 L1089.9,289.4 L1097.0,290.5 L1104.1,291.1 L1111.1,290.4 L1118.3,294.1 L1125.3,295.7 L1132.3,297.6 L1141.0,304.4 L1142.9,312.4 L1146.2,320.2 L1148.7,328.3 L1149.1,336.5 L1150.4,344.7 L1152.1,353.1 L1155.4,362.0 L1158.5,370.2 L1163.9,376.7 L1169.2,383.9 L1175.4,390.8 L1181.4,395.7 L1187.9,401.2 L1194.9,408.8 L1198.9,415.6 L1202.0,421.7 L1204.2,431.6 L1207.4,441.9 L1207.3,449.1 L1206.9,456.3 L1207.4,463.5 L1208.2,470.8 L1208.2,478.0 L1207.8,485.2 L1208.1,492.4 L1208.9,499.7 M762.2,292.4 L769.3,292.6 L776.4,293.2 L783.5,291.5 L790.6,292.5 L797.7,292.2 L804.8,291.3 L811.9,292.9 L819.0,291.9 L826.1,292.3 L833.2,293.5 L840.3,292.1 L847.4,293.3 L854.5,293.1 L861.6,291.9 L868.7,293.2 L875.8,291.9 L882.9,291.7 L890.0,292.7 L897.1,291.3 L904.2,292.5 L911.3,292.8 L918.4,291.9 L925.5,293.6 L932.6,292.7 L939.7,292.5 L946.8,293.5 L953.9,291.8 L961.0,292.5 L971.0,291.7 L981.1,292.4 L988.9,290.5 L996.6,290.8 L1004.3,292.7 L1012.0,291.8 L1019.7,293.7 L1027.9,293.4 L1036.1,293.9 L1044.3,294.6 L1052.4,293.8 L1060.6,295.6 L1068.6,294.3 L1076.6,296.1 L1084.6,295.9 L1092.6,296.6 L1100.6,297.8 L1108.6,297.0 L1115.3,300.5 L1122.0,301.6 L1128.9,303.1 L1138.2,309.3 L1140.8,317.1 L1142.9,324.6 L1144.8,332.4 L1146.5,340.3 L1147.9,348.3 L1148.3,356.4 L1151.6,365.1 L1155.9,373.4 L1160.8,380.0 L1164.8,386.9 L1171.0,393.9 L1177.6,399.5 L1184.5,404.5 L1190.8,411.9 L1193.7,418.9 L1197.0,425.0 L1200.2,434.3 L1202.3,443.9 L1202.0,451.9 L1202.7,459.8 L1203.4,467.8 L1203.0,475.8 L1202.9,483.7 L1203.8,491.7 L1204.2,499.7 M769.5,298.7 L776.7,297.8 L783.8,297.8 L791.0,299.2 L798.1,298.0 L805.3,299.1 L812.4,299.4 L819.6,298.2 L826.7,299.5 L833.9,298.4 L841.0,298.0 L848.2,298.9 L855.3,297.3 L862.5,298.3 L869.6,298.5 L876.8,297.6 L883.9,299.3 L891.1,298.5 L898.2,298.6 L905.4,299.7 L912.5,298.2 L919.7,299.0 L926.8,298.8 L934.0,297.5 L941.1,298.8 L948.3,297.8 L955.4,297.7 L962.5,299.0 L972.3,297.8 L982.0,299.6 L989.5,296.7 L997.0,298.5 L1004.5,298.2 L1012.0,298.0 L1019.6,299.3 L1027.6,298.1 L1035.6,299.9 L1043.6,299.5 L1051.7,300.4 L1059.7,301.7 L1067.5,301.1 L1075.3,303.1 L1083.2,302.1 L1091.0,303.1 L1098.8,303.3 L1106.6,302.5 L1116.9,306.4 L1127.2,308.3 L1135.9,314.7 L1137.2,322.3 L1139.5,329.8 L1142.6,337.4 L1143.6,345.1 L1143.9,352.9 L1145.1,360.8 L1149.2,369.4 L1152.5,377.7 L1156.4,384.4 L1161.2,391.0 L1167.9,397.4 L1174.2,403.1 L1180.0,407.5 L1185.6,413.9 L1189.1,421.0 L1193.2,427.2 L1195.5,436.1 L1197.0,445.1 L1197.7,452.8 L1198.4,460.5 L1198.1,468.2 L1197.9,475.9 L1198.7,483.6 L1199.3,491.3 L1198.9,499.0 M778.6,304.1 L785.8,305.6 L793.0,305.0 L800.2,304.2 L807.4,305.4 L814.6,303.8 L821.8,304.2 L829.0,304.6 L836.2,303.3 L843.4,304.9 L850.6,304.4 L857.8,304.2 L865.0,305.7 L872.2,304.4 L879.4,305.2 L886.6,305.3 L893.8,303.9 L901.0,305.1 L908.2,304.0 L915.4,303.7 L922.6,304.8 L929.8,303.5 L937.0,304.7 L944.2,304.9 L951.4,304.1 L958.6,305.7 L965.8,304.7 L975.2,305.2 L984.7,304.3 L991.9,302.6 L999.2,303.9 L1006.5,302.7 L1013.8,304.4 L1021.1,304.6 L1028.8,304.7 L1036.6,306.7 L1044.4,305.9 L1052.1,307.7 L1059.9,307.5 L1067.4,307.3 L1074.9,308.5 L1082.5,307.1 L1090.0,308.5 L1097.6,308.3 L1105.1,308.2 L1114.6,312.3 L1124.0,314.7 L1132.1,321.1 L1134.5,328.5 L1137.3,335.6 L1139.2,343.0 L1139.7,350.4 L1141.2,357.9 L1142.7,365.4 L1145.5,373.6 L1148.4,381.6 L1153.3,388.1 L1158.3,394.0 L1164.1,399.7 L1169.5,405.6 L1175.2,409.7 L1181.5,415.4 L1185.4,422.5 L1188.7,429.2 L1190.1,438.2 L1192.7,447.0 L1193.5,454.4 L1193.2,461.9 L1192.9,469.3 L1193.6,476.8 L1194.3,484.3 L1194.1,491.7 L1193.8,499.2 M785.9,311.1 L793.1,309.4 L800.4,310.4 L807.6,310.4 L814.9,309.6 L822.2,311.3 L829.4,310.4 L836.7,310.9 L843.9,311.7 L851.2,310.2 L858.4,311.4 L865.7,310.6 L872.9,309.8 L880.2,311.0 L887.5,309.5 L894.7,310.3 L902.0,310.7 L909.2,309.7 L916.5,311.5 L923.7,310.7 L931.0,310.7 L938.3,311.8 L945.5,310.2 L952.8,311.0 L960.0,310.7 L967.3,309.5 L976.5,310.8 L985.6,309.4 L992.8,309.6 L999.8,309.5 L1006.8,309.8 L1013.8,311.6 L1020.8,310.7 L1028.3,311.9 L1035.8,312.3 L1043.3,311.5 L1050.8,313.2 L1058.3,312.2 L1065.7,313.0 L1073.0,313.8 L1080.3,313.0 L1087.6,315.0 L1094.9,314.7 L1102.3,315.1 L1111.8,318.7 L1121.4,320.6 L1130.1,326.4 L1131.9,333.5 L1133.5,340.3 L1135.8,347.3 L1137.4,354.4 L1138.4,361.6 L1138.8,368.8 L1141.9,376.7 L1145.7,384.5 L1150.3,391.0 L1154.0,396.8 L1159.5,402.2 L1165.4,408.4 L1171.7,413.0 L1177.7,418.1 L1183.3,432.0 L1185.7,441.1 L1188.5,449.9 L1188.3,457.1 L1188.0,464.3 L1188.6,471.5 L1189.4,478.8 L1189.2,486.0 L1188.8,493.2 L1189.4,500.4 M794.4,316.1 L801.4,317.7 L808.4,316.5 L815.5,317.0 L822.5,317.7 L829.5,316.1 L836.5,317.1 L843.6,316.7 L850.6,315.5 L857.6,316.9 L864.6,315.9 L871.7,316.0 L878.7,317.3 L885.7,316.1 L892.7,317.2 L899.8,317.5 L906.8,316.3 L913.8,317.6 L920.8,316.7 L927.9,316.1 L934.9,317.2 L941.9,315.7 L948.9,316.1 L956.0,316.8 L963.0,315.6 L970.0,317.1 L978.9,316.6 L987.8,317.2 L994.5,316.3 L1001.3,315.3 L1011.6,317.2 L1021.9,315.9 L1029.2,317.7 L1036.6,316.9 L1043.9,317.6 L1051.2,319.0 L1058.5,318.3 L1065.6,320.1 L1072.7,320.2 L1079.8,319.8 L1087.0,321.5 L1094.1,320.5 L1101.2,320.8 L1110.3,323.7 L1119.3,325.6 L1126.8,331.4 L1128.2,338.3 L1130.9,345.0 L1133.5,351.8 L1134.1,358.7 L1134.5,365.7 L1135.7,372.8 L1139.4,380.5 L1142.4,388.3 L1146.0,395.0 L1150.1,400.8 L1156.2,405.7 L1162.1,412.0 L1167.7,416.8 L1172.8,421.0 L1178.9,434.0 L1181.7,443.1 L1183.3,451.7 L1183.0,458.8 L1183.7,465.8 L1184.4,472.8 L1184.3,479.8 L1183.9,486.8 L1184.3,493.8 L1185.1,500.8 M802.6,323.2 L809.7,321.9 L816.7,323.2 L823.8,322.0 L830.9,321.9 L838.0,323.0 L845.0,321.7 L852.1,322.9 L859.2,323.3 L866.3,322.3 L873.3,323.8 L880.4,323.0 L887.5,322.5 L894.6,323.6 L901.6,321.9 L908.7,322.4 L915.8,322.7 L922.9,321.4 L930.0,322.9 L937.0,322.5 L944.1,322.2 L951.2,323.8 L958.3,322.6 L965.3,323.1 L972.4,323.7 L981.0,322.1 L989.6,323.3 L996.3,320.5 L1002.9,321.1 L1012.7,322.0 L1022.6,322.7 L1029.6,323.9 L1036.6,323.2 L1043.5,325.1 L1050.5,325.2 L1057.5,324.8 L1065.7,326.5 L1073.9,325.0 L1082.1,326.5 L1090.3,325.7 L1098.5,326.4 L1107.1,329.3 L1115.9,331.7 L1123.7,337.7 L1126.1,344.4 L1128.2,350.9 L1129.7,357.5 L1131.2,367.5 L1133.2,377.7 L1135.7,385.0 L1138.3,392.5 L1142.7,399.2 L1147.3,404.6 L1152.7,408.7 L1157.7,414.5 L1162.7,419.4 L1168.1,423.1 L1175.0,435.0 L1176.6,443.9 L1178.1,452.7 L1178.9,460.6 L1179.5,468.6 L1179.1,476.5 L1179.1,484.5 L1180.0,492.4 L1180.3,500.3 M810.1,328.4 L817.2,329.1 L824.4,328.0 L831.5,329.6 L838.6,329.1 L845.8,328.7 L852.9,329.9 L860.0,328.4 L867.2,328.8 L874.3,329.0 L881.4,327.5 L888.6,328.8 L895.7,328.3 L902.8,327.9 L910.0,329.5 L917.1,328.3 L924.2,329.1 L931.4,329.7 L938.5,328.4 L945.6,329.6 L952.8,328.8 L959.9,328.0 L967.0,329.2 L974.2,327.7 L982.4,328.6 L990.7,328.5 L997.0,326.7 L1003.4,328.7 L1013.0,328.1 L1022.6,330.1 L1031.2,329.3 L1039.7,330.4 L1048.2,330.3 L1056.8,330.4 L1064.8,331.4 L1072.7,330.5 L1080.7,332.6 L1088.7,331.8 L1096.7,333.2 L1105.4,335.8 L1114.1,338.0 L1121.6,343.4 L1122.7,349.8 L1124.4,356.0 L1126.9,362.2 L1128.7,371.8 L1129.2,381.5 L1132.1,388.3 L1135.6,395.5 L1139.8,402.0 L1143.3,407.4 L1153.2,416.5 L1158.8,422.0 L1164.4,425.8 L1170.0,436.9 L1171.4,445.6 L1174.0,454.3 L1174.6,462.0 L1174.2,469.8 L1174.1,477.5 L1174.9,485.2 L1175.4,492.9 L1175.0,500.6 M819.1,334.9 L826.3,334.9 L833.5,335.6 L840.7,333.9 L847.9,334.9 L855.0,334.5 L862.2,333.6 L869.4,335.2 L876.6,334.1 L883.8,334.7 L891.0,335.7 L898.2,334.4 L905.4,335.8 L912.6,335.2 L919.8,334.4 L927.0,335.6 L934.2,334.0 L941.4,334.4 L948.6,334.8 L955.8,333.5 L963.0,335.1 L970.1,334.7 L977.3,334.5 L985.3,335.9 L993.3,334.5 L999.5,334.2 L1005.6,334.8 L1014.9,333.9 L1024.1,335.3 L1032.3,334.2 L1040.5,336.3 L1048.6,335.5 L1056.8,337.2 L1064.5,337.6 L1072.1,337.5 L1079.8,339.2 L1087.4,338.0 L1095.0,339.3 L1103.0,341.0 L1111.0,343.0 L1117.8,348.2 L1119.7,354.5 L1124.2,366.5 L1124.7,375.7 L1126.3,385.1 L1132.3,398.7 L1135.5,405.4 L1139.1,411.0 L1150.0,419.6 L1160.0,429.5 L1164.9,439.5 L1167.4,447.7 L1169.6,456.0 L1169.2,463.5 L1169.1,470.9 L1169.9,478.4 L1170.5,485.9 L1170.1,493.3 L1169.9,500.8 M826.3,341.0 L833.5,340.2 L840.8,340.1 L848.1,341.5 L855.3,340.2 L862.6,341.4 L869.8,341.6 L877.1,340.6 L884.4,341.9 L891.6,340.6 L898.9,340.5 L906.1,341.2 L913.4,339.6 L920.7,340.8 L927.9,340.5 L935.2,340.1 L942.5,341.7 L949.7,340.5 L957.0,341.3 L964.2,341.8 L971.5,340.4 L978.8,341.7 L986.5,340.5 L994.2,340.3 L1000.2,340.0 L1006.1,339.1 L1014.9,340.4 L1023.8,340.7 L1031.7,341.3 L1039.5,343.0 L1047.4,342.1 L1055.3,344.1 L1062.7,343.2 L1070.1,343.5 L1077.5,344.4 L1084.9,343.1 L1092.3,344.6 L1100.3,346.3 L1108.4,348.7 L1115.7,354.1 L1117.4,360.2 L1120.3,372.0 L1122.1,380.9 L1123.7,389.9 L1128.2,403.0 L1136.3,415.1 L1145.9,422.6 L1154.9,432.4 L1160.9,441.3 L1163.1,448.8 L1164.3,456.6 L1164.2,463.8 L1164.9,470.9 L1165.5,478.1 L1165.2,485.3 L1165.0,492.5 L1165.6,499.6 M835.0,346.4 L842.4,347.8 L849.7,347.4 L857.0,346.6 L864.4,347.8 L871.7,346.1 L879.0,346.6 L886.4,346.8 L893.7,345.6 L901.0,347.3 L908.4,346.4 L915.7,346.8 L923.0,347.9 L930.4,346.5 L937.7,347.8 L945.0,347.2 L952.4,346.4 L959.7,347.5 L967.0,345.9 L974.4,346.6 L981.7,346.8 L989.1,345.8 L996.5,347.5 L1002.1,345.8 L1007.8,345.6 L1016.4,347.8 L1025.0,346.8 L1032.7,348.3 L1040.3,348.1 L1047.9,347.8 L1055.6,349.3 L1062.7,348.1 L1069.8,349.3 L1076.9,349.9 L1084.1,349.2 L1091.2,351.2 L1098.8,352.7 L1106.3,355.2 L1112.6,360.2 L1113.6,366.1 L1118.0,377.2 L1119.2,385.7 L1119.6,394.3 L1125.5,406.4 L1132.5,418.1 L1141.2,424.6 L1151.0,434.6 L1156.6,443.3 L1157.7,450.3 L1159.3,457.6 L1160.2,465.9 L1160.5,474.1 L1160.0,482.4 L1160.4,490.6 L1161.3,498.9 M842.9,353.5 L850.0,351.9 L857.0,352.6 L864.1,352.9 L871.1,351.8 L878.2,353.4 L885.2,353.0 L892.3,352.7 L899.3,354.2 L906.3,352.8 L913.4,353.2 L920.4,353.7 L927.5,352.1 L934.5,353.1 L941.6,352.6 L948.6,351.7 L955.7,353.3 L962.7,352.3 L969.7,352.6 L976.8,353.9 L983.8,352.6 L991.0,353.7 L998.1,353.7 L1003.7,351.4 L1009.1,352.4 L1017.3,352.8 L1025.4,352.2 L1032.7,353.9 L1039.9,352.9 L1047.2,354.2 L1054.4,355.2 L1062.9,354.8 L1071.4,356.7 L1079.9,355.7 L1088.4,357.5 L1095.6,358.4 L1102.8,360.5 L1109.3,365.1 L1111.3,370.7 L1114.8,381.4 L1115.3,389.5 L1117.0,397.7 L1122.2,409.3 L1128.2,421.0 L1137.7,427.4 L1147.0,437.7 L1151.3,446.6 L1152.9,453.2 L1155.2,460.0 L1155.6,467.9 L1155.1,475.8 L1155.3,483.7 L1156.2,491.6 L1156.4,499.5 M850.7,358.3 L857.8,359.9 L864.9,358.9 L872.0,359.3 L879.1,360.0 L886.3,358.5 L893.4,359.5 L900.5,359.0 L907.6,357.9 L914.7,359.3 L921.8,358.1 L928.9,358.4 L936.0,359.5 L943.1,358.3 L950.3,359.7 L957.4,359.6 L964.5,358.7 L971.6,360.1 L978.7,358.8 L985.8,358.7 L999.5,357.8 L1004.6,357.1 L1009.9,358.6 L1017.8,357.8 L1025.7,359.2 L1032.8,360.1 L1039.8,359.5 L1046.8,361.5 L1053.9,361.2 L1062.1,361.3 L1070.3,362.2 L1078.5,361.0 L1086.7,362.6 L1093.9,363.4 L1101.1,365.8 L1107.3,370.6 L1108.3,376.1 L1111.2,386.5 L1112.9,394.3 L1114.1,402.2 L1118.1,413.3 L1125.2,425.0 L1134.1,431.1 L1142.0,440.6 L1146.7,449.5 L1150.7,462.1 L1150.2,469.6 L1150.3,477.1 L1151.2,484.7 L1151.5,492.2 L1151.0,499.7 M859.6,365.6 L866.7,364.3 L873.9,365.5 L881.1,364.3 L888.3,364.2 L895.5,365.3 L902.7,364.0 L909.8,365.3 L917.0,365.5 L924.2,364.6 L931.4,366.2 L938.6,365.1 L945.8,365.1 L952.9,365.8 L960.1,364.1 L967.3,365.0 L974.5,364.7 L981.7,363.9 L988.9,365.4 L1001.9,364.6 L1007.0,364.9 L1012.0,365.0 L1019.5,364.5 L1027.0,366.4 L1036.0,365.2 L1044.9,366.9 L1053.8,365.9 L1061.6,366.9 L1069.4,367.2 L1077.2,366.9 L1085.0,368.8 L1098.0,372.4 L1103.5,376.9 L1104.9,382.2 L1109.0,392.1 L1109.7,399.5 L1110.1,407.0 L1115.4,417.3 L1121.7,428.3 L1129.3,433.9 L1137.5,442.2 L1142.9,451.3 L1145.2,463.5 L1145.3,470.7 L1146.2,477.9 L1146.6,485.1 L1146.1,492.3 L1146.1,499.5 M866.7,370.6 L874.0,371.4 L881.3,370.3 L888.5,371.9 L895.8,371.4 L903.1,371.1 L910.3,372.2 L917.6,370.6 L924.9,371.3 L932.1,371.2 L939.4,369.9 L946.7,371.3 L953.9,370.3 L961.2,370.5 L968.5,371.7 L975.7,370.5 L983.0,371.9 L990.3,371.6 L1002.7,372.0 L1007.6,370.8 L1012.4,369.8 L1019.5,370.7 L1026.7,371.3 L1035.3,370.6 L1043.8,372.6 L1052.3,371.8 L1059.8,373.7 L1067.3,373.6 L1074.8,373.8 L1082.3,375.3 L1095.3,378.0 L1101.2,382.1 L1102.8,387.1 L1105.2,396.5 L1106.0,403.5 L1107.6,410.6 L1112.2,420.2 L1117.3,430.7 L1125.4,436.6 L1133.9,444.2 L1138.0,453.5 L1140.4,465.8 L1141.4,474.4 L1141.5,483.0 L1141.1,491.6 L1141.9,500.2 M875.6,377.3 L883.0,377.2 L890.3,378.0 L897.7,376.3 L905.1,377.3 L912.4,376.7 L919.8,376.1 L927.1,377.5 L934.5,376.2 L941.9,377.3 L949.2,377.7 L956.6,376.8 L963.9,378.3 L971.3,377.1 L978.6,377.1 L986.0,377.7 L993.4,376.0 L1005.3,377.2 L1009.8,375.2 L1014.4,375.4 L1028.1,376.9 L1036.3,378.0 L1044.5,379.0 L1052.6,378.6 L1059.8,380.2 L1066.9,379.1 L1074.1,379.5 L1081.2,380.4 L1093.3,383.1 L1098.4,387.2 L1099.1,392.0 L1102.2,401.1 L1103.7,407.9 L1104.5,414.7 L1108.0,423.8 L1114.1,434.1 L1122.1,440.4 L1129.2,447.1 L1132.8,456.2 L1136.4,468.2 L1136.6,476.5 L1136.1,484.7 L1136.6,493.0 L1137.5,501.2 M883.3,383.3 L890.8,382.5 L898.2,382.3 L905.7,383.7 L913.2,382.5 L920.6,383.9 L928.1,383.7 L935.6,383.0 L943.0,384.3 L950.5,382.6 L957.9,383.3 L965.4,383.1 L972.9,382.0 L980.3,383.5 L987.8,382.2 L995.3,383.0 L1006.6,382.9 L1011.0,381.9 L1015.3,383.3 L1028.3,382.9 L1036.0,384.6 L1043.7,383.9 L1051.4,384.3 L1060.4,384.9 L1069.4,384.6 L1078.4,386.1 L1089.8,389.4 L1095.0,393.5 L1096.5,398.0 L1099.8,406.8 L1100.6,419.7 L1105.2,428.2 L1110.9,437.7 L1117.5,444.0 L1124.2,449.4 L1128.7,457.6 L1131.7,469.3 L1131.2,477.1 L1131.5,485.0 L1132.4,492.9 L1132.4,500.8 M891.3,388.7 L898.4,390.0 L905.5,389.9 L912.5,388.8 L919.6,390.1 L926.7,388.8 L933.8,388.6 L940.9,389.5 L947.9,388.0 L955.0,389.0 L962.1,389.3 L969.2,388.4 L976.2,390.1 L983.3,389.4 L990.4,389.2 L997.5,390.4 L1008.2,388.7 L1012.2,388.7 L1016.4,389.3 L1028.8,388.5 L1036.2,390.0 L1043.6,389.1 L1051.0,390.8 L1059.6,390.9 L1068.2,391.6 L1076.8,392.6 L1088.1,395.5 L1093.0,399.1 L1093.9,403.4 L1095.8,411.6 L1098.2,423.7 L1102.1,431.4 L1106.4,440.1 L1113.2,446.4 L1120.5,451.2 L1124.6,458.8 L1126.2,470.0 L1126.5,477.5 L1127.4,485.0 L1127.6,492.5 L1127.1,500.0 M900.0,395.9 L907.2,394.3 L914.3,394.9 L921.5,395.2 L928.7,394.1 L935.8,395.7 L943.0,395.2 L950.2,395.1 L957.3,396.5 L964.5,395.0 L971.7,395.8 L978.8,395.9 L986.0,394.4 L993.2,395.6 L1000.4,394.6 L1010.5,395.1 L1014.4,394.8 L1018.3,394.5 L1030.0,395.8 L1040.3,395.7 L1050.7,397.8 L1058.8,396.9 L1066.8,397.7 L1074.9,397.8 L1085.0,400.5 L1089.3,403.9 L1090.2,408.0 L1093.3,415.8 L1095.0,427.4 L1097.9,434.7 L1103.0,442.9 L1109.9,449.6 L1116.3,454.5 L1119.3,461.2 L1121.6,471.7 L1122.5,478.8 L1122.6,485.9 L1122.2,493.0 L1122.3,500.1 M907.2,400.5 L914.5,402.2 L921.8,401.2 L929.0,401.6 L936.3,402.3 L943.6,400.8 L950.9,402.0 L958.1,401.1 L965.4,400.4 L972.7,401.6 L980.0,400.1 L987.2,401.1 L994.5,401.5 L1001.8,400.6 L1011.3,402.4 L1015.0,401.0 L1018.7,400.5 L1029.7,402.6 L1039.5,401.3 L1049.3,403.1 L1057.0,401.7 L1064.6,403.2 L1072.3,403.1 L1082.3,406.4 L1086.8,409.9 L1088.1,413.8 L1090.4,421.3 L1091.2,432.2 L1095.1,439.1 L1100.0,446.7 L1105.7,453.3 L1111.2,457.9 L1114.5,463.7 L1117.6,473.2 L1117.5,482.1 L1117.2,491.0 L1118.1,499.8 M916.2,408.1 L923.6,406.6 L931.0,407.9 L938.4,406.6 L945.8,406.6 L953.2,407.5 L960.6,406.2 L968.0,407.8 L975.4,407.4 L982.8,407.2 L990.2,408.6 L997.6,407.0 L1005.0,407.9 L1014.0,407.1 L1017.4,405.7 L1020.8,406.2 L1031.2,407.3 L1040.4,407.2 L1049.7,408.7 L1056.8,408.0 L1064.0,410.0 L1071.2,409.7 L1080.3,412.8 L1084.2,415.9 L1084.7,419.6 L1086.6,426.6 L1088.8,436.8 L1092.0,443.0 L1095.6,449.6 L1101.0,455.7 L1107.0,460.3 L1110.7,465.4 L1112.7,474.0 L1112.2,482.3 L1112.9,490.6 L1113.6,498.9 M923.7,412.8 L931.2,413.7 L938.8,412.5 L946.3,414.3 L953.9,413.5 L961.4,413.6 L969.0,414.4 L976.5,412.8 L984.0,414.0 L991.6,412.9 L999.1,412.6 L1006.7,413.6 L1015.1,412.2 L1018.3,412.1 L1021.5,413.2 L1031.2,413.0 L1039.7,414.7 L1048.3,414.9 L1058.3,415.6 L1068.3,415.1 L1076.8,417.9 L1080.6,420.8 L1081.7,424.2 L1084.4,430.7 L1085.4,440.3 L1087.8,446.1 L1092.0,452.1 L1097.7,457.9 L1103.3,463.0 L1106.0,468.0 L1107.3,475.9 L1107.8,483.6 L1108.6,491.3 L1108.5,499.0 M931.9,419.7 L939.0,419.4 L946.0,420.5 L953.0,418.8 L960.0,419.3 L967.0,419.6 L974.1,418.1 L981.1,419.5 L988.1,419.1 L995.1,418.7 L1002.1,420.3 L1009.1,419.3 L1016.9,419.9 L1019.9,420.0 L1022.9,420.2 L1032.0,419.1 L1040.0,420.9 L1048.1,419.7 L1057.4,421.0 L1066.8,420.3 L1075.0,423.5 L1078.6,426.3 L1079.4,429.5 L1080.8,435.8 L1081.7,444.7 L1085.0,450.3 L1089.1,455.8 L1093.9,461.2 L1098.3,466.6 L1100.7,471.4 L1102.9,478.7 L1103.7,485.8 L1103.6,493.0 L1103.2,500.2 M940.4,425.5 L947.5,425.0 L954.7,424.4 L961.8,426.0 L969.0,424.9 L976.1,425.6 L983.2,426.5 L990.4,425.1 L997.5,426.4 L1004.7,425.8 L1011.8,424.9 L1019.0,426.1 L1021.8,425.2 L1024.6,424.6 L1032.9,424.9 L1040.3,426.2 L1047.6,425.3 L1056.2,427.5 L1064.8,426.8 L1072.0,430.0 L1075.1,432.6 L1075.6,435.6 L1077.5,441.3 L1079.4,449.7 L1081.9,454.7 L1084.8,459.5 L1089.1,463.9 L1093.6,469.0 L1096.5,473.7 L1098.7,480.5 L1098.4,490.4 L1098.5,500.4 M947.7,431.0 L955.0,432.2 L962.3,432.2 L969.6,431.2 L976.9,432.5 L984.2,431.0 L991.5,431.1 L998.8,431.7 L1006.1,430.2 L1013.4,431.6 L1020.0,431.4 L1022.5,430.3 L1025.1,430.3 L1032.7,432.4 L1046.4,432.2 L1054.3,434.0 L1062.3,432.6 L1069.3,435.5 L1072.4,437.7 L1073.3,440.4 L1075.2,445.7 L1075.8,453.3 L1077.7,457.9 L1080.9,462.1 L1085.4,465.8 L1089.9,470.7 L1092.5,475.4 L1093.6,481.8 L1093.3,491.0 L1094.3,500.2 M956.8,438.3 L964.2,436.6 L971.7,437.3 L979.2,437.4 L986.7,436.4 L994.2,438.1 L1001.6,437.1 L1009.1,437.8 L1016.6,438.5 L1022.6,437.2 L1025.0,436.8 L1027.3,437.4 L1034.3,438.6 L1046.7,438.1 L1053.9,439.0 L1061.2,437.7 L1067.3,440.7 L1069.9,442.8 L1070.3,445.3 L1071.4,450.2 L1072.3,457.2 L1074.9,461.6 L1078.1,465.5 L1081.9,468.7 L1085.5,473.3 L1087.3,477.9 L1088.3,484.0 L1089.1,492.5 L1089.8,500.9 M964.1,442.7 L971.8,444.5 L979.5,443.3 L987.2,444.2 L995.0,444.3 L1002.7,443.2 L1010.4,444.5 L1018.1,442.7 L1023.6,443.0 L1025.7,443.0 L1027.8,443.6 L1034.1,443.2 L1045.2,444.4 L1058.3,444.1 L1063.8,447.1 L1066.2,449.1 L1066.9,451.4 L1068.6,455.9 L1070.0,462.2 L1071.8,466.2 L1074.0,469.7 L1077.2,472.3 L1080.4,476.0 L1082.4,480.1 L1084.1,485.8 L1084.8,493.4 L1084.5,501.0 M972.6,450.5 L980.6,449.0 L988.7,450.3 L996.7,448.6 L1004.8,449.5 L1012.8,449.2 L1020.8,449.0 L1025.7,450.3 L1027.5,450.0 L1029.4,450.0 L1035.1,449.2 L1045.1,451.5 L1056.9,450.5 L1062.0,453.0 L1064.3,454.6 L1064.8,456.7 L1065.9,460.6 L1066.2,466.3 L1067.6,469.8 L1069.9,472.8 L1073.1,474.7 L1076.5,477.6 L1078.5,481.2 L1079.9,486.2 L1079.3,499.8 M980.8,455.0 L987.9,456.1 L994.9,454.8 L1002.0,456.1 L1009.1,456.3 L1016.2,455.4 L1023.2,456.9 L1027.5,456.5 L1029.2,455.8 L1030.9,455.4 L1035.8,455.3 L1044.5,457.0 L1054.8,455.7 L1059.0,457.9 L1060.8,459.4 L1061.1,461.2 L1062.0,464.8 L1062.9,469.8 L1064.7,473.0 L1067.0,475.7 L1069.9,477.5 L1072.6,479.8 L1074.0,482.8 L1074.6,487.2 L1074.8,499.2 M988.3,462.1 L995.6,461.7 L1003.0,462.8 L1010.3,461.1 L1017.6,461.9 L1025.0,461.6 L1028.7,460.7 L1030.1,460.2 L1031.5,460.3 L1035.8,461.4 L1043.4,462.2 L1052.3,461.9 L1056.2,464.1 L1058.0,465.5 L1058.5,467.1 L1059.7,470.2 L1060.5,474.6 L1061.7,477.4 L1063.3,479.9 L1065.4,481.4 L1067.5,483.2 L1068.6,485.6 L1069.5,489.3 L1070.6,499.6 M997.3,467.8 L1005.0,467.3 L1012.7,466.9 L1020.4,468.3 L1028.2,467.0 L1031.3,467.3 L1032.5,467.4 L1033.7,467.8 L1037.3,468.8 L1043.7,468.5 L1051.2,468.6 L1054.3,470.4 L1055.7,471.4 L1055.9,472.8 L1056.5,475.4 L1056.6,479.0 L1057.5,481.4 L1059.0,483.5 L1061.0,484.7 L1063.0,486.0 L1064.3,487.9 L1065.3,490.8 L1065.9,499.5 M1004.5,473.4 L1012.9,474.7 L1021.2,474.1 L1029.6,474.1 L1032.1,474.6 L1033.1,474.6 L1034.1,474.7 L1037.0,474.6 L1042.2,473.5 L1048.2,474.0 L1050.8,475.4 L1051.9,476.2 L1052.2,477.3 L1052.9,479.4 L1053.5,482.4 L1054.6,484.4 L1056.0,486.2 L1057.7,487.3 L1059.4,488.3 L1060.3,489.8 L1060.9,492.1 L1060.6,499.1" fill="none" stroke="#e4d250" stroke-opacity="0.5" stroke-width="1.2"/></g>
    <rect x="886" y="57" width="530" height="390" fill="url(#dkR)"/>
    <rect x="886" y="57" width="530" height="390" fill="url(#hiR)"/>
    <rect x="886" y="90" width="180" height="357" fill="url(#spkGR)" filter="url(#spk)"/>
    <rect x="886" y="90" width="180" height="357" fill="url(#spkGR)" filter="url(#spkd)"/>
    <rect x="886" y="57" width="530" height="390" fill="url(#orR)"/>
  </g>
  <path d="M886,245 Q903,290 896,345 Q892,375 886,395" fill="none" stroke="#d8ca50" stroke-width="4" opacity="0.8"/>
  <path d="M948,140 Q958,260 968,330 L976,420" fill="none" stroke="#9a8200" stroke-width="4.5" opacity="0.4"/>
  <path d="M960,420 Q1060,350 1170,262" fill="none" stroke="#8a7a10" stroke-width="1.5" opacity="0.2"/>
  <path d="M886,96 L925,96 L940,92.5 L955,94 L1000,96.5 L1080,100" fill="none" stroke="#d0c454" stroke-width="3"/>
  <rect x="1235" y="129.1" width="170.3" height="6.3" fill="#fff"/>
</g>

<g shape-rendering="crispEdges">
</g>
<rect x="220.5" y="592.3" width="4.5" height="472.7" fill="#000"/>
<rect x="211" y="592.25" width="11.75" height="4.5" fill="#000"/>
<text x="144.92" y="606.9" font-size="40" fill="#000">12</text>
<rect x="211" y="745.15" width="11.75" height="4.5" fill="#000"/>
<text x="166.89" y="759.8" font-size="40" fill="#000">8</text>
<rect x="211" y="898.05" width="11.75" height="4.5" fill="#000"/>
<text x="166.33" y="912.7" font-size="40" fill="#000">4</text>
<rect x="211" y="1050.95" width="11.75" height="4.5" fill="#000"/>
<text x="166.72" y="1065.6" font-size="40" fill="#000">0</text>
<rect x="211" y="1050.95" width="495.5" height="4.5" fill="#000"/>
<rect x="220.5" y="1053.2" width="4.5" height="11.8" fill="#000"/>
<rect x="300.75" y="1053.2" width="4.5" height="11.8" fill="#000"/>
<rect x="381.15" y="1053.2" width="4.5" height="11.8" fill="#000"/>
<rect x="461.05" y="1053.2" width="4.5" height="11.8" fill="#000"/>
<rect x="541.35" y="1053.2" width="4.5" height="11.8" fill="#000"/>
<rect x="621.65" y="1053.2" width="4.5" height="11.8" fill="#000"/>
<rect x="701.85" y="1053.2" width="4.5" height="11.8" fill="#000"/>
<rect x="244.75" y="949.6" width="36.5" height="105.85" fill="#000"/>
<rect x="260.8" y="915.1" width="4.4" height="35.5" fill="#000"/>
<rect x="256" y="914.1" width="14" height="4.5" fill="#000"/>
<rect x="325.25" y="859.6" width="36.5" height="195.85" fill="#000"/>
<rect x="341.3" y="805.8" width="4.4" height="54.8" fill="#000"/>
<rect x="336.5" y="804.8" width="14" height="4.5" fill="#000"/>
<rect x="405.35" y="921" width="36.5" height="134.45" fill="#000"/>
<rect x="421.4" y="888.2" width="4.4" height="33.8" fill="#000"/>
<rect x="416.6" y="887.2" width="14" height="4.5" fill="#000"/>
<rect x="485.35" y="701.6" width="36.5" height="353.85" fill="#000"/>
<rect x="501.4" y="603.3" width="4.4" height="99.3" fill="#000"/>
<rect x="496.6" y="602.3" width="14" height="4.5" fill="#000"/>
<rect x="565.35" y="920.8" width="36.5" height="134.65" fill="#000"/>
<rect x="581.4" y="883.1" width="4.4" height="38.7" fill="#000"/>
<rect x="576.6" y="882.1" width="14" height="4.5" fill="#000"/>
<rect x="645.65" y="915.5" width="36.5" height="139.95" fill="#000"/>
<rect x="661.7" y="855.1" width="4.4" height="61.4" fill="#000"/>
<rect x="656.9" y="854.1" width="14" height="4.5" fill="#000"/>
<text x="255.63" y="892" font-size="40" fill="#000">a</text>
<text x="324.44" y="783.8" font-size="40" fill="#000">ab</text>
<text x="404.54" y="865" font-size="40" fill="#000">ab</text>
<text x="495.93" y="590" font-size="40" fill="#000">b</text>
<text x="563.14" y="860.5" font-size="40" fill="#000">ab</text>
<text x="641.34" y="832.7" font-size="40" fill="#000">ab</text>
<text x="230.84" y="1113.1" font-size="40" fill="#000">Jan</text>
<text x="308.24" y="1113.1" font-size="40" fill="#000">Feb</text>
<text x="388.65" y="1113.1" font-size="40" fill="#000">Mar</text>
<text x="472.77" y="1113.1" font-size="40" fill="#000">Apr</text>
<text x="552.34" y="1113.1" font-size="40" fill="#000">Jun</text>
<text x="629.56" y="1113.1" font-size="40" fill="#000">Aug</text>
<text transform="translate(114,1081.26) rotate(-90)" x="0" y="0" font-size="44" textLength="514.94" lengthAdjust="spacingAndGlyphs">% of TRAP-positive scales</text>
<rect x="969.35" y="596" width="4.5" height="469" fill="#000"/>
<rect x="960" y="595.95" width="11.6" height="4.5" fill="#000"/>
<text x="893.57" y="610.2" font-size="40" fill="#000">80</text>
<rect x="960" y="709.65" width="11.6" height="4.5" fill="#000"/>
<text x="893.57" y="723.9" font-size="40" fill="#000">60</text>
<rect x="960" y="823.35" width="11.6" height="4.5" fill="#000"/>
<text x="893.57" y="837.6" font-size="40" fill="#000">40</text>
<rect x="960" y="937.05" width="11.6" height="4.5" fill="#000"/>
<text x="893.57" y="951.3" font-size="40" fill="#000">20</text>
<rect x="960" y="1050.95" width="11.6" height="4.5" fill="#000"/>
<text x="915.82" y="1065.2" font-size="40" fill="#000">0</text>
<rect x="960" y="1050.95" width="496.6" height="4.5" fill="#000"/>
<rect x="969.55" y="1053.2" width="4.5" height="11.8" fill="#000"/>
<rect x="1049.85" y="1053.2" width="4.5" height="11.8" fill="#000"/>
<rect x="1130.25" y="1053.2" width="4.5" height="11.8" fill="#000"/>
<rect x="1210.95" y="1053.2" width="4.5" height="11.8" fill="#000"/>
<rect x="1291.25" y="1053.2" width="4.5" height="11.8" fill="#000"/>
<rect x="1371.55" y="1053.2" width="4.5" height="11.8" fill="#000"/>
<rect x="1452.15" y="1053.2" width="4.5" height="11.8" fill="#000"/>
<rect x="993.55" y="745.4" width="36.5" height="310.05" fill="#000"/>
<rect x="1009.6" y="710.2" width="4.4" height="36.2" fill="#000"/>
<rect x="1004.8" y="709.2" width="14" height="4.5" fill="#000"/>
<rect x="1074.15" y="774.6" width="36.5" height="280.85" fill="#000"/>
<rect x="1090.2" y="732" width="4.4" height="43.6" fill="#000"/>
<rect x="1085.4" y="731" width="14" height="4.5" fill="#000"/>
<rect x="1154.55" y="749.7" width="36.5" height="305.75" fill="#000"/>
<rect x="1170.6" y="714.4" width="4.4" height="36.3" fill="#000"/>
<rect x="1165.8" y="713.4" width="14" height="4.5" fill="#000"/>
<rect x="1235.05" y="818.1" width="36.5" height="237.35" fill="#000"/>
<rect x="1251.1" y="770.9" width="4.4" height="48.2" fill="#000"/>
<rect x="1246.3" y="769.9" width="14" height="4.5" fill="#000"/>
<rect x="1315.55" y="610" width="36.5" height="445.45" fill="#000"/>
<rect x="1331.6" y="600.3" width="4.4" height="10.7" fill="#000"/>
<rect x="1326.8" y="599.3" width="14" height="4.5" fill="#000"/>
<rect x="1395.85" y="667.7" width="36.5" height="387.75" fill="#000"/>
<rect x="1411.9" y="615.2" width="4.4" height="53.5" fill="#000"/>
<rect x="1407.1" y="614.2" width="14" height="4.5" fill="#000"/>
<text x="996.44" y="689.2" font-size="40" fill="#000">ab</text>
<text x="1083.23" y="715.4" font-size="40" fill="#000">a</text>
<text x="1154.64" y="699.3" font-size="40" fill="#000">ab</text>
<text x="1241.33" y="754.3" font-size="40" fill="#000">a</text>
<text x="1324.23" y="587" font-size="40" fill="#000">b</text>
<text x="1392.64" y="594.4" font-size="40" fill="#000">ab</text>
<text x="980.44" y="1113.1" font-size="40" fill="#000">Jan</text>
<text x="1057.14" y="1113.1" font-size="40" fill="#000">Feb</text>
<text x="1137.05" y="1113.1" font-size="40" fill="#000">Mar</text>
<text x="1222.47" y="1113.1" font-size="40" fill="#000">Apr</text>
<text x="1302.54" y="1113.1" font-size="40" fill="#000">Jun</text>
<text x="1379.76" y="1113.1" font-size="40" fill="#000">Aug</text>
<text transform="translate(865,1090.21) rotate(-90)" x="0" y="0" font-size="44" textLength="514.43" lengthAdjust="spacingAndGlyphs">% of TRAP-negative scales</text>
<rect x="202.55" y="1248.2" width="4.5" height="419.2" fill="#000"/>
<rect x="191.1" y="1348.15" width="13.7" height="4.5" fill="#000"/>
<text x="143.91" y="1362.4" font-size="40" fill="#000">6</text>
<rect x="191.1" y="1500.75" width="13.7" height="4.5" fill="#000"/>
<text x="143.91" y="1515" font-size="40" fill="#000">3</text>
<rect x="191.1" y="1653.75" width="13.7" height="4.5" fill="#000"/>
<text x="143.72" y="1668" font-size="40" fill="#000">0</text>
<rect x="191.1" y="1653.75" width="627.9" height="4.5" fill="#000"/>
<rect x="202.65" y="1656" width="4.5" height="11.4" fill="#000"/>
<rect x="279.25" y="1656" width="4.5" height="11.4" fill="#000"/>
<rect x="355.65" y="1656" width="4.5" height="11.4" fill="#000"/>
<rect x="432.05" y="1656" width="4.5" height="11.4" fill="#000"/>
<rect x="508.45" y="1656" width="4.5" height="11.4" fill="#000"/>
<rect x="585.05" y="1656" width="4.5" height="11.4" fill="#000"/>
<rect x="661.55" y="1656" width="4.5" height="11.4" fill="#000"/>
<rect x="738.15" y="1656" width="4.5" height="11.4" fill="#000"/>
<rect x="814.35" y="1656" width="4.5" height="11.4" fill="#000"/>
<rect x="224.1" y="1604.4" width="38" height="53.85" fill="#000"/>
<rect x="240.9" y="1592.3" width="4.4" height="13.1" fill="#000"/>
<rect x="236.1" y="1591.3" width="14" height="4.5" fill="#000"/>
<rect x="300.6" y="1511.1" width="38" height="147.15" fill="#000"/>
<rect x="317.4" y="1502.3" width="4.4" height="9.8" fill="#000"/>
<rect x="312.6" y="1501.3" width="14" height="4.5" fill="#000"/>
<rect x="377" y="1519.2" width="38" height="139.05" fill="#000"/>
<rect x="393.8" y="1499.2" width="4.4" height="21" fill="#000"/>
<rect x="389" y="1498.2" width="14" height="4.5" fill="#000"/>
<rect x="453.7" y="1470.6" width="38" height="187.65" fill="#000"/>
<rect x="470.5" y="1452.2" width="4.4" height="19.4" fill="#000"/>
<rect x="465.7" y="1451.2" width="14" height="4.5" fill="#000"/>
<rect x="530" y="1339.4" width="38" height="318.85" fill="#000"/>
<rect x="546.8" y="1307.1" width="4.4" height="33.3" fill="#000"/>
<rect x="542" y="1306.1" width="14" height="4.5" fill="#000"/>
<rect x="606.6" y="1543.4" width="38" height="114.85" fill="#000"/>
<rect x="623.4" y="1533.1" width="4.4" height="11.3" fill="#000"/>
<rect x="618.6" y="1532.1" width="14" height="4.5" fill="#000"/>
<rect x="683" y="1540.5" width="38" height="117.75" fill="#000"/>
<rect x="699.8" y="1515.5" width="4.4" height="26" fill="#000"/>
<rect x="695" y="1514.5" width="14" height="4.5" fill="#000"/>
<rect x="759.5" y="1423" width="38" height="235.25" fill="#000"/>
<rect x="776.3" y="1395.8" width="4.4" height="28.2" fill="#000"/>
<rect x="771.5" y="1394.8" width="14" height="4.5" fill="#000"/>
<text x="232.53" y="1553.3" font-size="40" fill="#000">a</text>
<text x="309.83" y="1454" font-size="40" fill="#000">b</text>
<text x="388.43" y="1450" font-size="40" fill="#000">b</text>
<text x="462.03" y="1397" font-size="40" fill="#000">b</text>
<text x="537.78" y="1255" font-size="40" fill="#000">c</text>
<text x="601.04" y="1490.5" font-size="40" fill="#000">ab</text>
<text x="676.74" y="1463.1" font-size="40" fill="#000">ab</text>
<text x="764.93" y="1375.5" font-size="40" fill="#000">b</text>
<text x="207.62" y="1715.3" font-size="40" fill="#000">Dec</text>
<text x="287.54" y="1715.3" font-size="40" fill="#000">Jan</text>
<text x="361.34" y="1715.3" font-size="40" fill="#000">Feb</text>
<text x="438.25" y="1715.3" font-size="40" fill="#000">Mar</text>
<text x="518.17" y="1715.3" font-size="40" fill="#000">Apr</text>
<text x="586.22" y="1715.3" font-size="40" fill="#000">May</text>
<text x="670.74" y="1715.3" font-size="40" fill="#000">Jun</text>
<text x="744.16" y="1715.3" font-size="40" fill="#000">Aug</text>
<text transform="translate(110.8,1682.17) rotate(-90)" x="0" y="0" font-size="44" textLength="467.8" lengthAdjust="spacingAndGlyphs">Relative expression level</text>
<text x="672.61" y="1242.9" font-size="42.5" font-style="italic" fill="#000" textLength="101.51" lengthAdjust="spacingAndGlyphs">cathk</text>
<rect x="967.05" y="1242.3" width="4.5" height="410.4" fill="#000"/>
<rect x="957.4" y="1242.25" width="11.9" height="4.5" fill="#000"/>
<text x="913.77" y="1256.8" font-size="40" fill="#000">2</text>
<rect x="957.4" y="1341.35" width="11.9" height="4.5" fill="#000"/>
<text x="880.07" y="1355.9" font-size="40" fill="#000">1.5</text>
<rect x="957.4" y="1440.45" width="11.9" height="4.5" fill="#000"/>
<text x="913.71" y="1455" font-size="40" fill="#000">1</text>
<rect x="957.4" y="1539.55" width="11.9" height="4.5" fill="#000"/>
<text x="880.07" y="1554.1" font-size="40" fill="#000">0.5</text>
<rect x="957.4" y="1638.65" width="11.9" height="4.5" fill="#000"/>
<text x="913.32" y="1653.2" font-size="40" fill="#000">0</text>
<rect x="957.4" y="1638.65" width="540.6" height="4.5" fill="#000"/>
<rect x="967.05" y="1640.9" width="4.5" height="11.8" fill="#000"/>
<rect x="1042.15" y="1640.9" width="4.5" height="11.8" fill="#000"/>
<rect x="1117.35" y="1640.9" width="4.5" height="11.8" fill="#000"/>
<rect x="1192.85" y="1640.9" width="4.5" height="11.8" fill="#000"/>
<rect x="1268.05" y="1640.9" width="4.5" height="11.8" fill="#000"/>
<rect x="1343.25" y="1640.9" width="4.5" height="11.8" fill="#000"/>
<rect x="1418.25" y="1640.9" width="4.5" height="11.8" fill="#000"/>
<rect x="1493.45" y="1640.9" width="4.5" height="11.8" fill="#000"/>
<rect x="990.05" y="1440.8" width="34.3" height="202.35" fill="#000"/>
<rect x="1005" y="1404" width="4.4" height="37.8" fill="#000"/>
<rect x="1000.2" y="1403" width="14" height="4.5" fill="#000"/>
<rect x="1065.25" y="1322.7" width="34.3" height="320.45" fill="#000"/>
<rect x="1080.2" y="1300" width="4.4" height="23.7" fill="#000"/>
<rect x="1075.4" y="1299" width="14" height="4.5" fill="#000"/>
<rect x="1140.35" y="1323.3" width="34.3" height="319.85" fill="#000"/>
<rect x="1155.3" y="1286.1" width="4.4" height="38.2" fill="#000"/>
<rect x="1150.5" y="1285.1" width="14" height="4.5" fill="#000"/>
<rect x="1215.45" y="1315.6" width="34.3" height="327.55" fill="#000"/>
<rect x="1230.4" y="1285.5" width="4.4" height="31.1" fill="#000"/>
<rect x="1225.6" y="1284.5" width="14" height="4.5" fill="#000"/>
<rect x="1290.55" y="1423.6" width="34.3" height="219.55" fill="#000"/>
<rect x="1305.5" y="1395.9" width="4.4" height="28.7" fill="#000"/>
<rect x="1300.7" y="1394.9" width="14" height="4.5" fill="#000"/>
<rect x="1365.85" y="1526.6" width="34.3" height="116.55" fill="#000"/>
<rect x="1380.8" y="1511.2" width="4.4" height="16.4" fill="#000"/>
<rect x="1376" y="1510.2" width="14" height="4.5" fill="#000"/>
<rect x="1441.15" y="1548.7" width="34.3" height="94.45" fill="#000"/>
<rect x="1456.1" y="1534.4" width="4.4" height="15.3" fill="#000"/>
<rect x="1451.3" y="1533.4" width="14" height="4.5" fill="#000"/>
<text x="975.43" y="1385.4" font-size="40" fill="#000">abc</text>
<text x="1061.52" y="1285.2" font-size="40" fill="#000">cd</text>
<text x="1134.8" y="1269.4" font-size="40" font-style="italic" fill="#000">cd</text>
<text x="1221.33" y="1271.1" font-size="40" fill="#000">d</text>
<text x="1273.39" y="1372.9" font-size="40" fill="#000">acd</text>
<text x="1363.24" y="1499.1" font-size="40" fill="#000">ab</text>
<text x="1448.53" y="1523.9" font-size="40" fill="#000">b</text>
<text x="971.72" y="1701.1" font-size="40" fill="#000">Dec</text>
<text x="1050.14" y="1701.1" font-size="40" fill="#000">Jan</text>
<text x="1122.84" y="1701.1" font-size="40" fill="#000">Feb</text>
<text x="1196.85" y="1701.1" font-size="40" fill="#000">Mar</text>
<text x="1276.87" y="1701.1" font-size="40" fill="#000">Apr</text>
<text x="1343.62" y="1701.1" font-size="40" fill="#000">May</text>
<text x="1427.04" y="1701.1" font-size="40" fill="#000">Jun</text>
<text transform="translate(867,1682.48) rotate(-90)" x="0" y="0" font-size="44" textLength="469.22" lengthAdjust="spacingAndGlyphs">Relative expression level</text>
<text x="1306.94" y="1242.8" font-size="42" font-style="italic" fill="#000" textLength="187.59" lengthAdjust="spacingAndGlyphs">V-ATPase</text>
<rect x="191.35" y="1781.9" width="4.5" height="421.8" fill="#000"/>
<rect x="179.8" y="1781.95" width="13.8" height="4.5" fill="#000"/>
<text x="131.65" y="1796.4" font-size="40" fill="#000">9</text>
<rect x="179.8" y="1917.75" width="13.8" height="4.5" fill="#000"/>
<text x="131.51" y="1932.2" font-size="40" fill="#000">6</text>
<rect x="179.8" y="2053.65" width="13.8" height="4.5" fill="#000"/>
<text x="131.51" y="2068.1" font-size="40" fill="#000">3</text>
<rect x="179.8" y="2189.45" width="13.8" height="4.5" fill="#000"/>
<text x="131.32" y="2203.9" font-size="40" fill="#000">0</text>
<rect x="179.8" y="2189.45" width="627.2" height="4.5" fill="#000"/>
<rect x="191.15" y="2191.7" width="4.5" height="12" fill="#000"/>
<rect x="267.25" y="2191.7" width="4.5" height="12" fill="#000"/>
<rect x="344.05" y="2191.7" width="4.5" height="12" fill="#000"/>
<rect x="420.45" y="2191.7" width="4.5" height="12" fill="#000"/>
<rect x="496.75" y="2191.7" width="4.5" height="12" fill="#000"/>
<rect x="573.35" y="2191.7" width="4.5" height="12" fill="#000"/>
<rect x="649.75" y="2191.7" width="4.5" height="12" fill="#000"/>
<rect x="726.15" y="2191.7" width="4.5" height="12" fill="#000"/>
<rect x="802.45" y="2191.7" width="4.5" height="12" fill="#000"/>
<rect x="212.2" y="2146.4" width="38.4" height="47.55" fill="#000"/>
<rect x="229.2" y="2125.5" width="4.4" height="21.9" fill="#000"/>
<rect x="224.4" y="2124.5" width="14" height="4.5" fill="#000"/>
<rect x="288.6" y="1894.6" width="38.4" height="299.35" fill="#000"/>
<rect x="305.6" y="1868.1" width="4.4" height="27.5" fill="#000"/>
<rect x="300.8" y="1867.1" width="14" height="4.5" fill="#000"/>
<rect x="364.8" y="2004.4" width="38.4" height="189.55" fill="#000"/>
<rect x="381.8" y="1962.5" width="4.4" height="42.9" fill="#000"/>
<rect x="377" y="1961.5" width="14" height="4.5" fill="#000"/>
<rect x="441.8" y="2007" width="38.4" height="186.95" fill="#000"/>
<rect x="458.8" y="1977.5" width="4.4" height="30.5" fill="#000"/>
<rect x="454" y="1976.5" width="14" height="4.5" fill="#000"/>
<rect x="518.2" y="1844" width="38.4" height="349.95" fill="#000"/>
<rect x="535.2" y="1793.9" width="4.4" height="51.1" fill="#000"/>
<rect x="530.4" y="1792.9" width="14" height="4.5" fill="#000"/>
<rect x="594.6" y="2123" width="38.4" height="70.95" fill="#000"/>
<rect x="611.6" y="2106" width="4.4" height="18" fill="#000"/>
<rect x="606.8" y="2105" width="14" height="4.5" fill="#000"/>
<rect x="671" y="2029.5" width="38.4" height="164.45" fill="#000"/>
<rect x="688" y="1975.2" width="4.4" height="55.3" fill="#000"/>
<rect x="683.2" y="1974.2" width="14" height="4.5" fill="#000"/>
<rect x="747.5" y="2009" width="38.4" height="184.95" fill="#000"/>
<rect x="764.5" y="1967.5" width="4.4" height="42.5" fill="#000"/>
<rect x="759.7" y="1966.5" width="14" height="4.5" fill="#000"/>
<text x="221.13" y="2100.2" font-size="40" fill="#000">a</text>
<text x="287.32" y="1840.4" font-size="40" fill="#000">cd</text>
<text x="364.72" y="1932.2" font-size="40" fill="#000">bc</text>
<text x="439.72" y="1955.2" font-size="40" fill="#000">bc</text>
<text x="521.53" y="1777.5" font-size="40" fill="#000">d</text>
<text x="588.64" y="2076.2" font-size="40" fill="#000">ab</text>
<text x="664.14" y="1951.5" font-size="40" fill="#000">ab</text>
<text x="748.32" y="1942.3" font-size="40" fill="#000">bc</text>
<text x="195.62" y="2251.2" font-size="40" fill="#000">Dec</text>
<text x="276.54" y="2251.2" font-size="40" fill="#000">Jan</text>
<text x="348.74" y="2251.2" font-size="40" fill="#000">Feb</text>
<text x="425.25" y="2251.2" font-size="40" fill="#000">Mar</text>
<text x="506.57" y="2251.2" font-size="40" fill="#000">Apr</text>
<text x="574.42" y="2251.2" font-size="40" fill="#000">May</text>
<text x="658.94" y="2251.2" font-size="40" fill="#000">Jun</text>
<text x="732.36" y="2251.2" font-size="40" fill="#000">Aug</text>
<text transform="translate(110.6,2213.08) rotate(-90)" x="0" y="0" font-size="44" textLength="468.81" lengthAdjust="spacingAndGlyphs">Relative expression level</text>
<text x="681.3" y="1780.9" font-size="42.3" font-style="italic" fill="#000" textLength="91.75" lengthAdjust="spacingAndGlyphs">rankl</text>
<text x="542.58" y="113.4" font-size="44" fill="#fff" textLength="165.41" lengthAdjust="spacingAndGlyphs">1000 µm</text>
<text x="1234.78" y="113.4" font-size="44" fill="#fff" textLength="165.3" lengthAdjust="spacingAndGlyphs">1000 µm</text>
<text x="-1.45" y="38.8" font-size="57" font-weight="bold" fill="#000" textLength="41.98" lengthAdjust="spacingAndGlyphs">A</text>
<text x="0.4" y="561.9" font-size="56.5" font-weight="bold" fill="#000" textLength="38.84" lengthAdjust="spacingAndGlyphs">B</text>
<text x="-1.33" y="1219.9" font-size="56.5" font-weight="bold" fill="#000" textLength="37.55" lengthAdjust="spacingAndGlyphs">C</text>
</svg>
</body></html>
